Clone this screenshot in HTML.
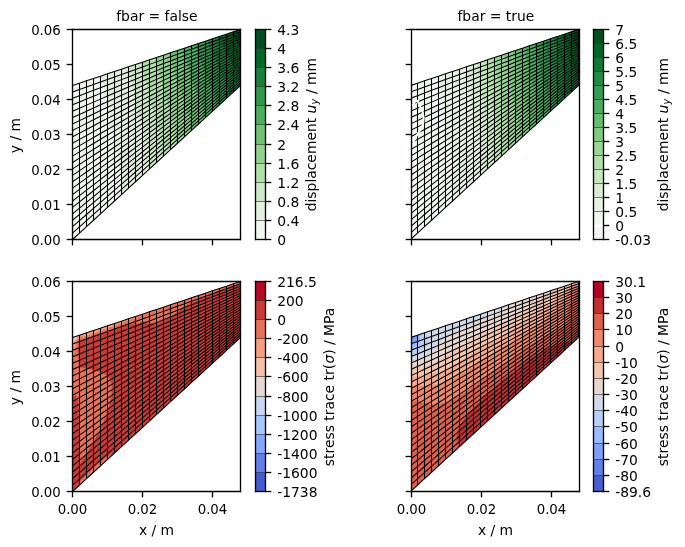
<!DOCTYPE html>
<html><head><meta charset="utf-8"><title>fbar</title><style>html,body{margin:0;padding:0;background:#fff}svg{display:block}</style></head><body>
<svg width="685" height="547" viewBox="0 0 685 547" version="1.1">
<defs>
<style type="text/css">*{stroke-linejoin: round; stroke-linecap: butt}</style>
</defs>
<g id="figure_1">
<g id="patch_1">
<path d="M 0 547 
L 685 547 
L 685 0 
L 0 0 
z
" style="fill: #ffffff"/>
</g>
<g id="axes_1">
<g id="patch_2">
<path d="M 72.5 239.5 
L 240.5 239.5 
L 240.5 29.5 
L 72.5 29.5 
z
" style="fill: #ffffff"/>
</g>
<g id="TriContourSet_1">
<path d="M 122.260 193.886 
L 122.260 193.336 
L 122.260 188.678 
L 122.260 188.129 
L 122.260 183.471 
L 122.260 182.922 
L 122.260 178.264 
L 122.220 177.777 
L 121.812 173.424 
L 121.774 173.258 
L 121.5 172.196 
L 120.947 169.320 
L 120.856 168.966 
L 120.150 165.309 
L 119.923 164.444 
L 119.314 161.319 
L 118.940 159.914 
L 118.434 157.354 
L 117.905 155.373 
L 117.510 153.411 
L 116.823 150.815 
L 116.549 149.477 
L 115.709 146.226 
L 115.564 145.530 
L 114.588 141.588 
L 114.578 141.536 
L 114.5 141.207 
L 113.790 137.257 
L 113.673 136.766 
L 112.986 132.966 
L 112.731 131.916 
L 112.142 128.692 
L 111.737 127.050 
L 111.252 124.437 
L 110.692 122.164 
L 110.320 120.195 
L 109.603 117.251 
L 109.353 115.954 
L 108.485 112.299 
L 108.366 111.691 
L 107.5 107.879 
L 107.408 107.347 
L 107.394 107.279 
L 106.633 102.767 
L 106.488 102.123 
L 105.821 98.195 
L 105.536 96.942 
L 104.967 93.634 
L 104.532 91.736 
L 104.069 89.086 
L 103.478 86.501 
L 103.129 84.543 
L 102.381 81.230 
L 102.156 79.992 
L 101.260 75.913 
L 100.5 76.166 
L 93.5 78.5 
L 86.5 80.833 
L 79.5 83.166 
L 72.5 85.5 
L 72.5 91.916 
L 72.5 98.333 
L 72.5 104.75 
L 72.5 111.166 
L 72.5 117.583 
L 72.5 124 
L 72.5 130.416 
L 72.5 136.833 
L 72.5 143.25 
L 72.5 149.666 
L 72.5 156.083 
L 72.5 162.5 
L 72.5 168.916 
L 72.5 175.333 
L 72.5 181.75 
L 72.5 188.166 
L 72.5 194.583 
L 72.5 201 
L 72.5 207.416 
L 72.5 213.833 
L 72.5 220.25 
L 72.5 226.666 
L 72.5 233.083 
L 72.5 239.5 
L 79.5 233.083 
L 86.5 226.666 
L 93.5 220.25 
L 100.5 213.833 
L 107.5 207.416 
L 114.5 201 
L 121.5 194.583 
z
" clip-path="url(#p8887a29418)" style="fill: #f2f6f0; stroke: #f2f6f0; stroke-width: 0.6"/>
<path d="M 149.5 168.916 
L 149.5 164.371 
L 149.5 159.826 
L 149.5 155.281 
L 149.041 151.421 
L 149.017 151.131 
L 147.970 148.437 
L 147.783 147.556 
L 146.890 145.415 
L 146.581 143.895 
L 145.881 142.238 
L 145.470 140.108 
L 144.966 138.883 
L 144.472 136.186 
L 144.146 135.352 
L 143.584 132.138 
L 143.412 131.666 
L 142.793 127.982 
L 142.749 127.850 
L 142.5 126.362 
L 141.853 124.336 
L 141.772 123.937 
L 140.750 121.064 
L 140.537 119.976 
L 139.681 117.694 
L 139.351 115.926 
L 138.691 114.173 
L 138.261 111.762 
L 137.795 110.484 
L 137.286 107.482 
L 136.993 106.637 
L 136.419 103.098 
L 136.274 102.652 
L 135.645 98.624 
L 135.623 98.552 
L 135.5 97.775 
L 134.633 94.853 
L 134.525 94.279 
L 133.532 91.243 
L 133.294 89.930 
L 132.476 87.527 
L 132.124 85.494 
L 131.504 83.665 
L 131.057 80.960 
L 130.627 79.650 
L 130.104 76.331 
L 129.843 75.493 
L 129.257 71.617 
L 129.139 71.213 
L 128.5 66.833 
L 121.5 69.166 
L 114.5 71.5 
L 107.5 73.833 
L 101.260 75.913 
L 102.156 79.992 
L 102.381 81.230 
L 103.129 84.543 
L 103.478 86.501 
L 104.069 89.086 
L 104.532 91.736 
L 104.967 93.634 
L 105.536 96.942 
L 105.821 98.195 
L 106.488 102.123 
L 106.633 102.767 
L 107.394 107.279 
L 107.408 107.347 
L 107.5 107.879 
L 108.366 111.691 
L 108.485 112.299 
L 109.353 115.954 
L 109.603 117.251 
L 110.320 120.195 
L 110.692 122.164 
L 111.252 124.437 
L 111.737 127.050 
L 112.142 128.692 
L 112.731 131.916 
L 112.986 132.966 
L 113.673 136.766 
L 113.790 137.257 
L 114.5 141.207 
L 114.578 141.536 
L 114.588 141.588 
L 115.564 145.530 
L 115.709 146.226 
L 116.549 149.477 
L 116.823 150.815 
L 117.510 153.411 
L 117.905 155.373 
L 118.434 157.354 
L 118.940 159.914 
L 119.314 161.319 
L 119.923 164.444 
L 120.150 165.309 
L 120.856 168.966 
L 120.947 169.320 
L 121.5 172.196 
L 121.774 173.258 
L 121.812 173.424 
L 122.220 177.777 
L 122.260 178.264 
L 122.260 182.922 
L 122.260 183.471 
L 122.260 188.129 
L 122.260 188.678 
L 122.260 193.336 
L 122.260 193.886 
L 128.5 188.166 
L 135.5 181.75 
L 142.5 175.333 
z
" clip-path="url(#p8887a29418)" style="fill: #e3f0e0; stroke: #e3f0e0; stroke-width: 0.6"/>
<path d="M 162.238 157.240 
L 162.238 153.793 
L 162.238 153.004 
L 162.238 149.557 
L 162.238 148.768 
L 162.238 145.322 
L 162.238 144.533 
L 161.952 141.499 
L 161.854 140.612 
L 161.233 138.278 
L 160.862 137.156 
L 160.348 135.253 
L 159.822 133.688 
L 159.424 132.239 
L 158.740 130.202 
L 158.467 129.224 
L 157.636 126.679 
L 157.495 126.183 
L 156.542 123.095 
L 156.537 123.076 
L 156.5 122.948 
L 155.732 119.765 
L 155.615 119.345 
L 154.912 116.436 
L 154.659 115.569 
L 154.059 113.110 
L 153.658 111.776 
L 153.166 109.791 
L 152.609 107.962 
L 152.235 106.477 
L 151.520 104.120 
L 151.273 103.154 
L 150.415 100.234 
L 150.301 99.796 
L 149.5 96.903 
L 149.372 96.347 
L 149.354 96.271 
L 148.570 92.743 
L 148.427 92.189 
L 147.744 89.127 
L 147.463 88.080 
L 146.884 85.510 
L 146.452 83.945 
L 145.983 81.896 
L 145.394 79.781 
L 145.044 78.279 
L 144.300 75.581 
L 144.079 74.645 
L 143.195 71.331 
L 143.108 70.969 
L 142.5 68.551 
L 142.213 67.184 
L 142.171 66.999 
L 141.407 63.292 
L 141.238 62.587 
L 135.5 64.5 
L 128.5 66.833 
L 129.139 71.213 
L 129.257 71.617 
L 129.843 75.493 
L 130.104 76.331 
L 130.627 79.650 
L 131.057 80.960 
L 131.504 83.665 
L 132.124 85.494 
L 132.476 87.527 
L 133.294 89.930 
L 133.532 91.243 
L 134.525 94.279 
L 134.633 94.853 
L 135.5 97.775 
L 135.623 98.552 
L 135.645 98.624 
L 136.274 102.652 
L 136.419 103.098 
L 136.993 106.637 
L 137.286 107.482 
L 137.795 110.484 
L 138.261 111.762 
L 138.691 114.173 
L 139.351 115.926 
L 139.681 117.694 
L 140.537 119.976 
L 140.750 121.064 
L 141.772 123.937 
L 141.853 124.336 
L 142.5 126.362 
L 142.749 127.850 
L 142.793 127.982 
L 143.412 131.666 
L 143.584 132.138 
L 144.146 135.352 
L 144.472 136.186 
L 144.966 138.883 
L 145.470 140.108 
L 145.881 142.238 
L 146.581 143.895 
L 146.890 145.415 
L 147.783 147.556 
L 147.970 148.437 
L 149.017 151.131 
L 149.041 151.421 
L 149.5 155.281 
L 149.5 159.826 
L 149.5 164.371 
L 149.5 168.916 
L 156.5 162.5 
z
" clip-path="url(#p8887a29418)" style="fill: #cce8c7; stroke: #cce8c7; stroke-width: 0.6"/>
<path d="M 176.088 144.544 
L 176.088 141.459 
L 176.088 140.645 
L 176.088 137.560 
L 176.088 136.746 
L 176.088 133.661 
L 176.088 132.847 
L 175.775 130.198 
L 175.675 129.286 
L 175.009 127.342 
L 174.646 126.195 
L 174.115 124.622 
L 173.622 123.051 
L 173.222 121.856 
L 172.598 119.856 
L 172.330 119.047 
L 171.572 116.614 
L 171.435 116.196 
L 170.541 113.325 
L 170.536 113.309 
L 170.5 113.192 
L 169.629 110.428 
L 169.501 109.991 
L 168.727 107.499 
L 168.469 106.603 
L 167.830 104.522 
L 167.441 103.161 
L 166.936 101.496 
L 166.417 99.667 
L 166.044 98.425 
L 165.393 96.123 
L 165.151 95.311 
L 164.367 92.531 
L 164.256 92.157 
L 163.5 89.479 
L 163.354 88.973 
L 163.333 88.893 
L 162.448 85.786 
L 162.294 85.207 
L 161.548 82.551 
L 161.263 81.467 
L 160.651 79.267 
L 160.236 77.675 
L 159.757 75.936 
L 159.212 73.831 
L 158.865 72.560 
L 158.188 69.938 
L 157.972 69.142 
L 157.161 65.997 
L 157.076 65.683 
L 156.5 63.451 
L 156.172 62.204 
L 156.124 62.009 
L 155.268 58.710 
L 155.088 57.970 
L 149.5 59.833 
L 142.5 62.166 
L 141.238 62.587 
L 141.407 63.292 
L 142.171 66.999 
L 142.213 67.184 
L 142.5 68.551 
L 143.108 70.969 
L 143.195 71.331 
L 144.079 74.645 
L 144.300 75.581 
L 145.044 78.279 
L 145.394 79.781 
L 145.983 81.896 
L 146.452 83.945 
L 146.884 85.510 
L 147.463 88.080 
L 147.744 89.127 
L 148.427 92.189 
L 148.570 92.743 
L 149.354 96.271 
L 149.372 96.347 
L 149.5 96.903 
L 150.301 99.796 
L 150.415 100.234 
L 151.273 103.154 
L 151.520 104.120 
L 152.235 106.477 
L 152.609 107.962 
L 153.166 109.791 
L 153.658 111.776 
L 154.059 113.110 
L 154.659 115.569 
L 154.912 116.436 
L 155.615 119.345 
L 155.732 119.765 
L 156.5 122.948 
L 156.537 123.076 
L 156.542 123.095 
L 157.495 126.183 
L 157.636 126.679 
L 158.467 129.224 
L 158.740 130.202 
L 159.424 132.239 
L 159.822 133.688 
L 160.348 135.253 
L 160.862 137.156 
L 161.233 138.278 
L 161.854 140.612 
L 161.952 141.499 
L 162.238 144.533 
L 162.238 145.322 
L 162.238 148.768 
L 162.238 149.557 
L 162.238 153.004 
L 162.238 153.793 
L 162.238 157.240 
L 163.5 156.083 
L 170.5 149.666 
z
" clip-path="url(#p8887a29418)" style="fill: #b0dfaa; stroke: #b0dfaa; stroke-width: 0.6"/>
<path d="M 190.078 131.719 
L 190.078 128.910 
L 190.078 128.160 
L 190.078 125.351 
L 190.078 124.601 
L 190.078 121.792 
L 190.078 121.042 
L 189.763 118.658 
L 189.663 117.824 
L 188.990 116.115 
L 188.628 115.078 
L 188.090 113.698 
L 187.599 112.277 
L 187.196 111.230 
L 186.576 109.422 
L 186.306 108.714 
L 185.557 106.514 
L 185.419 106.150 
L 184.540 103.554 
L 184.535 103.540 
L 184.5 103.435 
L 183.622 100.964 
L 183.495 100.565 
L 182.713 98.340 
L 182.455 97.521 
L 181.809 95.666 
L 181.422 94.423 
L 180.911 92.942 
L 180.394 91.271 
L 180.018 90.168 
L 179.372 88.066 
L 179.128 87.347 
L 178.353 84.809 
L 178.242 84.479 
L 177.5 82.036 
L 177.353 81.578 
L 177.332 81.505 
L 176.440 78.696 
L 176.287 78.162 
L 175.532 75.764 
L 175.248 74.766 
L 174.629 72.782 
L 174.216 71.316 
L 173.732 69.752 
L 173.189 67.814 
L 172.839 66.672 
L 172.168 64.259 
L 171.951 63.546 
L 171.150 60.654 
L 171.065 60.374 
L 170.5 58.323 
L 170.170 57.183 
L 170.122 57.003 
L 169.258 53.993 
L 169.078 53.307 
L 163.5 55.166 
L 156.5 57.5 
L 155.088 57.970 
L 155.268 58.710 
L 156.124 62.009 
L 156.172 62.204 
L 156.5 63.451 
L 157.076 65.683 
L 157.161 65.997 
L 157.972 69.142 
L 158.188 69.938 
L 158.865 72.560 
L 159.212 73.831 
L 159.757 75.936 
L 160.236 77.675 
L 160.651 79.267 
L 161.263 81.467 
L 161.548 82.551 
L 162.294 85.207 
L 162.448 85.786 
L 163.333 88.893 
L 163.354 88.973 
L 163.5 89.479 
L 164.256 92.157 
L 164.367 92.531 
L 165.151 95.311 
L 165.393 96.123 
L 166.044 98.425 
L 166.417 99.667 
L 166.936 101.496 
L 167.441 103.161 
L 167.830 104.522 
L 168.469 106.603 
L 168.727 107.499 
L 169.501 109.991 
L 169.629 110.428 
L 170.5 113.192 
L 170.536 113.309 
L 170.541 113.325 
L 171.435 116.196 
L 171.572 116.614 
L 172.330 119.047 
L 172.598 119.856 
L 173.222 121.856 
L 173.622 123.051 
L 174.115 124.622 
L 174.646 126.195 
L 175.009 127.342 
L 175.675 129.286 
L 175.775 130.198 
L 176.088 132.847 
L 176.088 133.661 
L 176.088 136.746 
L 176.088 137.560 
L 176.088 140.645 
L 176.088 141.459 
L 176.088 144.544 
L 177.5 143.25 
L 184.5 136.833 
z
" clip-path="url(#p8887a29418)" style="fill: #91d28e; stroke: #91d28e; stroke-width: 0.6"/>
<path d="M 203.372 119.533 
L 203.372 117.317 
L 203.372 116.297 
L 203.372 114.081 
L 203.372 113.062 
L 203.372 110.845 
L 203.372 109.826 
L 203.096 107.968 
L 202.957 106.930 
L 202.373 105.647 
L 201.922 104.507 
L 201.475 103.510 
L 200.895 102.028 
L 200.582 101.322 
L 199.875 99.493 
L 199.696 99.083 
L 198.862 96.904 
L 198.815 96.794 
L 198.5 95.961 
L 197.916 94.514 
L 197.831 94.279 
L 197.004 92.218 
L 196.788 91.611 
L 196.096 89.874 
L 195.749 88.889 
L 195.193 87.481 
L 194.716 86.114 
L 194.296 85.037 
L 193.691 83.284 
L 193.404 82.543 
L 192.672 80.400 
L 192.519 79.999 
L 191.661 77.463 
L 191.640 77.407 
L 191.5 76.990 
L 190.733 74.836 
L 190.622 74.490 
L 189.822 72.233 
L 189.580 71.469 
L 188.915 69.581 
L 188.542 68.396 
L 188.013 66.880 
L 187.511 65.269 
L 187.117 64.130 
L 186.486 62.089 
L 186.227 61.330 
L 185.469 58.856 
L 185.343 58.482 
L 184.5 55.703 
L 184.463 55.589 
L 184.458 55.571 
L 183.551 52.724 
L 183.414 52.249 
L 182.641 49.812 
L 182.372 48.875 
L 177.5 50.5 
L 170.5 52.833 
L 169.078 53.307 
L 169.258 53.993 
L 170.122 57.003 
L 170.170 57.183 
L 170.5 58.323 
L 171.065 60.374 
L 171.150 60.654 
L 171.951 63.546 
L 172.168 64.259 
L 172.839 66.672 
L 173.189 67.814 
L 173.732 69.752 
L 174.216 71.316 
L 174.629 72.782 
L 175.248 74.766 
L 175.532 75.764 
L 176.287 78.162 
L 176.440 78.696 
L 177.332 81.505 
L 177.353 81.578 
L 177.5 82.036 
L 178.242 84.479 
L 178.353 84.809 
L 179.128 87.347 
L 179.372 88.066 
L 180.018 90.168 
L 180.394 91.271 
L 180.911 92.942 
L 181.422 94.423 
L 181.809 95.666 
L 182.455 97.521 
L 182.713 98.340 
L 183.495 100.565 
L 183.622 100.964 
L 184.5 103.435 
L 184.535 103.540 
L 184.540 103.554 
L 185.419 106.150 
L 185.557 106.514 
L 186.306 108.714 
L 186.576 109.422 
L 187.196 111.230 
L 187.599 112.277 
L 188.090 113.698 
L 188.628 115.078 
L 188.990 116.115 
L 189.663 117.824 
L 189.763 118.658 
L 190.078 121.042 
L 190.078 121.792 
L 190.078 124.601 
L 190.078 125.351 
L 190.078 128.160 
L 190.078 128.910 
L 190.078 131.719 
L 191.5 130.416 
L 198.5 124 
z
" clip-path="url(#p8887a29418)" style="fill: #70c274; stroke: #70c274; stroke-width: 0.6"/>
<path d="M 216.019 107.940 
L 216.019 106.510 
L 216.019 105.012 
L 216.019 103.582 
L 216.019 102.083 
L 216.019 100.653 
L 216.019 99.155 
L 215.825 97.967 
L 215.607 96.564 
L 215.211 95.787 
L 214.574 94.447 
L 214.309 93.923 
L 213.537 92.283 
L 213.404 92.018 
L 212.5 90.069 
L 211.609 88.103 
L 211.478 87.793 
L 210.719 86.094 
L 210.456 85.468 
L 209.827 84.044 
L 209.430 83.095 
L 208.931 81.954 
L 208.401 80.675 
L 208.031 79.825 
L 207.367 78.208 
L 207.128 77.655 
L 206.329 75.692 
L 206.223 75.444 
L 205.5 73.642 
L 205.321 73.195 
L 205.295 73.124 
L 204.431 70.924 
L 204.274 70.499 
L 203.541 68.611 
L 203.251 67.825 
L 202.648 66.257 
L 202.225 65.103 
L 201.751 63.862 
L 201.194 62.333 
L 200.851 61.428 
L 200.159 59.515 
L 199.947 58.953 
L 199.122 56.648 
L 199.042 56.436 
L 198.5 54.902 
L 198.143 53.886 
L 198.091 53.728 
L 197.253 51.312 
L 197.069 50.754 
L 196.362 48.694 
L 196.046 47.731 
L 195.469 46.036 
L 195.019 44.660 
L 191.5 45.833 
L 184.5 48.166 
L 182.372 48.875 
L 182.641 49.812 
L 183.414 52.249 
L 183.551 52.724 
L 184.458 55.571 
L 184.463 55.589 
L 184.5 55.703 
L 185.343 58.482 
L 185.469 58.856 
L 186.227 61.330 
L 186.486 62.089 
L 187.117 64.130 
L 187.511 65.269 
L 188.013 66.880 
L 188.542 68.396 
L 188.915 69.581 
L 189.580 71.469 
L 189.822 72.233 
L 190.622 74.490 
L 190.733 74.836 
L 191.5 76.990 
L 191.640 77.407 
L 191.661 77.463 
L 192.519 79.999 
L 192.672 80.400 
L 193.404 82.543 
L 193.691 83.284 
L 194.296 85.037 
L 194.716 86.114 
L 195.193 87.481 
L 195.749 88.889 
L 196.096 89.874 
L 196.788 91.611 
L 197.004 92.218 
L 197.831 94.279 
L 197.916 94.514 
L 198.5 95.961 
L 198.815 96.794 
L 198.862 96.904 
L 199.696 99.083 
L 199.875 99.493 
L 200.582 101.322 
L 200.895 102.028 
L 201.475 103.510 
L 201.922 104.507 
L 202.373 105.647 
L 202.957 106.930 
L 203.096 107.968 
L 203.372 109.826 
L 203.372 110.845 
L 203.372 113.062 
L 203.372 114.081 
L 203.372 116.297 
L 203.372 117.317 
L 203.372 119.533 
L 205.5 117.583 
L 212.5 111.166 
z
" clip-path="url(#p8887a29418)" style="fill: #4aaf61; stroke: #4aaf61; stroke-width: 0.6"/>
<path d="M 228.549 96.454 
L 228.549 95.721 
L 228.549 93.830 
L 228.549 93.097 
L 228.549 91.206 
L 228.549 90.473 
L 228.549 88.582 
L 228.433 87.990 
L 228.144 86.290 
L 227.929 85.956 
L 227.139 84.456 
L 227.056 84.323 
L 226.5 83.257 
L 226.168 82.681 
L 226.120 82.584 
L 225.247 81.061 
L 225.067 80.687 
L 224.330 79.393 
L 224.019 78.735 
L 223.420 77.670 
L 222.981 76.726 
L 222.521 75.893 
L 221.956 74.657 
L 221.633 74.060 
L 220.943 72.531 
L 220.754 72.174 
L 219.939 70.350 
L 219.882 70.239 
L 219.5 69.378 
L 218.984 68.313 
L 218.909 68.135 
L 218.063 66.383 
L 217.857 65.884 
L 217.147 64.405 
L 216.811 63.578 
L 216.240 62.374 
L 215.775 61.215 
L 215.343 60.288 
L 214.752 58.796 
L 214.456 58.150 
L 213.741 56.321 
L 213.579 55.960 
L 212.739 53.793 
L 212.708 53.723 
L 212.5 53.183 
L 211.800 51.508 
L 211.699 51.233 
L 210.879 49.270 
L 210.647 48.627 
L 209.965 46.982 
L 209.603 45.967 
L 209.059 44.642 
L 208.570 43.252 
L 208.165 42.250 
L 207.549 40.483 
L 205.5 41.166 
L 198.5 43.5 
L 195.019 44.660 
L 195.469 46.036 
L 196.046 47.731 
L 196.362 48.694 
L 197.069 50.754 
L 197.253 51.312 
L 198.091 53.728 
L 198.143 53.886 
L 198.5 54.902 
L 199.042 56.436 
L 199.122 56.648 
L 199.947 58.953 
L 200.159 59.515 
L 200.851 61.428 
L 201.194 62.333 
L 201.751 63.862 
L 202.225 65.103 
L 202.648 66.257 
L 203.251 67.825 
L 203.541 68.611 
L 204.274 70.499 
L 204.431 70.924 
L 205.295 73.124 
L 205.321 73.195 
L 205.5 73.642 
L 206.223 75.444 
L 206.329 75.692 
L 207.128 77.655 
L 207.367 78.208 
L 208.031 79.825 
L 208.401 80.675 
L 208.931 81.954 
L 209.430 83.095 
L 209.827 84.044 
L 210.456 85.468 
L 210.719 86.094 
L 211.478 87.793 
L 211.609 88.103 
L 212.5 90.069 
L 213.404 92.018 
L 213.537 92.283 
L 214.309 93.923 
L 214.574 94.447 
L 215.211 95.787 
L 215.607 96.564 
L 215.825 97.967 
L 216.019 99.155 
L 216.019 100.653 
L 216.019 102.083 
L 216.019 103.582 
L 216.019 105.012 
L 216.019 106.510 
L 216.019 107.940 
L 219.5 104.75 
L 226.5 98.333 
z
" clip-path="url(#p8887a29418)" style="fill: #2f984f; stroke: #2f984f; stroke-width: 0.6"/>
<path d="M 240.5 85.5 
L 240.5 83.166 
L 240.5 80.833 
L 240.5 78.5 
L 240.123 76.609 
L 240.101 76.493 
L 239.286 75.231 
L 239.104 74.943 
L 238.416 73.851 
L 238.099 73.350 
L 237.535 72.440 
L 237.081 71.718 
L 236.640 71.001 
L 236.045 70.050 
L 235.729 69.535 
L 234.992 68.343 
L 234.805 68.038 
L 233.927 66.593 
L 233.873 66.505 
L 233.5 65.875 
L 232.979 64.915 
L 232.901 64.766 
L 232.113 63.271 
L 231.904 62.872 
L 231.241 61.591 
L 230.897 60.934 
L 230.357 59.879 
L 229.875 58.957 
L 229.459 58.138 
L 228.836 56.939 
L 228.546 56.367 
L 227.780 54.879 
L 227.619 54.563 
L 226.713 52.774 
L 226.686 52.721 
L 226.5 52.343 
L 225.806 50.822 
L 225.702 50.590 
L 224.939 48.878 
L 224.703 48.351 
L 224.065 46.898 
L 223.694 46.069 
L 223.179 44.885 
L 222.669 43.743 
L 222.277 42.841 
L 221.626 41.375 
L 221.361 40.765 
L 220.568 38.961 
L 220.433 38.653 
L 219.5 36.5 
L 212.5 38.833 
L 207.549 40.483 
L 208.165 42.250 
L 208.570 43.252 
L 209.059 44.642 
L 209.603 45.967 
L 209.965 46.982 
L 210.647 48.627 
L 210.879 49.270 
L 211.699 51.233 
L 211.800 51.508 
L 212.5 53.183 
L 212.708 53.723 
L 212.739 53.793 
L 213.579 55.960 
L 213.741 56.321 
L 214.456 58.150 
L 214.752 58.796 
L 215.343 60.288 
L 215.775 61.215 
L 216.240 62.374 
L 216.811 63.578 
L 217.147 64.405 
L 217.857 65.884 
L 218.063 66.383 
L 218.909 68.135 
L 218.984 68.313 
L 219.5 69.378 
L 219.882 70.239 
L 219.939 70.350 
L 220.754 72.174 
L 220.943 72.531 
L 221.633 74.060 
L 221.956 74.657 
L 222.521 75.893 
L 222.981 76.726 
L 223.420 77.670 
L 224.019 78.735 
L 224.330 79.393 
L 225.067 80.687 
L 225.247 81.061 
L 226.120 82.584 
L 226.168 82.681 
L 226.5 83.257 
L 227.056 84.323 
L 227.139 84.456 
L 227.929 85.956 
L 228.144 86.290 
L 228.433 87.990 
L 228.549 88.582 
L 228.549 90.473 
L 228.549 91.206 
L 228.549 93.097 
L 228.549 93.830 
L 228.549 95.721 
L 228.549 96.454 
L 233.5 91.916 
z
" clip-path="url(#p8887a29418)" style="fill: #17813d; stroke: #17813d; stroke-width: 0.6"/>
<path d="M 240.5 48.544 
L 240.347 48.301 
L 240.325 48.258 
L 239.381 46.796 
L 239.224 46.475 
L 238.419 45.240 
L 238.133 44.634 
L 237.482 43.618 
L 237.073 42.725 
L 236.579 41.923 
L 236.053 40.747 
L 235.710 40.159 
L 235.071 38.705 
L 234.867 38.332 
L 234.111 36.606 
L 234.035 36.457 
L 233.5 35.248 
L 233.155 34.591 
L 233.106 34.477 
L 232.188 32.771 
L 232.004 32.331 
L 226.5 34.166 
L 219.5 36.5 
L 220.433 38.653 
L 220.568 38.961 
L 221.361 40.765 
L 221.626 41.375 
L 222.277 42.841 
L 222.669 43.743 
L 223.179 44.885 
L 223.694 46.069 
L 224.065 46.898 
L 224.703 48.351 
L 224.939 48.878 
L 225.702 50.590 
L 225.806 50.822 
L 226.5 52.343 
L 226.686 52.721 
L 226.713 52.774 
L 227.619 54.563 
L 227.780 54.879 
L 228.546 56.367 
L 228.836 56.939 
L 229.459 58.138 
L 229.875 58.957 
L 230.357 59.879 
L 230.897 60.934 
L 231.241 61.591 
L 231.904 62.872 
L 232.113 63.271 
L 232.901 64.766 
L 232.979 64.915 
L 233.5 65.875 
L 233.873 66.505 
L 233.927 66.593 
L 234.805 68.038 
L 234.992 68.343 
L 235.729 69.535 
L 236.045 70.050 
L 236.640 71.001 
L 237.081 71.718 
L 237.535 72.440 
L 238.099 73.350 
L 238.416 73.851 
L 239.104 74.943 
L 239.286 75.231 
L 240.101 76.493 
L 240.123 76.609 
L 240.5 78.5 
L 240.5 80.833 
L 240.5 83.166 
L 240.5 85.5 
L 240.5 83.166 
L 240.5 80.833 
L 240.5 78.5 
L 240.5 76.166 
L 240.5 73.833 
L 240.5 71.5 
L 240.5 69.166 
L 240.5 66.833 
L 240.5 64.5 
L 240.5 62.166 
L 240.5 59.833 
L 240.5 57.5 
L 240.5 55.166 
L 240.5 52.833 
L 240.5 50.5 
z
" clip-path="url(#p8887a29418)" style="fill: #00692a; stroke: #00692a; stroke-width: 0.6"/>
<path d="M 232.004 32.331 
L 232.188 32.771 
L 233.106 34.477 
L 233.155 34.591 
L 233.5 35.248 
L 234.035 36.457 
L 234.111 36.606 
L 234.867 38.332 
L 235.071 38.705 
L 235.710 40.159 
L 236.053 40.747 
L 236.579 41.923 
L 237.073 42.725 
L 237.482 43.618 
L 238.133 44.634 
L 238.419 45.240 
L 239.224 46.475 
L 239.381 46.796 
L 240.325 48.258 
L 240.347 48.301 
L 240.5 48.544 
L 240.5 48.166 
L 240.5 45.833 
L 240.5 43.5 
L 240.5 41.166 
L 240.5 38.833 
L 240.5 36.5 
L 240.5 34.166 
L 240.5 31.833 
L 240.5 29.5 
L 233.5 31.833 
z
" clip-path="url(#p8887a29418)" style="fill: #004e1f; stroke: #004e1f; stroke-width: 0.6"/>
</g>
<g id="matplotlib.axis_1">
<g id="xtick_1">
<g id="line2d_1">
<g>
<path d="M 0 0  L 0 5.833  " transform="translate(72.5 239.5)" style="stroke: #000000; stroke-width: 1.333"/>
</g>
</g>
</g>
<g id="xtick_2">
<g id="line2d_2">
<g>
<path d="M 0 0  L 0 5.833  " transform="translate(142.5 239.5)" style="stroke: #000000; stroke-width: 1.333"/>
</g>
</g>
</g>
<g id="xtick_3">
<g id="line2d_3">
<g>
<path d="M 0 0  L 0 5.833  " transform="translate(212.5 239.5)" style="stroke: #000000; stroke-width: 1.333"/>
</g>
</g>
</g>
</g>
<g id="matplotlib.axis_2">
<g id="ytick_1">
<g id="line2d_4">
<g>
<path d="M 0 0  L -5.833 0  " transform="translate(72.5 239.5)" style="stroke: #000000; stroke-width: 1.333"/>
</g>
</g>
<g id="text_1">
<text style="font-size: 13.33px; font-family: 'DejaVu Sans', sans-serif; text-anchor: end" x="60.833" y="244.564" transform="rotate(0 60.833 244.564)">0.00</text>
</g>
</g>
<g id="ytick_2">
<g id="line2d_5">
<g>
<path d="M 0 0  L -5.833 0  " transform="translate(72.5 204.5)" style="stroke: #000000; stroke-width: 1.333"/>
</g>
</g>
<g id="text_2">
<text style="font-size: 13.33px; font-family: 'DejaVu Sans', sans-serif; text-anchor: end" x="60.833" y="209.564" transform="rotate(0 60.833 209.564)">0.01</text>
</g>
</g>
<g id="ytick_3">
<g id="line2d_6">
<g>
<path d="M 0 0  L -5.833 0  " transform="translate(72.5 169.5)" style="stroke: #000000; stroke-width: 1.333"/>
</g>
</g>
<g id="text_3">
<text style="font-size: 13.33px; font-family: 'DejaVu Sans', sans-serif; text-anchor: end" x="60.833" y="174.564" transform="rotate(0 60.833 174.564)">0.02</text>
</g>
</g>
<g id="ytick_4">
<g id="line2d_7">
<g>
<path d="M 0 0  L -5.833 0  " transform="translate(72.5 134.5)" style="stroke: #000000; stroke-width: 1.333"/>
</g>
</g>
<g id="text_4">
<text style="font-size: 13.33px; font-family: 'DejaVu Sans', sans-serif; text-anchor: end" x="60.833" y="139.564" transform="rotate(0 60.833 139.564)">0.03</text>
</g>
</g>
<g id="ytick_5">
<g id="line2d_8">
<g>
<path d="M 0 0  L -5.833 0  " transform="translate(72.5 99.5)" style="stroke: #000000; stroke-width: 1.333"/>
</g>
</g>
<g id="text_5">
<text style="font-size: 13.33px; font-family: 'DejaVu Sans', sans-serif; text-anchor: end" x="60.833" y="104.564" transform="rotate(0 60.833 104.564)">0.04</text>
</g>
</g>
<g id="ytick_6">
<g id="line2d_9">
<g>
<path d="M 0 0  L -5.833 0  " transform="translate(72.5 64.5)" style="stroke: #000000; stroke-width: 1.333"/>
</g>
</g>
<g id="text_6">
<text style="font-size: 13.33px; font-family: 'DejaVu Sans', sans-serif; text-anchor: end" x="60.833" y="69.564" transform="rotate(0 60.833 69.564)">0.05</text>
</g>
</g>
<g id="ytick_7">
<g id="line2d_10">
<g>
<path d="M 0 0  L -5.833 0  " transform="translate(72.5 29.5)" style="stroke: #000000; stroke-width: 1.333"/>
</g>
</g>
<g id="text_7">
<text style="font-size: 13.33px; font-family: 'DejaVu Sans', sans-serif; text-anchor: end" x="60.833" y="34.564" transform="rotate(0 60.833 34.564)">0.06</text>
</g>
</g>
<g id="text_8">
<text style="font-size: 13.89px; font-family: 'DejaVu Sans', sans-serif; text-anchor: middle" x="19.564" y="135.5" transform="rotate(-90 19.564 135.5)">y / m</text>
</g>
</g>
<g id="patch_3">
<path d="M 72.5 239.5 
L 72.5 29.5 
" style="fill: none; stroke: #000000; stroke-width: 1.333; stroke-linejoin: miter; stroke-linecap: square"/>
</g>
<g id="patch_4">
<path d="M 240.5 239.5 
L 240.5 29.5 
" style="fill: none; stroke: #000000; stroke-width: 1.333; stroke-linejoin: miter; stroke-linecap: square"/>
</g>
<g id="patch_5">
<path d="M 72.5 239.5 
L 240.5 239.5 
" style="fill: none; stroke: #000000; stroke-width: 1.333; stroke-linejoin: miter; stroke-linecap: square"/>
</g>
<g id="patch_6">
<path d="M 72.5 29.5 
L 240.5 29.5 
" style="fill: none; stroke: #000000; stroke-width: 1.333; stroke-linejoin: miter; stroke-linecap: square"/>
</g>
<g id="LineCollection_1">
<path d="M 72.5 239.5 
L 79.5 233.083 
L 86.5 226.666 
L 93.5 220.25 
L 100.5 213.833 
L 107.5 207.416 
L 114.5 201 
L 121.5 194.583 
L 128.5 188.166 
L 135.5 181.75 
L 142.5 175.333 
L 149.5 168.916 
L 156.5 162.5 
L 163.5 156.083 
L 170.5 149.666 
L 177.5 143.25 
L 184.5 136.833 
L 191.5 130.416 
L 198.5 124 
L 205.5 117.583 
L 212.5 111.166 
L 219.5 104.75 
L 226.5 98.333 
L 233.5 91.916 
L 240.5 85.5 
" clip-path="url(#p8887a29418)" style="fill: none; stroke: #000000; stroke-width: 1.05; stroke-linejoin: miter"/>
<path d="M 72.5 233.083 
L 79.5 226.836 
L 86.5 220.590 
L 93.5 214.343 
L 100.5 208.097 
L 107.5 201.850 
L 114.5 195.604 
L 121.5 189.357 
L 128.5 183.111 
L 135.5 176.864 
L 142.5 170.618 
L 149.5 164.371 
L 156.5 158.125 
L 163.5 151.878 
L 170.5 145.631 
L 177.5 139.385 
L 184.5 133.138 
L 191.5 126.892 
L 198.5 120.645 
L 205.5 114.399 
L 212.5 108.152 
L 219.5 101.906 
L 226.5 95.659 
L 233.5 89.413 
L 240.5 83.166 
" clip-path="url(#p8887a29418)" style="fill: none; stroke: #000000; stroke-width: 1.05; stroke-linejoin: miter"/>
<path d="M 72.5 226.666 
L 79.5 220.590 
L 86.5 214.513 
L 93.5 208.437 
L 100.5 202.361 
L 107.5 196.284 
L 114.5 190.208 
L 121.5 184.131 
L 128.5 178.055 
L 135.5 171.979 
L 142.5 165.902 
L 149.5 159.826 
L 156.5 153.75 
L 163.5 147.673 
L 170.5 141.597 
L 177.5 135.520 
L 184.5 129.444 
L 191.5 123.368 
L 198.5 117.291 
L 205.5 111.215 
L 212.5 105.138 
L 219.5 99.062 
L 226.5 92.986 
L 233.5 86.909 
L 240.5 80.833 
" clip-path="url(#p8887a29418)" style="fill: none; stroke: #000000; stroke-width: 1.05; stroke-linejoin: miter"/>
<path d="M 72.5 220.25 
L 79.5 214.343 
L 86.5 208.437 
L 93.5 202.531 
L 100.5 196.625 
L 107.5 190.718 
L 114.5 184.812 
L 121.5 178.906 
L 128.5 173 
L 135.5 167.093 
L 142.5 161.187 
L 149.5 155.281 
L 156.5 149.375 
L 163.5 143.468 
L 170.5 137.562 
L 177.5 131.656 
L 184.5 125.75 
L 191.5 119.843 
L 198.5 113.937 
L 205.5 108.031 
L 212.5 102.125 
L 219.5 96.218 
L 226.5 90.312 
L 233.5 84.406 
L 240.5 78.5 
" clip-path="url(#p8887a29418)" style="fill: none; stroke: #000000; stroke-width: 1.05; stroke-linejoin: miter"/>
<path d="M 72.5 213.833 
L 79.5 208.097 
L 86.5 202.361 
L 93.5 196.625 
L 100.5 190.888 
L 107.5 185.152 
L 114.5 179.416 
L 121.5 173.680 
L 128.5 167.944 
L 135.5 162.208 
L 142.5 156.472 
L 149.5 150.736 
L 156.5 145 
L 163.5 139.263 
L 170.5 133.527 
L 177.5 127.791 
L 184.5 122.055 
L 191.5 116.319 
L 198.5 110.583 
L 205.5 104.847 
L 212.5 99.111 
L 219.5 93.375 
L 226.5 87.638 
L 233.5 81.902 
L 240.5 76.166 
" clip-path="url(#p8887a29418)" style="fill: none; stroke: #000000; stroke-width: 1.05; stroke-linejoin: miter"/>
<path d="M 72.5 207.416 
L 79.5 201.850 
L 86.5 196.284 
L 93.5 190.718 
L 100.5 185.152 
L 107.5 179.586 
L 114.5 174.020 
L 121.5 168.454 
L 128.5 162.888 
L 135.5 157.322 
L 142.5 151.756 
L 149.5 146.190 
L 156.5 140.625 
L 163.5 135.059 
L 170.5 129.493 
L 177.5 123.927 
L 184.5 118.361 
L 191.5 112.795 
L 198.5 107.229 
L 205.5 101.663 
L 212.5 96.097 
L 219.5 90.531 
L 226.5 84.965 
L 233.5 79.399 
L 240.5 73.833 
" clip-path="url(#p8887a29418)" style="fill: none; stroke: #000000; stroke-width: 1.05; stroke-linejoin: miter"/>
<path d="M 72.5 201 
L 79.5 195.604 
L 86.5 190.208 
L 93.5 184.812 
L 100.5 179.416 
L 107.5 174.020 
L 114.5 168.625 
L 121.5 163.229 
L 128.5 157.833 
L 135.5 152.437 
L 142.5 147.041 
L 149.5 141.645 
L 156.5 136.25 
L 163.5 130.854 
L 170.5 125.458 
L 177.5 120.062 
L 184.5 114.666 
L 191.5 109.270 
L 198.5 103.875 
L 205.5 98.479 
L 212.5 93.083 
L 219.5 87.687 
L 226.5 82.291 
L 233.5 76.895 
L 240.5 71.5 
" clip-path="url(#p8887a29418)" style="fill: none; stroke: #000000; stroke-width: 1.05; stroke-linejoin: miter"/>
<path d="M 72.5 194.583 
L 79.5 189.357 
L 86.5 184.131 
L 93.5 178.906 
L 100.5 173.680 
L 107.5 168.454 
L 114.5 163.229 
L 121.5 158.003 
L 128.5 152.777 
L 135.5 147.552 
L 142.5 142.326 
L 149.5 137.100 
L 156.5 131.875 
L 163.5 126.649 
L 170.5 121.423 
L 177.5 116.197 
L 184.5 110.972 
L 191.5 105.746 
L 198.5 100.520 
L 205.5 95.295 
L 212.5 90.069 
L 219.5 84.843 
L 226.5 79.618 
L 233.5 74.392 
L 240.5 69.166 
" clip-path="url(#p8887a29418)" style="fill: none; stroke: #000000; stroke-width: 1.05; stroke-linejoin: miter"/>
<path d="M 72.5 188.166 
L 79.5 183.111 
L 86.5 178.055 
L 93.5 173 
L 100.5 167.944 
L 107.5 162.888 
L 114.5 157.833 
L 121.5 152.777 
L 128.5 147.722 
L 135.5 142.666 
L 142.5 137.611 
L 149.5 132.555 
L 156.5 127.5 
L 163.5 122.444 
L 170.5 117.388 
L 177.5 112.333 
L 184.5 107.277 
L 191.5 102.222 
L 198.5 97.166 
L 205.5 92.111 
L 212.5 87.055 
L 219.5 82 
L 226.5 76.944 
L 233.5 71.888 
L 240.5 66.833 
" clip-path="url(#p8887a29418)" style="fill: none; stroke: #000000; stroke-width: 1.05; stroke-linejoin: miter"/>
<path d="M 72.5 181.75 
L 79.5 176.864 
L 86.5 171.979 
L 93.5 167.093 
L 100.5 162.208 
L 107.5 157.322 
L 114.5 152.437 
L 121.5 147.552 
L 128.5 142.666 
L 135.5 137.781 
L 142.5 132.895 
L 149.5 128.010 
L 156.5 123.125 
L 163.5 118.239 
L 170.5 113.354 
L 177.5 108.468 
L 184.5 103.583 
L 191.5 98.697 
L 198.5 93.812 
L 205.5 88.927 
L 212.5 84.041 
L 219.5 79.156 
L 226.5 74.270 
L 233.5 69.385 
L 240.5 64.5 
" clip-path="url(#p8887a29418)" style="fill: none; stroke: #000000; stroke-width: 1.05; stroke-linejoin: miter"/>
<path d="M 72.5 175.333 
L 79.5 170.618 
L 86.5 165.902 
L 93.5 161.187 
L 100.5 156.472 
L 107.5 151.756 
L 114.5 147.041 
L 121.5 142.326 
L 128.5 137.611 
L 135.5 132.895 
L 142.5 128.180 
L 149.5 123.465 
L 156.5 118.75 
L 163.5 114.034 
L 170.5 109.319 
L 177.5 104.604 
L 184.5 99.888 
L 191.5 95.173 
L 198.5 90.458 
L 205.5 85.743 
L 212.5 81.027 
L 219.5 76.312 
L 226.5 71.597 
L 233.5 66.881 
L 240.5 62.166 
" clip-path="url(#p8887a29418)" style="fill: none; stroke: #000000; stroke-width: 1.05; stroke-linejoin: miter"/>
<path d="M 72.5 168.916 
L 79.5 164.371 
L 86.5 159.826 
L 93.5 155.281 
L 100.5 150.736 
L 107.5 146.190 
L 114.5 141.645 
L 121.5 137.100 
L 128.5 132.555 
L 135.5 128.010 
L 142.5 123.465 
L 149.5 118.920 
L 156.5 114.375 
L 163.5 109.829 
L 170.5 105.284 
L 177.5 100.739 
L 184.5 96.194 
L 191.5 91.649 
L 198.5 87.104 
L 205.5 82.559 
L 212.5 78.013 
L 219.5 73.468 
L 226.5 68.923 
L 233.5 64.378 
L 240.5 59.833 
" clip-path="url(#p8887a29418)" style="fill: none; stroke: #000000; stroke-width: 1.05; stroke-linejoin: miter"/>
<path d="M 72.5 162.5 
L 79.5 158.125 
L 86.5 153.75 
L 93.5 149.375 
L 100.5 145 
L 107.5 140.625 
L 114.5 136.25 
L 121.5 131.875 
L 128.5 127.5 
L 135.5 123.125 
L 142.5 118.75 
L 149.5 114.375 
L 156.5 110 
L 163.5 105.625 
L 170.5 101.25 
L 177.5 96.875 
L 184.5 92.5 
L 191.5 88.125 
L 198.5 83.75 
L 205.5 79.375 
L 212.5 75 
L 219.5 70.625 
L 226.5 66.25 
L 233.5 61.875 
L 240.5 57.5 
" clip-path="url(#p8887a29418)" style="fill: none; stroke: #000000; stroke-width: 1.05; stroke-linejoin: miter"/>
<path d="M 72.5 156.083 
L 79.5 151.878 
L 86.5 147.673 
L 93.5 143.468 
L 100.5 139.263 
L 107.5 135.059 
L 114.5 130.854 
L 121.5 126.649 
L 128.5 122.444 
L 135.5 118.239 
L 142.5 114.034 
L 149.5 109.829 
L 156.5 105.625 
L 163.5 101.420 
L 170.5 97.215 
L 177.5 93.010 
L 184.5 88.805 
L 191.5 84.600 
L 198.5 80.395 
L 205.5 76.190 
L 212.5 71.986 
L 219.5 67.781 
L 226.5 63.576 
L 233.5 59.371 
L 240.5 55.166 
" clip-path="url(#p8887a29418)" style="fill: none; stroke: #000000; stroke-width: 1.05; stroke-linejoin: miter"/>
<path d="M 72.5 149.666 
L 79.5 145.631 
L 86.5 141.597 
L 93.5 137.562 
L 100.5 133.527 
L 107.5 129.493 
L 114.5 125.458 
L 121.5 121.423 
L 128.5 117.388 
L 135.5 113.354 
L 142.5 109.319 
L 149.5 105.284 
L 156.5 101.25 
L 163.5 97.215 
L 170.5 93.180 
L 177.5 89.145 
L 184.5 85.111 
L 191.5 81.076 
L 198.5 77.041 
L 205.5 73.006 
L 212.5 68.972 
L 219.5 64.937 
L 226.5 60.902 
L 233.5 56.868 
L 240.5 52.833 
" clip-path="url(#p8887a29418)" style="fill: none; stroke: #000000; stroke-width: 1.05; stroke-linejoin: miter"/>
<path d="M 72.5 143.25 
L 79.5 139.385 
L 86.5 135.520 
L 93.5 131.656 
L 100.5 127.791 
L 107.5 123.927 
L 114.5 120.062 
L 121.5 116.197 
L 128.5 112.333 
L 135.5 108.468 
L 142.5 104.604 
L 149.5 100.739 
L 156.5 96.875 
L 163.5 93.010 
L 170.5 89.145 
L 177.5 85.281 
L 184.5 81.416 
L 191.5 77.552 
L 198.5 73.687 
L 205.5 69.822 
L 212.5 65.958 
L 219.5 62.093 
L 226.5 58.229 
L 233.5 54.364 
L 240.5 50.5 
" clip-path="url(#p8887a29418)" style="fill: none; stroke: #000000; stroke-width: 1.05; stroke-linejoin: miter"/>
<path d="M 72.5 136.833 
L 79.5 133.138 
L 86.5 129.444 
L 93.5 125.75 
L 100.5 122.055 
L 107.5 118.361 
L 114.5 114.666 
L 121.5 110.972 
L 128.5 107.277 
L 135.5 103.583 
L 142.5 99.888 
L 149.5 96.194 
L 156.5 92.5 
L 163.5 88.805 
L 170.5 85.111 
L 177.5 81.416 
L 184.5 77.722 
L 191.5 74.027 
L 198.5 70.333 
L 205.5 66.638 
L 212.5 62.944 
L 219.5 59.25 
L 226.5 55.555 
L 233.5 51.861 
L 240.5 48.166 
" clip-path="url(#p8887a29418)" style="fill: none; stroke: #000000; stroke-width: 1.05; stroke-linejoin: miter"/>
<path d="M 72.5 130.416 
L 79.5 126.892 
L 86.5 123.368 
L 93.5 119.843 
L 100.5 116.319 
L 107.5 112.795 
L 114.5 109.270 
L 121.5 105.746 
L 128.5 102.222 
L 135.5 98.697 
L 142.5 95.173 
L 149.5 91.649 
L 156.5 88.125 
L 163.5 84.600 
L 170.5 81.076 
L 177.5 77.552 
L 184.5 74.027 
L 191.5 70.503 
L 198.5 66.979 
L 205.5 63.454 
L 212.5 59.930 
L 219.5 56.406 
L 226.5 52.881 
L 233.5 49.357 
L 240.5 45.833 
" clip-path="url(#p8887a29418)" style="fill: none; stroke: #000000; stroke-width: 1.05; stroke-linejoin: miter"/>
<path d="M 72.5 124 
L 79.5 120.645 
L 86.5 117.291 
L 93.5 113.937 
L 100.5 110.583 
L 107.5 107.229 
L 114.5 103.875 
L 121.5 100.520 
L 128.5 97.166 
L 135.5 93.812 
L 142.5 90.458 
L 149.5 87.104 
L 156.5 83.75 
L 163.5 80.395 
L 170.5 77.041 
L 177.5 73.687 
L 184.5 70.333 
L 191.5 66.979 
L 198.5 63.625 
L 205.5 60.270 
L 212.5 56.916 
L 219.5 53.562 
L 226.5 50.208 
L 233.5 46.854 
L 240.5 43.5 
" clip-path="url(#p8887a29418)" style="fill: none; stroke: #000000; stroke-width: 1.05; stroke-linejoin: miter"/>
<path d="M 72.5 117.583 
L 79.5 114.399 
L 86.5 111.215 
L 93.5 108.031 
L 100.5 104.847 
L 107.5 101.663 
L 114.5 98.479 
L 121.5 95.295 
L 128.5 92.111 
L 135.5 88.927 
L 142.5 85.743 
L 149.5 82.559 
L 156.5 79.375 
L 163.5 76.190 
L 170.5 73.006 
L 177.5 69.822 
L 184.5 66.638 
L 191.5 63.454 
L 198.5 60.270 
L 205.5 57.086 
L 212.5 53.902 
L 219.5 50.718 
L 226.5 47.534 
L 233.5 44.350 
L 240.5 41.166 
" clip-path="url(#p8887a29418)" style="fill: none; stroke: #000000; stroke-width: 1.05; stroke-linejoin: miter"/>
<path d="M 72.5 111.166 
L 79.5 108.152 
L 86.5 105.138 
L 93.5 102.125 
L 100.5 99.111 
L 107.5 96.097 
L 114.5 93.083 
L 121.5 90.069 
L 128.5 87.055 
L 135.5 84.041 
L 142.5 81.027 
L 149.5 78.013 
L 156.5 75 
L 163.5 71.986 
L 170.5 68.972 
L 177.5 65.958 
L 184.5 62.944 
L 191.5 59.930 
L 198.5 56.916 
L 205.5 53.902 
L 212.5 50.888 
L 219.5 47.875 
L 226.5 44.861 
L 233.5 41.847 
L 240.5 38.833 
" clip-path="url(#p8887a29418)" style="fill: none; stroke: #000000; stroke-width: 1.05; stroke-linejoin: miter"/>
<path d="M 72.5 104.75 
L 79.5 101.906 
L 86.5 99.062 
L 93.5 96.218 
L 100.5 93.375 
L 107.5 90.531 
L 114.5 87.687 
L 121.5 84.843 
L 128.5 82 
L 135.5 79.156 
L 142.5 76.312 
L 149.5 73.468 
L 156.5 70.625 
L 163.5 67.781 
L 170.5 64.937 
L 177.5 62.093 
L 184.5 59.25 
L 191.5 56.406 
L 198.5 53.562 
L 205.5 50.718 
L 212.5 47.875 
L 219.5 45.031 
L 226.5 42.187 
L 233.5 39.343 
L 240.5 36.5 
" clip-path="url(#p8887a29418)" style="fill: none; stroke: #000000; stroke-width: 1.05; stroke-linejoin: miter"/>
<path d="M 72.5 98.333 
L 79.5 95.659 
L 86.5 92.986 
L 93.5 90.312 
L 100.5 87.638 
L 107.5 84.965 
L 114.5 82.291 
L 121.5 79.618 
L 128.5 76.944 
L 135.5 74.270 
L 142.5 71.597 
L 149.5 68.923 
L 156.5 66.25 
L 163.5 63.576 
L 170.5 60.902 
L 177.5 58.229 
L 184.5 55.555 
L 191.5 52.881 
L 198.5 50.208 
L 205.5 47.534 
L 212.5 44.861 
L 219.5 42.187 
L 226.5 39.513 
L 233.5 36.840 
L 240.5 34.166 
" clip-path="url(#p8887a29418)" style="fill: none; stroke: #000000; stroke-width: 1.05; stroke-linejoin: miter"/>
<path d="M 72.5 91.916 
L 79.5 89.413 
L 86.5 86.909 
L 93.5 84.406 
L 100.5 81.902 
L 107.5 79.399 
L 114.5 76.895 
L 121.5 74.392 
L 128.5 71.888 
L 135.5 69.385 
L 142.5 66.881 
L 149.5 64.378 
L 156.5 61.875 
L 163.5 59.371 
L 170.5 56.868 
L 177.5 54.364 
L 184.5 51.861 
L 191.5 49.357 
L 198.5 46.854 
L 205.5 44.350 
L 212.5 41.847 
L 219.5 39.343 
L 226.5 36.840 
L 233.5 34.336 
L 240.5 31.833 
" clip-path="url(#p8887a29418)" style="fill: none; stroke: #000000; stroke-width: 1.05; stroke-linejoin: miter"/>
<path d="M 72.5 85.5 
L 79.5 83.166 
L 86.5 80.833 
L 93.5 78.5 
L 100.5 76.166 
L 107.5 73.833 
L 114.5 71.5 
L 121.5 69.166 
L 128.5 66.833 
L 135.5 64.5 
L 142.5 62.166 
L 149.5 59.833 
L 156.5 57.5 
L 163.5 55.166 
L 170.5 52.833 
L 177.5 50.5 
L 184.5 48.166 
L 191.5 45.833 
L 198.5 43.5 
L 205.5 41.166 
L 212.5 38.833 
L 219.5 36.5 
L 226.5 34.166 
L 233.5 31.833 
L 240.5 29.5 
" clip-path="url(#p8887a29418)" style="fill: none; stroke: #000000; stroke-width: 1.05; stroke-linejoin: miter"/>
<path d="M 72.5 239.5 
L 72.5 233.083 
L 72.5 226.666 
L 72.5 220.25 
L 72.5 213.833 
L 72.5 207.416 
L 72.5 201 
L 72.5 194.583 
L 72.5 188.166 
L 72.5 181.75 
L 72.5 175.333 
L 72.5 168.916 
L 72.5 162.5 
L 72.5 156.083 
L 72.5 149.666 
L 72.5 143.25 
L 72.5 136.833 
L 72.5 130.416 
L 72.5 124 
L 72.5 117.583 
L 72.5 111.166 
L 72.5 104.75 
L 72.5 98.333 
L 72.5 91.916 
L 72.5 85.5 
" clip-path="url(#p8887a29418)" style="fill: none; stroke: #000000; stroke-width: 1.05; stroke-linejoin: miter"/>
<path d="M 79.5 233.083 
L 79.5 226.836 
L 79.5 220.590 
L 79.5 214.343 
L 79.5 208.097 
L 79.5 201.850 
L 79.5 195.604 
L 79.5 189.357 
L 79.5 183.111 
L 79.5 176.864 
L 79.5 170.618 
L 79.5 164.371 
L 79.5 158.125 
L 79.5 151.878 
L 79.5 145.631 
L 79.5 139.385 
L 79.5 133.138 
L 79.5 126.892 
L 79.5 120.645 
L 79.5 114.399 
L 79.5 108.152 
L 79.5 101.906 
L 79.5 95.659 
L 79.5 89.413 
L 79.5 83.166 
" clip-path="url(#p8887a29418)" style="fill: none; stroke: #000000; stroke-width: 1.05; stroke-linejoin: miter"/>
<path d="M 86.5 226.666 
L 86.5 220.590 
L 86.5 214.513 
L 86.5 208.437 
L 86.5 202.361 
L 86.5 196.284 
L 86.5 190.208 
L 86.5 184.131 
L 86.5 178.055 
L 86.5 171.979 
L 86.5 165.902 
L 86.5 159.826 
L 86.5 153.75 
L 86.5 147.673 
L 86.5 141.597 
L 86.5 135.520 
L 86.5 129.444 
L 86.5 123.368 
L 86.5 117.291 
L 86.5 111.215 
L 86.5 105.138 
L 86.5 99.062 
L 86.5 92.986 
L 86.5 86.909 
L 86.5 80.833 
" clip-path="url(#p8887a29418)" style="fill: none; stroke: #000000; stroke-width: 1.05; stroke-linejoin: miter"/>
<path d="M 93.5 220.25 
L 93.5 214.343 
L 93.5 208.437 
L 93.5 202.531 
L 93.5 196.625 
L 93.5 190.718 
L 93.5 184.812 
L 93.5 178.906 
L 93.5 173 
L 93.5 167.093 
L 93.5 161.187 
L 93.5 155.281 
L 93.5 149.375 
L 93.5 143.468 
L 93.5 137.562 
L 93.5 131.656 
L 93.5 125.75 
L 93.5 119.843 
L 93.5 113.937 
L 93.5 108.031 
L 93.5 102.125 
L 93.5 96.218 
L 93.5 90.312 
L 93.5 84.406 
L 93.5 78.5 
" clip-path="url(#p8887a29418)" style="fill: none; stroke: #000000; stroke-width: 1.05; stroke-linejoin: miter"/>
<path d="M 100.5 213.833 
L 100.5 208.097 
L 100.5 202.361 
L 100.5 196.625 
L 100.5 190.888 
L 100.5 185.152 
L 100.5 179.416 
L 100.5 173.680 
L 100.5 167.944 
L 100.5 162.208 
L 100.5 156.472 
L 100.5 150.736 
L 100.5 145 
L 100.5 139.263 
L 100.5 133.527 
L 100.5 127.791 
L 100.5 122.055 
L 100.5 116.319 
L 100.5 110.583 
L 100.5 104.847 
L 100.5 99.111 
L 100.5 93.375 
L 100.5 87.638 
L 100.5 81.902 
L 100.5 76.166 
" clip-path="url(#p8887a29418)" style="fill: none; stroke: #000000; stroke-width: 1.05; stroke-linejoin: miter"/>
<path d="M 107.5 207.416 
L 107.5 201.850 
L 107.5 196.284 
L 107.5 190.718 
L 107.5 185.152 
L 107.5 179.586 
L 107.5 174.020 
L 107.5 168.454 
L 107.5 162.888 
L 107.5 157.322 
L 107.5 151.756 
L 107.5 146.190 
L 107.5 140.625 
L 107.5 135.059 
L 107.5 129.493 
L 107.5 123.927 
L 107.5 118.361 
L 107.5 112.795 
L 107.5 107.229 
L 107.5 101.663 
L 107.5 96.097 
L 107.5 90.531 
L 107.5 84.965 
L 107.5 79.399 
L 107.5 73.833 
" clip-path="url(#p8887a29418)" style="fill: none; stroke: #000000; stroke-width: 1.05; stroke-linejoin: miter"/>
<path d="M 114.5 201 
L 114.5 195.604 
L 114.5 190.208 
L 114.5 184.812 
L 114.5 179.416 
L 114.5 174.020 
L 114.5 168.625 
L 114.5 163.229 
L 114.5 157.833 
L 114.5 152.437 
L 114.5 147.041 
L 114.5 141.645 
L 114.5 136.25 
L 114.5 130.854 
L 114.5 125.458 
L 114.5 120.062 
L 114.5 114.666 
L 114.5 109.270 
L 114.5 103.875 
L 114.5 98.479 
L 114.5 93.083 
L 114.5 87.687 
L 114.5 82.291 
L 114.5 76.895 
L 114.5 71.5 
" clip-path="url(#p8887a29418)" style="fill: none; stroke: #000000; stroke-width: 1.05; stroke-linejoin: miter"/>
<path d="M 121.5 194.583 
L 121.5 189.357 
L 121.5 184.131 
L 121.5 178.906 
L 121.5 173.680 
L 121.5 168.454 
L 121.5 163.229 
L 121.5 158.003 
L 121.5 152.777 
L 121.5 147.552 
L 121.5 142.326 
L 121.5 137.100 
L 121.5 131.875 
L 121.5 126.649 
L 121.5 121.423 
L 121.5 116.197 
L 121.5 110.972 
L 121.5 105.746 
L 121.5 100.520 
L 121.5 95.295 
L 121.5 90.069 
L 121.5 84.843 
L 121.5 79.618 
L 121.5 74.392 
L 121.5 69.166 
" clip-path="url(#p8887a29418)" style="fill: none; stroke: #000000; stroke-width: 1.05; stroke-linejoin: miter"/>
<path d="M 128.5 188.166 
L 128.5 183.111 
L 128.5 178.055 
L 128.5 173 
L 128.5 167.944 
L 128.5 162.888 
L 128.5 157.833 
L 128.5 152.777 
L 128.5 147.722 
L 128.5 142.666 
L 128.5 137.611 
L 128.5 132.555 
L 128.5 127.5 
L 128.5 122.444 
L 128.5 117.388 
L 128.5 112.333 
L 128.5 107.277 
L 128.5 102.222 
L 128.5 97.166 
L 128.5 92.111 
L 128.5 87.055 
L 128.5 82 
L 128.5 76.944 
L 128.5 71.888 
L 128.5 66.833 
" clip-path="url(#p8887a29418)" style="fill: none; stroke: #000000; stroke-width: 1.05; stroke-linejoin: miter"/>
<path d="M 135.5 181.75 
L 135.5 176.864 
L 135.5 171.979 
L 135.5 167.093 
L 135.5 162.208 
L 135.5 157.322 
L 135.5 152.437 
L 135.5 147.552 
L 135.5 142.666 
L 135.5 137.781 
L 135.5 132.895 
L 135.5 128.010 
L 135.5 123.125 
L 135.5 118.239 
L 135.5 113.354 
L 135.5 108.468 
L 135.5 103.583 
L 135.5 98.697 
L 135.5 93.812 
L 135.5 88.927 
L 135.5 84.041 
L 135.5 79.156 
L 135.5 74.270 
L 135.5 69.385 
L 135.5 64.5 
" clip-path="url(#p8887a29418)" style="fill: none; stroke: #000000; stroke-width: 1.05; stroke-linejoin: miter"/>
<path d="M 142.5 175.333 
L 142.5 170.618 
L 142.5 165.902 
L 142.5 161.187 
L 142.5 156.472 
L 142.5 151.756 
L 142.5 147.041 
L 142.5 142.326 
L 142.5 137.611 
L 142.5 132.895 
L 142.5 128.180 
L 142.5 123.465 
L 142.5 118.75 
L 142.5 114.034 
L 142.5 109.319 
L 142.5 104.604 
L 142.5 99.888 
L 142.5 95.173 
L 142.5 90.458 
L 142.5 85.743 
L 142.5 81.027 
L 142.5 76.312 
L 142.5 71.597 
L 142.5 66.881 
L 142.5 62.166 
" clip-path="url(#p8887a29418)" style="fill: none; stroke: #000000; stroke-width: 1.05; stroke-linejoin: miter"/>
<path d="M 149.5 168.916 
L 149.5 164.371 
L 149.5 159.826 
L 149.5 155.281 
L 149.5 150.736 
L 149.5 146.190 
L 149.5 141.645 
L 149.5 137.100 
L 149.5 132.555 
L 149.5 128.010 
L 149.5 123.465 
L 149.5 118.920 
L 149.5 114.375 
L 149.5 109.829 
L 149.5 105.284 
L 149.5 100.739 
L 149.5 96.194 
L 149.5 91.649 
L 149.5 87.104 
L 149.5 82.559 
L 149.5 78.013 
L 149.5 73.468 
L 149.5 68.923 
L 149.5 64.378 
L 149.5 59.833 
" clip-path="url(#p8887a29418)" style="fill: none; stroke: #000000; stroke-width: 1.05; stroke-linejoin: miter"/>
<path d="M 156.5 162.5 
L 156.5 158.125 
L 156.5 153.75 
L 156.5 149.375 
L 156.5 145 
L 156.5 140.625 
L 156.5 136.25 
L 156.5 131.875 
L 156.5 127.5 
L 156.5 123.125 
L 156.5 118.75 
L 156.5 114.375 
L 156.5 110 
L 156.5 105.625 
L 156.5 101.25 
L 156.5 96.875 
L 156.5 92.5 
L 156.5 88.125 
L 156.5 83.75 
L 156.5 79.375 
L 156.5 75 
L 156.5 70.625 
L 156.5 66.25 
L 156.5 61.875 
L 156.5 57.5 
" clip-path="url(#p8887a29418)" style="fill: none; stroke: #000000; stroke-width: 1.05; stroke-linejoin: miter"/>
<path d="M 163.5 156.083 
L 163.5 151.878 
L 163.5 147.673 
L 163.5 143.468 
L 163.5 139.263 
L 163.5 135.059 
L 163.5 130.854 
L 163.5 126.649 
L 163.5 122.444 
L 163.5 118.239 
L 163.5 114.034 
L 163.5 109.829 
L 163.5 105.625 
L 163.5 101.420 
L 163.5 97.215 
L 163.5 93.010 
L 163.5 88.805 
L 163.5 84.600 
L 163.5 80.395 
L 163.5 76.190 
L 163.5 71.986 
L 163.5 67.781 
L 163.5 63.576 
L 163.5 59.371 
L 163.5 55.166 
" clip-path="url(#p8887a29418)" style="fill: none; stroke: #000000; stroke-width: 1.05; stroke-linejoin: miter"/>
<path d="M 170.5 149.666 
L 170.5 145.631 
L 170.5 141.597 
L 170.5 137.562 
L 170.5 133.527 
L 170.5 129.493 
L 170.5 125.458 
L 170.5 121.423 
L 170.5 117.388 
L 170.5 113.354 
L 170.5 109.319 
L 170.5 105.284 
L 170.5 101.25 
L 170.5 97.215 
L 170.5 93.180 
L 170.5 89.145 
L 170.5 85.111 
L 170.5 81.076 
L 170.5 77.041 
L 170.5 73.006 
L 170.5 68.972 
L 170.5 64.937 
L 170.5 60.902 
L 170.5 56.868 
L 170.5 52.833 
" clip-path="url(#p8887a29418)" style="fill: none; stroke: #000000; stroke-width: 1.05; stroke-linejoin: miter"/>
<path d="M 177.5 143.25 
L 177.5 139.385 
L 177.5 135.520 
L 177.5 131.656 
L 177.5 127.791 
L 177.5 123.927 
L 177.5 120.062 
L 177.5 116.197 
L 177.5 112.333 
L 177.5 108.468 
L 177.5 104.604 
L 177.5 100.739 
L 177.5 96.875 
L 177.5 93.010 
L 177.5 89.145 
L 177.5 85.281 
L 177.5 81.416 
L 177.5 77.552 
L 177.5 73.687 
L 177.5 69.822 
L 177.5 65.958 
L 177.5 62.093 
L 177.5 58.229 
L 177.5 54.364 
L 177.5 50.5 
" clip-path="url(#p8887a29418)" style="fill: none; stroke: #000000; stroke-width: 1.05; stroke-linejoin: miter"/>
<path d="M 184.5 136.833 
L 184.5 133.138 
L 184.5 129.444 
L 184.5 125.75 
L 184.5 122.055 
L 184.5 118.361 
L 184.5 114.666 
L 184.5 110.972 
L 184.5 107.277 
L 184.5 103.583 
L 184.5 99.888 
L 184.5 96.194 
L 184.5 92.5 
L 184.5 88.805 
L 184.5 85.111 
L 184.5 81.416 
L 184.5 77.722 
L 184.5 74.027 
L 184.5 70.333 
L 184.5 66.638 
L 184.5 62.944 
L 184.5 59.25 
L 184.5 55.555 
L 184.5 51.861 
L 184.5 48.166 
" clip-path="url(#p8887a29418)" style="fill: none; stroke: #000000; stroke-width: 1.05; stroke-linejoin: miter"/>
<path d="M 191.5 130.416 
L 191.5 126.892 
L 191.5 123.368 
L 191.5 119.843 
L 191.5 116.319 
L 191.5 112.795 
L 191.5 109.270 
L 191.5 105.746 
L 191.5 102.222 
L 191.5 98.697 
L 191.5 95.173 
L 191.5 91.649 
L 191.5 88.125 
L 191.5 84.600 
L 191.5 81.076 
L 191.5 77.552 
L 191.5 74.027 
L 191.5 70.503 
L 191.5 66.979 
L 191.5 63.454 
L 191.5 59.930 
L 191.5 56.406 
L 191.5 52.881 
L 191.5 49.357 
L 191.5 45.833 
" clip-path="url(#p8887a29418)" style="fill: none; stroke: #000000; stroke-width: 1.05; stroke-linejoin: miter"/>
<path d="M 198.5 124 
L 198.5 120.645 
L 198.5 117.291 
L 198.5 113.937 
L 198.5 110.583 
L 198.5 107.229 
L 198.5 103.875 
L 198.5 100.520 
L 198.5 97.166 
L 198.5 93.812 
L 198.5 90.458 
L 198.5 87.104 
L 198.5 83.75 
L 198.5 80.395 
L 198.5 77.041 
L 198.5 73.687 
L 198.5 70.333 
L 198.5 66.979 
L 198.5 63.625 
L 198.5 60.270 
L 198.5 56.916 
L 198.5 53.562 
L 198.5 50.208 
L 198.5 46.854 
L 198.5 43.5 
" clip-path="url(#p8887a29418)" style="fill: none; stroke: #000000; stroke-width: 1.05; stroke-linejoin: miter"/>
<path d="M 205.5 117.583 
L 205.5 114.399 
L 205.5 111.215 
L 205.5 108.031 
L 205.5 104.847 
L 205.5 101.663 
L 205.5 98.479 
L 205.5 95.295 
L 205.5 92.111 
L 205.5 88.927 
L 205.5 85.743 
L 205.5 82.559 
L 205.5 79.375 
L 205.5 76.190 
L 205.5 73.006 
L 205.5 69.822 
L 205.5 66.638 
L 205.5 63.454 
L 205.5 60.270 
L 205.5 57.086 
L 205.5 53.902 
L 205.5 50.718 
L 205.5 47.534 
L 205.5 44.350 
L 205.5 41.166 
" clip-path="url(#p8887a29418)" style="fill: none; stroke: #000000; stroke-width: 1.05; stroke-linejoin: miter"/>
<path d="M 212.5 111.166 
L 212.5 108.152 
L 212.5 105.138 
L 212.5 102.125 
L 212.5 99.111 
L 212.5 96.097 
L 212.5 93.083 
L 212.5 90.069 
L 212.5 87.055 
L 212.5 84.041 
L 212.5 81.027 
L 212.5 78.013 
L 212.5 75 
L 212.5 71.986 
L 212.5 68.972 
L 212.5 65.958 
L 212.5 62.944 
L 212.5 59.930 
L 212.5 56.916 
L 212.5 53.902 
L 212.5 50.888 
L 212.5 47.875 
L 212.5 44.861 
L 212.5 41.847 
L 212.5 38.833 
" clip-path="url(#p8887a29418)" style="fill: none; stroke: #000000; stroke-width: 1.05; stroke-linejoin: miter"/>
<path d="M 219.5 104.75 
L 219.5 101.906 
L 219.5 99.062 
L 219.5 96.218 
L 219.5 93.375 
L 219.5 90.531 
L 219.5 87.687 
L 219.5 84.843 
L 219.5 82 
L 219.5 79.156 
L 219.5 76.312 
L 219.5 73.468 
L 219.5 70.625 
L 219.5 67.781 
L 219.5 64.937 
L 219.5 62.093 
L 219.5 59.25 
L 219.5 56.406 
L 219.5 53.562 
L 219.5 50.718 
L 219.5 47.875 
L 219.5 45.031 
L 219.5 42.187 
L 219.5 39.343 
L 219.5 36.5 
" clip-path="url(#p8887a29418)" style="fill: none; stroke: #000000; stroke-width: 1.05; stroke-linejoin: miter"/>
<path d="M 226.5 98.333 
L 226.5 95.659 
L 226.5 92.986 
L 226.5 90.312 
L 226.5 87.638 
L 226.5 84.965 
L 226.5 82.291 
L 226.5 79.618 
L 226.5 76.944 
L 226.5 74.270 
L 226.5 71.597 
L 226.5 68.923 
L 226.5 66.25 
L 226.5 63.576 
L 226.5 60.902 
L 226.5 58.229 
L 226.5 55.555 
L 226.5 52.881 
L 226.5 50.208 
L 226.5 47.534 
L 226.5 44.861 
L 226.5 42.187 
L 226.5 39.513 
L 226.5 36.840 
L 226.5 34.166 
" clip-path="url(#p8887a29418)" style="fill: none; stroke: #000000; stroke-width: 1.05; stroke-linejoin: miter"/>
<path d="M 233.5 91.916 
L 233.5 89.413 
L 233.5 86.909 
L 233.5 84.406 
L 233.5 81.902 
L 233.5 79.399 
L 233.5 76.895 
L 233.5 74.392 
L 233.5 71.888 
L 233.5 69.385 
L 233.5 66.881 
L 233.5 64.378 
L 233.5 61.875 
L 233.5 59.371 
L 233.5 56.868 
L 233.5 54.364 
L 233.5 51.861 
L 233.5 49.357 
L 233.5 46.854 
L 233.5 44.350 
L 233.5 41.847 
L 233.5 39.343 
L 233.5 36.840 
L 233.5 34.336 
L 233.5 31.833 
" clip-path="url(#p8887a29418)" style="fill: none; stroke: #000000; stroke-width: 1.05; stroke-linejoin: miter"/>
<path d="M 240.5 85.5 
L 240.5 83.166 
L 240.5 80.833 
L 240.5 78.5 
L 240.5 76.166 
L 240.5 73.833 
L 240.5 71.5 
L 240.5 69.166 
L 240.5 66.833 
L 240.5 64.5 
L 240.5 62.166 
L 240.5 59.833 
L 240.5 57.5 
L 240.5 55.166 
L 240.5 52.833 
L 240.5 50.5 
L 240.5 48.166 
L 240.5 45.833 
L 240.5 43.5 
L 240.5 41.166 
L 240.5 38.833 
L 240.5 36.5 
L 240.5 34.166 
L 240.5 31.833 
L 240.5 29.5 
" clip-path="url(#p8887a29418)" style="fill: none; stroke: #000000; stroke-width: 1.05; stroke-linejoin: miter"/>
</g>
<g id="text_9">
<text style="font-size: 13.89px; font-family: 'DejaVu Sans', sans-serif; text-anchor: middle" x="156.9" y="21.2" transform="rotate(0 156.9 21.2)">fbar = false</text>
</g>
</g>
<g id="axes_2">
<g id="patch_7">
<path d="M 255.5 239.5 
L 265.5 239.5 
L 265.5 29.5 
L 255.5 29.5 
z
" style="fill: #ffffff"/>
</g>
<g id="patch_8">
<path d="M 255.5 239.5 
L 265.5 239.5 
L 265.5 220.5 
L 255.5 220.5 
z
" clip-path="url(#peb44035c27)" style="fill: #f2f6f0"/>
</g>
<g id="patch_9">
<path d="M 255.5 220.5 
L 265.5 220.5 
L 265.5 201.5 
L 255.5 201.5 
z
" clip-path="url(#peb44035c27)" style="fill: #e3f0e0"/>
</g>
<g id="patch_10">
<path d="M 255.5 201.5 
L 265.5 201.5 
L 265.5 182.5 
L 255.5 182.5 
z
" clip-path="url(#peb44035c27)" style="fill: #cce8c7"/>
</g>
<g id="patch_11">
<path d="M 255.5 182.5 
L 265.5 182.5 
L 265.5 163.5 
L 255.5 163.5 
z
" clip-path="url(#peb44035c27)" style="fill: #b0dfaa"/>
</g>
<g id="patch_12">
<path d="M 255.5 163.5 
L 265.5 163.5 
L 265.5 144.5 
L 255.5 144.5 
z
" clip-path="url(#peb44035c27)" style="fill: #91d28e"/>
</g>
<g id="patch_13">
<path d="M 255.5 144.5 
L 265.5 144.5 
L 265.5 124.5 
L 255.5 124.5 
z
" clip-path="url(#peb44035c27)" style="fill: #70c274"/>
</g>
<g id="patch_14">
<path d="M 255.5 124.5 
L 265.5 124.5 
L 265.5 105.5 
L 255.5 105.5 
z
" clip-path="url(#peb44035c27)" style="fill: #4aaf61"/>
</g>
<g id="patch_15">
<path d="M 255.5 105.5 
L 265.5 105.5 
L 265.5 86.5 
L 255.5 86.5 
z
" clip-path="url(#peb44035c27)" style="fill: #2f984f"/>
</g>
<g id="patch_16">
<path d="M 255.5 86.5 
L 265.5 86.5 
L 265.5 67.5 
L 255.5 67.5 
z
" clip-path="url(#peb44035c27)" style="fill: #17813d"/>
</g>
<g id="patch_17">
<path d="M 255.5 67.5 
L 265.5 67.5 
L 265.5 48.5 
L 255.5 48.5 
z
" clip-path="url(#peb44035c27)" style="fill: #00692a"/>
</g>
<g id="patch_18">
<path d="M 255.5 48.5 
L 265.5 48.5 
L 265.5 29.5 
L 255.5 29.5 
z
" clip-path="url(#peb44035c27)" style="fill: #004e1f"/>
</g>
<g id="matplotlib.axis_3"/>
<g id="matplotlib.axis_4">
<g id="ytick_8">
<g id="line2d_11">
<g>
<path d="M 0 0  L 5.833 0  " transform="translate(265.5 239.5)" style="stroke: #000000; stroke-width: 1.333"/>
</g>
</g>
<g id="text_10">
<text style="font-size: 13.89px; font-family: 'DejaVu Sans', sans-serif; text-anchor: start" x="277.166" y="244.777" transform="rotate(0 277.166 244.777)">0</text>
</g>
</g>
<g id="ytick_9">
<g id="line2d_12">
<g>
<path d="M 0 0  L 5.833 0  " transform="translate(265.5 220.5)" style="stroke: #000000; stroke-width: 1.333"/>
</g>
</g>
<g id="text_11">
<text style="font-size: 13.89px; font-family: 'DejaVu Sans', sans-serif; text-anchor: start" x="277.166" y="225.777" transform="rotate(0 277.166 225.777)">0.4</text>
</g>
</g>
<g id="ytick_10">
<g id="line2d_13">
<g>
<path d="M 0 0  L 5.833 0  " transform="translate(265.5 201.5)" style="stroke: #000000; stroke-width: 1.333"/>
</g>
</g>
<g id="text_12">
<text style="font-size: 13.89px; font-family: 'DejaVu Sans', sans-serif; text-anchor: start" x="277.166" y="206.777" transform="rotate(0 277.166 206.777)">0.8</text>
</g>
</g>
<g id="ytick_11">
<g id="line2d_14">
<g>
<path d="M 0 0  L 5.833 0  " transform="translate(265.5 182.5)" style="stroke: #000000; stroke-width: 1.333"/>
</g>
</g>
<g id="text_13">
<text style="font-size: 13.89px; font-family: 'DejaVu Sans', sans-serif; text-anchor: start" x="277.166" y="187.777" transform="rotate(0 277.166 187.777)">1.2</text>
</g>
</g>
<g id="ytick_12">
<g id="line2d_15">
<g>
<path d="M 0 0  L 5.833 0  " transform="translate(265.5 163.5)" style="stroke: #000000; stroke-width: 1.333"/>
</g>
</g>
<g id="text_14">
<text style="font-size: 13.89px; font-family: 'DejaVu Sans', sans-serif; text-anchor: start" x="277.166" y="168.777" transform="rotate(0 277.166 168.777)">1.6</text>
</g>
</g>
<g id="ytick_13">
<g id="line2d_16">
<g>
<path d="M 0 0  L 5.833 0  " transform="translate(265.5 144.5)" style="stroke: #000000; stroke-width: 1.333"/>
</g>
</g>
<g id="text_15">
<text style="font-size: 13.89px; font-family: 'DejaVu Sans', sans-serif; text-anchor: start" x="277.166" y="149.777" transform="rotate(0 277.166 149.777)">2</text>
</g>
</g>
<g id="ytick_14">
<g id="line2d_17">
<g>
<path d="M 0 0  L 5.833 0  " transform="translate(265.5 124.5)" style="stroke: #000000; stroke-width: 1.333"/>
</g>
</g>
<g id="text_16">
<text style="font-size: 13.89px; font-family: 'DejaVu Sans', sans-serif; text-anchor: start" x="277.166" y="129.777" transform="rotate(0 277.166 129.777)">2.4</text>
</g>
</g>
<g id="ytick_15">
<g id="line2d_18">
<g>
<path d="M 0 0  L 5.833 0  " transform="translate(265.5 105.5)" style="stroke: #000000; stroke-width: 1.333"/>
</g>
</g>
<g id="text_17">
<text style="font-size: 13.89px; font-family: 'DejaVu Sans', sans-serif; text-anchor: start" x="277.166" y="110.777" transform="rotate(0 277.166 110.777)">2.8</text>
</g>
</g>
<g id="ytick_16">
<g id="line2d_19">
<g>
<path d="M 0 0  L 5.833 0  " transform="translate(265.5 86.5)" style="stroke: #000000; stroke-width: 1.333"/>
</g>
</g>
<g id="text_18">
<text style="font-size: 13.89px; font-family: 'DejaVu Sans', sans-serif; text-anchor: start" x="277.166" y="91.777" transform="rotate(0 277.166 91.777)">3.2</text>
</g>
</g>
<g id="ytick_17">
<g id="line2d_20">
<g>
<path d="M 0 0  L 5.833 0  " transform="translate(265.5 67.5)" style="stroke: #000000; stroke-width: 1.333"/>
</g>
</g>
<g id="text_19">
<text style="font-size: 13.89px; font-family: 'DejaVu Sans', sans-serif; text-anchor: start" x="277.166" y="72.777" transform="rotate(0 277.166 72.777)">3.6</text>
</g>
</g>
<g id="ytick_18">
<g id="line2d_21">
<g>
<path d="M 0 0  L 5.833 0  " transform="translate(265.5 48.5)" style="stroke: #000000; stroke-width: 1.333"/>
</g>
</g>
<g id="text_20">
<text style="font-size: 13.89px; font-family: 'DejaVu Sans', sans-serif; text-anchor: start" x="277.166" y="53.777" transform="rotate(0 277.166 53.777)">4</text>
</g>
</g>
<g id="ytick_19">
<g id="line2d_22">
<g>
<path d="M 0 0  L 5.833 0  " transform="translate(265.5 29.5)" style="stroke: #000000; stroke-width: 1.333"/>
</g>
</g>
<g id="text_21">
<text style="font-size: 13.89px; font-family: 'DejaVu Sans', sans-serif; text-anchor: start" x="277.166" y="34.777" transform="rotate(0 277.166 34.777)">4.3</text>
</g>
</g>
<g id="text_22">
<g transform="translate(316.479 211.311) rotate(-90)"><text><tspan x="0.000" y="-0.359" style="font-size: 13.89px; font-family: 'DejaVu Sans', sans-serif">displacement</tspan> <tspan x="97.918" y="-0.359" style="font-style: oblique; font-size: 13.89px; font-family: 'DejaVu Sans', sans-serif">u</tspan> <tspan x="106.711" y="1.938" style="font-style: oblique; font-size: 9.723px; font-family: 'DejaVu Sans', sans-serif">y</tspan> <tspan x="117.257" y="-0.359" style="font-size: 13.89px; font-family: 'DejaVu Sans', sans-serif">/ mm</tspan></text></g>
</g>
</g>
<g id="line2d_23">
<path d="M 255.5 220.5 
L 265.5 220.5 
" clip-path="url(#peb44035c27)" style="fill: none; stroke: #000000; stroke-opacity: 0.5"/>
</g>
<g id="line2d_24">
<path d="M 255.5 201.5 
L 265.5 201.5 
" clip-path="url(#peb44035c27)" style="fill: none; stroke: #000000; stroke-opacity: 0.5"/>
</g>
<g id="line2d_25">
<path d="M 255.5 182.5 
L 265.5 182.5 
" clip-path="url(#peb44035c27)" style="fill: none; stroke: #000000; stroke-opacity: 0.5"/>
</g>
<g id="line2d_26">
<path d="M 255.5 163.5 
L 265.5 163.5 
" clip-path="url(#peb44035c27)" style="fill: none; stroke: #000000; stroke-opacity: 0.5"/>
</g>
<g id="line2d_27">
<path d="M 255.5 144.5 
L 265.5 144.5 
" clip-path="url(#peb44035c27)" style="fill: none; stroke: #000000; stroke-opacity: 0.5"/>
</g>
<g id="line2d_28">
<path d="M 255.5 124.5 
L 265.5 124.5 
" clip-path="url(#peb44035c27)" style="fill: none; stroke: #000000; stroke-opacity: 0.5"/>
</g>
<g id="line2d_29">
<path d="M 255.5 105.5 
L 265.5 105.5 
" clip-path="url(#peb44035c27)" style="fill: none; stroke: #000000; stroke-opacity: 0.5"/>
</g>
<g id="line2d_30">
<path d="M 255.5 86.5 
L 265.5 86.5 
" clip-path="url(#peb44035c27)" style="fill: none; stroke: #000000; stroke-opacity: 0.5"/>
</g>
<g id="line2d_31">
<path d="M 255.5 67.5 
L 265.5 67.5 
" clip-path="url(#peb44035c27)" style="fill: none; stroke: #000000; stroke-opacity: 0.5"/>
</g>
<g id="line2d_32">
<path d="M 255.5 48.5 
L 265.5 48.5 
" clip-path="url(#peb44035c27)" style="fill: none; stroke: #000000; stroke-opacity: 0.5"/>
</g>
<g id="patch_19">
<path d="M 255.5 239.5 
L 255.5 29.5 
" style="fill: none; stroke: #000000; stroke-width: 1.333; stroke-linejoin: miter; stroke-linecap: square"/>
</g>
<g id="patch_20">
<path d="M 265.5 239.5 
L 265.5 29.5 
" style="fill: none; stroke: #000000; stroke-width: 1.333; stroke-linejoin: miter; stroke-linecap: square"/>
</g>
<g id="patch_21">
<path d="M 255.5 239.5 
L 265.5 239.5 
" style="fill: none; stroke: #000000; stroke-width: 1.333; stroke-linejoin: miter; stroke-linecap: square"/>
</g>
<g id="patch_22">
<path d="M 255.5 29.5 
L 265.5 29.5 
" style="fill: none; stroke: #000000; stroke-width: 1.333; stroke-linejoin: miter; stroke-linecap: square"/>
</g>
</g>
<g id="axes_3">
<g id="patch_23">
<path d="M 411.5 239.5 
L 579.5 239.5 
L 579.5 29.5 
L 411.5 29.5 
z
" style="fill: #ffffff"/>
</g>
<g id="TriContourSet_2">
<path clip-path="url(#p1865786474)" style="fill: #f8faf7; stroke: #f8faf7; stroke-width: 0.6"/>
<path d="M 454.080 199.551 
L 454.080 198.371 
L 454.080 194.193 
L 454.080 193.013 
L 454.080 188.836 
L 454.080 187.656 
L 454.080 183.478 
L 454.022 182.392 
L 453.745 178.396 
L 453.635 177.638 
L 452.898 173.704 
L 452.862 173.461 
L 452.5 171.460 
L 452.196 169.099 
L 452.160 168.887 
L 451.613 164.596 
L 451.504 163.972 
L 451.010 160.093 
L 450.823 159.043 
L 450.384 155.596 
L 450.115 154.101 
L 449.731 151.108 
L 449.375 149.146 
L 449.049 146.629 
L 448.603 144.175 
L 448.339 142.158 
L 447.801 139.186 
L 447.602 137.689 
L 446.974 134.173 
L 446.845 133.214 
L 446.129 129.129 
L 446.073 128.719 
L 445.5 125.338 
L 445.353 124.128 
L 445.335 124.017 
L 444.774 119.338 
L 444.685 118.791 
L 444.177 114.545 
L 444.012 113.544 
L 443.557 109.751 
L 443.311 108.277 
L 442.911 104.961 
L 442.580 102.991 
L 442.238 100.174 
L 441.817 97.682 
L 441.535 95.390 
L 441.023 92.349 
L 440.806 90.604 
L 440.201 86.988 
L 440.053 85.810 
L 439.361 81.594 
L 439.284 80.997 
L 438.512 76.162 
L 438.5 76.166 
L 431.5 78.5 
L 424.5 80.833 
L 417.5 83.166 
L 410.5 85.5 
L 410.5 91.916 
L 410.5 98.333 
L 410.5 104.75 
L 410.5 111.166 
L 410.5 117.583 
L 410.5 124 
L 410.5 130.416 
L 410.5 136.833 
L 410.5 143.25 
L 410.5 149.666 
L 410.5 156.083 
L 410.5 162.5 
L 410.5 168.916 
L 410.5 175.333 
L 410.5 181.75 
L 410.5 188.166 
L 410.5 194.583 
L 410.5 201 
L 410.5 207.416 
L 410.5 213.833 
L 410.5 220.25 
L 410.5 226.666 
L 410.5 233.083 
L 410.5 239.5 
L 417.5 233.083 
L 424.5 226.666 
L 431.5 220.25 
L 438.5 213.833 
L 445.5 207.416 
L 452.5 201 
z
" clip-path="url(#p1865786474)" style="fill: #f2f7f1; stroke: #f2f7f1; stroke-width: 0.6"/>
<path d="M 481.412 174.496 
L 481.412 173.904 
L 481.412 169.803 
L 481.412 169.211 
L 481.412 165.110 
L 481.412 164.518 
L 481.412 160.417 
L 481.361 159.901 
L 481.194 155.903 
L 481.104 155.584 
L 480.690 151.605 
L 480.666 151.516 
L 480.5 149.896 
L 479.999 147.777 
L 479.955 147.461 
L 479.117 144.323 
L 478.998 143.447 
L 478.237 140.824 
L 478.048 139.381 
L 477.399 137.224 
L 477.149 135.234 
L 476.624 133.495 
L 476.325 130.992 
L 475.922 129.631 
L 475.585 126.656 
L 475.294 125.636 
L 474.926 122.233 
L 474.733 121.523 
L 474.341 117.733 
L 474.232 117.306 
L 473.822 113.168 
L 473.781 113.001 
L 473.5 110.068 
L 473.233 108.808 
L 473.209 108.629 
L 472.359 105.008 
L 472.260 104.237 
L 471.474 101.180 
L 471.303 99.803 
L 470.622 97.270 
L 470.387 95.303 
L 469.828 93.248 
L 469.542 90.727 
L 469.106 89.105 
L 468.779 86.074 
L 468.458 84.845 
L 468.098 81.350 
L 467.879 80.476 
L 467.494 76.564 
L 467.363 76.012 
L 466.958 71.725 
L 466.899 71.466 
L 466.5 67.073 
L 466.461 66.875 
L 466.458 66.847 
L 459.5 69.166 
L 452.5 71.5 
L 445.5 73.833 
L 438.512 76.162 
L 439.284 80.997 
L 439.361 81.594 
L 440.053 85.810 
L 440.201 86.988 
L 440.806 90.604 
L 441.023 92.349 
L 441.535 95.390 
L 441.817 97.682 
L 442.238 100.174 
L 442.580 102.991 
L 442.911 104.961 
L 443.311 108.277 
L 443.557 109.751 
L 444.012 113.544 
L 444.177 114.545 
L 444.685 118.791 
L 444.774 119.338 
L 445.335 124.017 
L 445.353 124.128 
L 445.5 125.338 
L 446.073 128.719 
L 446.129 129.129 
L 446.845 133.214 
L 446.974 134.173 
L 447.602 137.689 
L 447.801 139.186 
L 448.339 142.158 
L 448.603 144.175 
L 449.049 146.629 
L 449.375 149.146 
L 449.731 151.108 
L 450.115 154.101 
L 450.384 155.596 
L 450.823 159.043 
L 451.010 160.093 
L 451.504 163.972 
L 451.613 164.596 
L 452.160 168.887 
L 452.196 169.099 
L 452.5 171.460 
L 452.862 173.461 
L 452.898 173.704 
L 453.635 177.638 
L 453.745 178.396 
L 454.022 182.392 
L 454.080 183.478 
L 454.080 187.656 
L 454.080 188.836 
L 454.080 193.013 
L 454.080 194.193 
L 454.080 198.371 
L 454.080 199.551 
L 459.5 194.583 
L 466.5 188.166 
L 473.5 181.75 
L 480.5 175.333 
z
" clip-path="url(#p1865786474)" style="fill: #e8f2e5; stroke: #e8f2e5; stroke-width: 0.6"/>
<path d="M 491.662 165.101 
L 491.662 162.499 
L 491.662 160.657 
L 491.662 158.055 
L 491.662 156.213 
L 491.662 153.611 
L 491.662 151.769 
L 491.497 149.410 
L 491.375 147.560 
L 491.020 145.651 
L 490.658 143.679 
L 490.376 142.105 
L 489.932 139.770 
L 489.713 138.556 
L 489.181 135.845 
L 489.027 135.005 
L 488.404 131.902 
L 488.320 131.450 
L 487.604 127.937 
L 487.594 127.885 
L 487.5 127.425 
L 486.855 124.334 
L 486.799 123.937 
L 486.155 120.699 
L 486.032 119.872 
L 485.485 116.991 
L 485.293 115.753 
L 484.835 113.225 
L 484.571 111.589 
L 484.194 109.416 
L 483.854 107.386 
L 483.554 105.576 
L 483.132 103.150 
L 482.896 101.724 
L 482.388 98.892 
L 482.216 97.868 
L 481.618 94.610 
L 481.515 94.003 
L 480.824 90.302 
L 480.794 90.126 
L 480.5 88.564 
L 480.052 86.258 
L 480.014 85.963 
L 479.342 82.333 
L 479.238 81.570 
L 478.665 78.337 
L 478.493 77.127 
L 478.011 74.284 
L 477.767 72.640 
L 477.368 70.187 
L 477.049 68.115 
L 476.729 66.055 
L 476.330 63.556 
L 473.5 64.5 
L 466.5 66.833 
L 466.458 66.847 
L 466.461 66.875 
L 466.5 67.073 
L 466.899 71.466 
L 466.958 71.725 
L 467.363 76.012 
L 467.494 76.564 
L 467.879 80.476 
L 468.098 81.350 
L 468.458 84.845 
L 468.779 86.074 
L 469.106 89.105 
L 469.542 90.727 
L 469.828 93.248 
L 470.387 95.303 
L 470.622 97.270 
L 471.303 99.803 
L 471.474 101.180 
L 472.260 104.237 
L 472.359 105.008 
L 473.209 108.629 
L 473.233 108.808 
L 473.5 110.068 
L 473.781 113.001 
L 473.822 113.168 
L 474.232 117.306 
L 474.341 117.733 
L 474.733 121.523 
L 474.926 122.233 
L 475.294 125.636 
L 475.585 126.656 
L 475.922 129.631 
L 476.325 130.992 
L 476.624 133.495 
L 477.149 135.234 
L 477.399 137.224 
L 478.048 139.381 
L 478.237 140.824 
L 478.998 143.447 
L 479.117 144.323 
L 479.955 147.461 
L 479.999 147.777 
L 480.5 149.896 
L 480.666 151.516 
L 480.690 151.605 
L 481.104 155.584 
L 481.194 155.903 
L 481.361 159.901 
L 481.412 160.417 
L 481.412 164.518 
L 481.412 165.110 
L 481.412 169.211 
L 481.412 169.803 
L 481.412 173.904 
L 481.412 174.496 
L 487.5 168.916 
z
" clip-path="url(#p1865786474)" style="fill: #d9ecd4; stroke: #d9ecd4; stroke-width: 0.6"/>
<path d="M 500.420 157.073 
L 500.420 153.516 
L 500.420 152.842 
L 500.420 149.285 
L 500.420 148.610 
L 500.420 145.054 
L 500.420 144.379 
L 500.173 141.179 
L 500.114 140.399 
L 499.563 137.808 
L 499.350 136.767 
L 498.875 134.517 
L 498.597 133.091 
L 498.197 131.178 
L 497.847 129.375 
L 497.522 127.802 
L 497.099 125.622 
L 496.847 124.393 
L 496.349 121.834 
L 496.171 120.953 
L 495.598 118.010 
L 495.493 117.484 
L 494.842 114.152 
L 494.809 113.987 
L 494.5 112.401 
L 494.128 110.473 
L 494.085 110.259 
L 493.443 106.945 
L 493.322 106.332 
L 492.752 103.392 
L 492.558 102.369 
L 492.062 99.803 
L 491.802 98.364 
L 491.381 96.170 
L 491.052 94.319 
L 490.706 92.497 
L 490.303 90.237 
L 490.032 88.792 
L 489.554 86.119 
L 489.356 85.054 
L 488.803 81.966 
L 488.678 81.286 
L 488.049 77.777 
L 487.996 77.489 
L 487.5 74.724 
L 487.313 73.669 
L 487.291 73.553 
L 486.631 69.840 
L 486.531 69.293 
L 485.941 65.986 
L 485.766 64.998 
L 485.249 62.099 
L 485.007 60.664 
L 480.5 62.166 
L 476.330 63.556 
L 476.729 66.055 
L 477.049 68.115 
L 477.368 70.187 
L 477.767 72.640 
L 478.011 74.284 
L 478.493 77.127 
L 478.665 78.337 
L 479.238 81.570 
L 479.342 82.333 
L 480.014 85.963 
L 480.052 86.258 
L 480.5 88.564 
L 480.794 90.126 
L 480.824 90.302 
L 481.515 94.003 
L 481.618 94.610 
L 482.216 97.868 
L 482.388 98.892 
L 482.896 101.724 
L 483.132 103.150 
L 483.554 105.576 
L 483.854 107.386 
L 484.194 109.416 
L 484.571 111.589 
L 484.835 113.225 
L 485.293 115.753 
L 485.485 116.991 
L 486.032 119.872 
L 486.155 120.699 
L 486.799 123.937 
L 486.855 124.334 
L 487.5 127.425 
L 487.594 127.885 
L 487.604 127.937 
L 488.320 131.450 
L 488.404 131.902 
L 489.027 135.005 
L 489.181 135.845 
L 489.713 138.556 
L 489.932 139.770 
L 490.376 142.105 
L 490.658 143.679 
L 491.020 145.651 
L 491.375 147.560 
L 491.497 149.410 
L 491.662 151.769 
L 491.662 153.611 
L 491.662 156.213 
L 491.662 158.055 
L 491.662 160.657 
L 491.662 162.499 
L 491.662 165.101 
L 494.5 162.5 
z
" clip-path="url(#p1865786474)" style="fill: #c7e7c1; stroke: #c7e7c1; stroke-width: 0.6"/>
<path d="M 509.555 148.699 
L 509.555 148.116 
L 509.555 144.689 
L 509.555 144.107 
L 509.555 140.680 
L 509.555 140.098 
L 509.555 136.671 
L 509.513 136.148 
L 509.243 132.918 
L 509.173 132.604 
L 508.5 129.692 
L 508.467 129.538 
L 508.463 129.521 
L 507.812 126.401 
L 507.735 126.047 
L 507.153 123.237 
L 507.003 122.540 
L 506.490 120.047 
L 506.265 119.002 
L 505.820 116.833 
L 505.519 115.434 
L 505.144 113.595 
L 504.765 111.834 
L 504.460 110.334 
L 504.003 108.204 
L 503.768 107.049 
L 503.233 104.541 
L 503.069 103.738 
L 502.456 100.845 
L 502.365 100.400 
L 501.674 97.114 
L 501.658 97.032 
L 501.5 96.273 
L 500.991 93.609 
L 500.934 93.322 
L 500.333 90.150 
L 500.203 89.489 
L 499.671 86.663 
L 499.467 85.624 
L 499.004 83.151 
L 498.723 81.726 
L 498.329 79.614 
L 497.972 77.795 
L 497.647 76.052 
L 497.212 73.832 
L 496.957 72.465 
L 496.444 69.835 
L 496.261 68.851 
L 495.668 65.803 
L 495.558 65.209 
L 494.888 61.736 
L 494.851 61.538 
L 494.5 59.699 
L 494.169 57.824 
L 494.133 57.622 
L 487.5 59.833 
L 485.007 60.664 
L 485.249 62.099 
L 485.766 64.998 
L 485.941 65.986 
L 486.531 69.293 
L 486.631 69.840 
L 487.291 73.553 
L 487.313 73.669 
L 487.5 74.724 
L 487.996 77.489 
L 488.049 77.777 
L 488.678 81.286 
L 488.803 81.966 
L 489.356 85.054 
L 489.554 86.119 
L 490.032 88.792 
L 490.303 90.237 
L 490.706 92.497 
L 491.052 94.319 
L 491.381 96.170 
L 491.802 98.364 
L 492.062 99.803 
L 492.558 102.369 
L 492.752 103.392 
L 493.322 106.332 
L 493.443 106.945 
L 494.085 110.259 
L 494.128 110.473 
L 494.5 112.401 
L 494.809 113.987 
L 494.842 114.152 
L 495.493 117.484 
L 495.598 118.010 
L 496.171 120.953 
L 496.349 121.834 
L 496.847 124.393 
L 497.099 125.622 
L 497.522 127.802 
L 497.847 129.375 
L 498.197 131.178 
L 498.597 133.091 
L 498.875 134.517 
L 499.350 136.767 
L 499.563 137.808 
L 500.114 140.399 
L 500.173 141.179 
L 500.420 144.379 
L 500.420 145.054 
L 500.420 148.610 
L 500.420 149.285 
L 500.420 152.842 
L 500.420 153.516 
L 500.420 157.073 
L 501.5 156.083 
L 508.5 149.666 
z
" clip-path="url(#p1865786474)" style="fill: #b0dfaa; stroke: #b0dfaa; stroke-width: 0.6"/>
<path d="M 519.454 139.624 
L 519.454 137.537 
L 519.454 135.856 
L 519.454 133.768 
L 519.454 132.087 
L 519.454 130.000 
L 519.454 128.319 
L 519.290 126.457 
L 519.151 124.799 
L 518.792 123.355 
L 518.391 121.627 
L 518.107 120.477 
L 517.633 118.417 
L 517.424 117.563 
L 516.879 115.168 
L 516.743 114.613 
L 516.127 111.880 
L 516.066 111.625 
L 515.5 109.095 
L 515.390 108.607 
L 515.378 108.553 
L 514.715 105.585 
L 514.628 105.191 
L 514.035 102.534 
L 513.874 101.795 
L 513.351 99.455 
L 513.117 98.364 
L 512.666 96.345 
L 512.358 94.897 
L 511.980 93.203 
L 511.598 91.394 
L 511.294 90.027 
L 510.840 87.853 
L 510.610 86.815 
L 510.084 84.274 
L 509.928 83.568 
L 509.332 80.657 
L 509.250 80.284 
L 508.582 77.002 
L 508.574 76.964 
L 508.5 76.595 
L 507.900 73.640 
L 507.833 73.309 
L 507.221 70.291 
L 507.080 69.583 
L 506.538 66.912 
L 506.323 65.821 
L 505.853 63.503 
L 505.565 62.023 
L 505.167 60.061 
L 504.805 58.189 
L 504.481 56.587 
L 504.046 54.317 
L 501.5 55.166 
L 494.5 57.5 
L 494.133 57.622 
L 494.169 57.824 
L 494.5 59.699 
L 494.851 61.538 
L 494.888 61.736 
L 495.558 65.209 
L 495.668 65.803 
L 496.261 68.851 
L 496.444 69.835 
L 496.957 72.465 
L 497.212 73.832 
L 497.647 76.052 
L 497.972 77.795 
L 498.329 79.614 
L 498.723 81.726 
L 499.004 83.151 
L 499.467 85.624 
L 499.671 86.663 
L 500.203 89.489 
L 500.333 90.150 
L 500.934 93.322 
L 500.991 93.609 
L 501.5 96.273 
L 501.658 97.032 
L 501.674 97.114 
L 502.365 100.400 
L 502.456 100.845 
L 503.069 103.738 
L 503.233 104.541 
L 503.768 107.049 
L 504.003 108.204 
L 504.460 110.334 
L 504.765 111.834 
L 505.144 113.595 
L 505.519 115.434 
L 505.820 116.833 
L 506.265 119.002 
L 506.490 120.047 
L 507.003 122.540 
L 507.153 123.237 
L 507.735 126.047 
L 507.812 126.401 
L 508.463 129.521 
L 508.467 129.538 
L 508.5 129.692 
L 509.173 132.604 
L 509.243 132.918 
L 509.513 136.148 
L 509.555 136.671 
L 509.555 140.098 
L 509.555 140.680 
L 509.555 144.107 
L 509.555 144.689 
L 509.555 148.116 
L 509.555 148.699 
L 515.5 143.25 
z
" clip-path="url(#p1865786474)" style="fill: #99d595; stroke: #99d595; stroke-width: 0.6"/>
<path d="M 529.5 130.416 
L 529.5 126.892 
L 529.5 123.368 
L 529.5 123.368 
L 529.5 119.843 
L 529.210 116.709 
L 529.197 116.567 
L 528.545 114.057 
L 528.443 113.635 
L 527.864 111.394 
L 527.688 110.667 
L 527.183 108.698 
L 526.933 107.662 
L 526.501 105.970 
L 526.178 104.621 
L 525.820 103.208 
L 525.423 101.542 
L 525.138 100.412 
L 524.668 98.428 
L 524.457 97.584 
L 523.913 95.276 
L 523.776 94.723 
L 523.158 92.088 
L 523.094 91.828 
L 522.5 89.275 
L 522.413 88.905 
L 522.403 88.863 
L 521.731 85.978 
L 521.648 85.601 
L 521.050 83.017 
L 520.894 82.303 
L 520.369 80.023 
L 520.139 78.968 
L 519.687 76.996 
L 519.384 75.596 
L 519.006 73.936 
L 518.629 72.187 
L 518.324 70.843 
L 517.874 68.742 
L 517.643 67.716 
L 517.119 65.261 
L 516.961 64.557 
L 516.364 61.742 
L 516.280 61.364 
L 515.609 58.187 
L 515.599 58.139 
L 515.5 57.667 
L 514.917 54.908 
L 514.854 54.595 
L 514.235 51.649 
L 514.1 50.966 
L 508.5 52.833 
L 504.046 54.317 
L 504.481 56.587 
L 504.805 58.189 
L 505.167 60.061 
L 505.565 62.023 
L 505.853 63.503 
L 506.323 65.821 
L 506.538 66.912 
L 507.080 69.583 
L 507.221 70.291 
L 507.833 73.309 
L 507.900 73.640 
L 508.5 76.595 
L 508.574 76.964 
L 508.582 77.002 
L 509.250 80.284 
L 509.332 80.657 
L 509.928 83.568 
L 510.084 84.274 
L 510.610 86.815 
L 510.840 87.853 
L 511.294 90.027 
L 511.598 91.394 
L 511.980 93.203 
L 512.358 94.897 
L 512.666 96.345 
L 513.117 98.364 
L 513.351 99.455 
L 513.874 101.795 
L 514.035 102.534 
L 514.628 105.191 
L 514.715 105.585 
L 515.378 108.553 
L 515.390 108.607 
L 515.5 109.095 
L 516.066 111.625 
L 516.127 111.880 
L 516.743 114.613 
L 516.879 115.168 
L 517.424 117.563 
L 517.633 118.417 
L 518.107 120.477 
L 518.391 121.627 
L 518.792 123.355 
L 519.151 124.799 
L 519.290 126.457 
L 519.454 128.319 
L 519.454 130.000 
L 519.454 132.087 
L 519.454 133.768 
L 519.454 135.856 
L 519.454 137.537 
L 519.454 139.624 
L 522.5 136.833 
z
" clip-path="url(#p1865786474)" style="fill: #80ca80; stroke: #80ca80; stroke-width: 0.6"/>
<path d="M 539.5 121.25 
L 539.5 119.885 
L 539.5 117.968 
L 539.5 116.604 
L 539.5 114.687 
L 539.5 113.322 
L 539.5 111.406 
L 539.375 110.202 
L 539.198 108.372 
L 538.935 107.479 
L 538.443 105.684 
L 538.253 105.036 
L 537.688 102.959 
L 537.572 102.560 
L 536.933 100.197 
L 536.891 100.050 
L 536.5 98.595 
L 536.209 97.522 
L 536.178 97.398 
L 535.528 94.979 
L 535.423 94.563 
L 534.846 92.404 
L 534.668 91.691 
L 534.165 89.795 
L 533.913 88.783 
L 533.484 87.153 
L 533.158 85.838 
L 532.802 84.478 
L 532.403 82.856 
L 532.121 81.770 
L 531.649 79.837 
L 531.439 79.028 
L 530.894 76.782 
L 530.758 76.254 
L 530.139 73.690 
L 530.076 73.446 
L 529.5 71.043 
L 529.395 70.611 
L 529.384 70.561 
L 528.714 67.770 
L 528.629 67.396 
L 528.032 64.896 
L 527.874 64.194 
L 527.351 61.989 
L 527.119 60.955 
L 526.669 59.049 
L 526.364 57.679 
L 525.988 56.076 
L 525.609 54.367 
L 525.307 53.070 
L 524.854 51.018 
L 524.625 50.030 
L 524.1 47.633 
L 522.5 48.166 
L 515.5 50.5 
L 514.1 50.966 
L 514.235 51.649 
L 514.854 54.595 
L 514.917 54.908 
L 515.5 57.667 
L 515.599 58.139 
L 515.609 58.187 
L 516.280 61.364 
L 516.364 61.742 
L 516.961 64.557 
L 517.119 65.261 
L 517.643 67.716 
L 517.874 68.742 
L 518.324 70.843 
L 518.629 72.187 
L 519.006 73.936 
L 519.384 75.596 
L 519.687 76.996 
L 520.139 78.968 
L 520.369 80.023 
L 520.894 82.303 
L 521.050 83.017 
L 521.648 85.601 
L 521.731 85.978 
L 522.403 88.863 
L 522.413 88.905 
L 522.5 89.275 
L 523.094 91.828 
L 523.158 92.088 
L 523.776 94.723 
L 523.913 95.276 
L 524.457 97.584 
L 524.668 98.428 
L 525.138 100.412 
L 525.423 101.542 
L 525.820 103.208 
L 526.178 104.621 
L 526.501 105.970 
L 526.933 107.662 
L 527.183 108.698 
L 527.688 110.667 
L 527.864 111.394 
L 528.443 113.635 
L 528.545 114.057 
L 529.197 116.567 
L 529.210 116.709 
L 529.5 119.843 
L 529.5 123.368 
L 529.5 123.368 
L 529.5 126.892 
L 529.5 130.416 
L 529.5 130.416 
L 536.5 124 
z
" clip-path="url(#p1865786474)" style="fill: #65bd6f; stroke: #65bd6f; stroke-width: 0.6"/>
<path d="M 549.5 112.083 
L 549.5 109.5 
L 549.5 109.045 
L 549.5 106.461 
L 549.5 106.006 
L 549.5 103.423 
L 549.5 102.968 
L 549.251 100.701 
L 549.198 100.177 
L 548.643 98.418 
L 548.443 97.732 
L 547.962 96.193 
L 547.688 95.250 
L 547.283 93.933 
L 546.936 92.729 
L 546.605 91.639 
L 546.184 90.172 
L 545.926 89.313 
L 545.431 87.579 
L 545.246 86.956 
L 544.676 84.950 
L 544.563 84.569 
L 543.917 82.288 
L 543.877 82.151 
L 543.5 80.814 
L 543.192 79.715 
L 543.158 79.588 
L 542.510 77.259 
L 542.403 76.849 
L 541.829 74.770 
L 541.649 74.073 
L 541.147 72.248 
L 540.894 71.261 
L 540.468 69.691 
L 540.141 68.411 
L 539.790 67.100 
L 539.389 65.524 
L 539.111 64.476 
L 538.637 62.600 
L 538.432 61.820 
L 537.882 59.642 
L 537.749 59.133 
L 537.124 56.647 
L 537.064 56.416 
L 536.5 54.163 
L 536.377 53.673 
L 536.364 53.617 
L 535.696 50.919 
L 535.609 50.548 
L 535.015 48.132 
L 534.854 47.442 
L 534.333 45.312 
L 534.1 44.3 
L 529.5 45.833 
L 524.1 47.633 
L 524.625 50.030 
L 524.854 51.018 
L 525.307 53.070 
L 525.609 54.367 
L 525.988 56.076 
L 526.364 57.679 
L 526.669 59.049 
L 527.119 60.955 
L 527.351 61.989 
L 527.874 64.194 
L 528.032 64.896 
L 528.629 67.396 
L 528.714 67.770 
L 529.384 70.561 
L 529.395 70.611 
L 529.5 71.043 
L 530.076 73.446 
L 530.139 73.690 
L 530.758 76.254 
L 530.894 76.782 
L 531.439 79.028 
L 531.649 79.837 
L 532.121 81.770 
L 532.403 82.856 
L 532.802 84.478 
L 533.158 85.838 
L 533.484 87.153 
L 533.913 88.783 
L 534.165 89.795 
L 534.668 91.691 
L 534.846 92.404 
L 535.423 94.563 
L 535.528 94.979 
L 536.178 97.398 
L 536.209 97.522 
L 536.5 98.595 
L 536.891 100.050 
L 536.933 100.197 
L 537.572 102.560 
L 537.688 102.959 
L 538.253 105.036 
L 538.443 105.684 
L 538.935 107.479 
L 539.198 108.372 
L 539.375 110.202 
L 539.5 111.406 
L 539.5 113.322 
L 539.5 114.687 
L 539.5 116.604 
L 539.5 117.968 
L 539.5 119.885 
L 539.5 121.25 
L 543.5 117.583 
z
" clip-path="url(#p1865786474)" style="fill: #48ae60; stroke: #48ae60; stroke-width: 0.6"/>
<path d="M 559.589 102.834 
L 559.589 102.036 
L 559.589 100.041 
L 559.589 99.243 
L 559.589 97.248 
L 559.589 96.450 
L 559.589 94.455 
L 559.499 93.768 
L 559.289 91.908 
L 559.107 91.444 
L 558.545 89.700 
L 558.438 89.426 
L 557.810 87.448 
L 557.778 87.366 
L 557.5 86.477 
L 557.106 85.306 
L 557.063 85.169 
L 556.417 83.247 
L 556.300 82.866 
L 555.726 81.157 
L 555.535 80.527 
L 555.034 79.035 
L 554.770 78.151 
L 554.342 76.877 
L 554.007 75.736 
L 553.654 74.684 
L 553.247 73.282 
L 552.969 72.453 
L 552.493 70.788 
L 552.291 70.182 
L 551.747 68.253 
L 551.619 67.871 
L 551.009 65.677 
L 550.957 65.520 
L 550.5 63.853 
L 550.293 63.147 
L 550.271 63.065 
L 549.605 60.787 
L 549.508 60.429 
L 548.915 58.396 
L 548.744 57.758 
L 548.223 55.974 
L 547.978 55.049 
L 547.531 53.517 
L 547.214 52.303 
L 546.841 51.025 
L 546.454 49.518 
L 546.155 48.496 
L 545.698 46.694 
L 545.475 45.929 
L 544.950 43.832 
L 544.802 43.324 
L 544.209 40.930 
L 543.5 41.166 
L 536.5 43.5 
L 534.1 44.3 
L 534.333 45.312 
L 534.854 47.442 
L 535.015 48.132 
L 535.609 50.548 
L 535.696 50.919 
L 536.364 53.617 
L 536.377 53.673 
L 536.5 54.163 
L 537.064 56.416 
L 537.124 56.647 
L 537.749 59.133 
L 537.882 59.642 
L 538.432 61.820 
L 538.637 62.600 
L 539.111 64.476 
L 539.389 65.524 
L 539.790 67.100 
L 540.141 68.411 
L 540.468 69.691 
L 540.894 71.261 
L 541.147 72.248 
L 541.649 74.073 
L 541.829 74.770 
L 542.403 76.849 
L 542.510 77.259 
L 543.158 79.588 
L 543.192 79.715 
L 543.5 80.814 
L 543.877 82.151 
L 543.917 82.288 
L 544.563 84.569 
L 544.676 84.950 
L 545.246 86.956 
L 545.431 87.579 
L 545.926 89.313 
L 546.184 90.172 
L 546.605 91.639 
L 546.936 92.729 
L 547.283 93.933 
L 547.688 95.250 
L 547.962 96.193 
L 548.443 97.732 
L 548.643 98.418 
L 549.198 100.177 
L 549.251 100.701 
L 549.5 102.968 
L 549.5 103.423 
L 549.5 106.006 
L 549.5 106.461 
L 549.5 109.045 
L 549.5 109.5 
L 549.5 112.083 
L 550.5 111.166 
L 557.5 104.75 
z
" clip-path="url(#p1865786474)" style="fill: #339c52; stroke: #339c52; stroke-width: 0.6"/>
<path d="M 569.121 94.096 
L 569.121 92.444 
L 569.121 91.535 
L 569.121 89.882 
L 569.121 88.974 
L 569.121 87.321 
L 569.121 86.413 
L 568.922 84.999 
L 568.817 84.101 
L 568.380 83.071 
L 568.061 82.133 
L 567.702 81.273 
L 567.312 80.124 
L 567.029 79.437 
L 566.568 78.074 
L 566.360 77.563 
L 565.829 75.984 
L 565.696 75.652 
L 565.094 73.856 
L 565.034 73.706 
L 564.5 72.101 
L 564.364 71.743 
L 564.351 71.697 
L 563.652 69.818 
L 563.565 69.530 
L 562.948 67.850 
L 562.790 67.318 
L 562.253 65.838 
L 562.024 65.063 
L 561.566 63.785 
L 561.266 62.766 
L 560.886 61.691 
L 560.515 60.428 
L 560.212 59.560 
L 559.770 58.051 
L 559.542 57.391 
L 559.030 55.635 
L 558.877 55.186 
L 558.294 53.181 
L 558.214 52.946 
L 557.561 50.690 
L 557.555 50.672 
L 557.5 50.478 
L 556.845 48.438 
L 556.778 48.185 
L 556.139 46.169 
L 556.000 45.640 
L 555.442 43.859 
L 555.232 43.053 
L 554.753 41.508 
L 554.472 40.426 
L 554.071 39.118 
L 553.720 37.759 
L 550.5 38.833 
L 544.209 40.930 
L 544.802 43.324 
L 544.950 43.832 
L 545.475 45.929 
L 545.698 46.694 
L 546.155 48.496 
L 546.454 49.518 
L 546.841 51.025 
L 547.214 52.303 
L 547.531 53.517 
L 547.978 55.049 
L 548.223 55.974 
L 548.744 57.758 
L 548.915 58.396 
L 549.508 60.429 
L 549.605 60.787 
L 550.271 63.065 
L 550.293 63.147 
L 550.5 63.853 
L 550.957 65.520 
L 551.009 65.677 
L 551.619 67.871 
L 551.747 68.253 
L 552.291 70.182 
L 552.493 70.788 
L 552.969 72.453 
L 553.247 73.282 
L 553.654 74.684 
L 554.007 75.736 
L 554.342 76.877 
L 554.770 78.151 
L 555.034 79.035 
L 555.535 80.527 
L 555.726 81.157 
L 556.300 82.866 
L 556.417 83.247 
L 557.063 85.169 
L 557.106 85.306 
L 557.5 86.477 
L 557.778 87.366 
L 557.810 87.448 
L 558.438 89.426 
L 558.545 89.700 
L 559.107 91.444 
L 559.289 91.908 
L 559.499 93.768 
L 559.589 94.455 
L 559.589 96.450 
L 559.589 97.248 
L 559.589 99.243 
L 559.589 100.041 
L 559.589 102.036 
L 559.589 102.834 
L 564.5 98.333 
z
" clip-path="url(#p1865786474)" style="fill: #228a44; stroke: #228a44; stroke-width: 0.6"/>
<path d="M 577.796 86.145 
L 577.796 84.046 
L 577.796 83.794 
L 577.796 81.695 
L 577.796 81.444 
L 577.796 79.345 
L 577.796 79.093 
L 577.531 77.306 
L 577.490 76.993 
L 576.898 75.679 
L 576.729 75.241 
L 576.212 74.081 
L 575.970 73.449 
L 575.522 72.454 
L 575.208 71.623 
L 574.832 70.794 
L 574.445 69.761 
L 574.144 69.096 
L 573.687 67.858 
L 573.463 67.360 
L 572.937 65.913 
L 572.790 65.582 
L 572.197 63.925 
L 572.125 63.763 
L 571.5 61.986 
L 571.469 61.906 
L 571.465 61.896 
L 570.774 60.083 
L 570.698 59.852 
L 570.085 58.223 
L 569.936 57.769 
L 569.399 56.326 
L 569.178 55.646 
L 568.710 54.398 
L 568.416 53.488 
L 568.020 52.438 
L 567.653 51.294 
L 567.331 50.443 
L 566.894 49.061 
L 566.648 48.410 
L 566.141 46.788 
L 565.972 46.337 
L 565.397 44.474 
L 565.306 44.225 
L 564.665 42.120 
L 564.648 42.073 
L 564.5 41.577 
L 563.963 39.936 
L 563.907 39.740 
L 563.273 37.777 
L 563.144 37.325 
L 562.586 35.581 
L 562.385 34.871 
L 557.5 36.5 
L 553.720 37.759 
L 554.071 39.118 
L 554.472 40.426 
L 554.753 41.508 
L 555.232 43.053 
L 555.442 43.859 
L 556.000 45.640 
L 556.139 46.169 
L 556.778 48.185 
L 556.845 48.438 
L 557.5 50.478 
L 557.555 50.672 
L 557.561 50.690 
L 558.214 52.946 
L 558.294 53.181 
L 558.877 55.186 
L 559.030 55.635 
L 559.542 57.391 
L 559.770 58.051 
L 560.212 59.560 
L 560.515 60.428 
L 560.886 61.691 
L 561.266 62.766 
L 561.566 63.785 
L 562.024 65.063 
L 562.253 65.838 
L 562.790 67.318 
L 562.948 67.850 
L 563.565 69.530 
L 563.652 69.818 
L 564.351 71.697 
L 564.364 71.743 
L 564.5 72.101 
L 565.034 73.706 
L 565.094 73.856 
L 565.696 75.652 
L 565.829 75.984 
L 566.360 77.563 
L 566.568 78.074 
L 567.029 79.437 
L 567.312 80.124 
L 567.702 81.273 
L 568.061 82.133 
L 568.380 83.071 
L 568.817 84.101 
L 568.922 84.999 
L 569.121 86.413 
L 569.121 87.321 
L 569.121 88.974 
L 569.121 89.882 
L 569.121 91.535 
L 569.121 92.444 
L 569.121 94.096 
L 571.5 91.916 
z
" clip-path="url(#p1865786474)" style="fill: #0e7936; stroke: #0e7936; stroke-width: 0.6"/>
<path d="M 578.5 54.515 
L 577.991 53.308 
L 577.939 53.156 
L 577.296 51.594 
L 577.174 51.231 
L 576.615 49.835 
L 576.423 49.262 
L 575.944 48.034 
L 575.679 47.253 
L 575.277 46.196 
L 574.938 45.206 
L 574.612 44.325 
L 574.197 43.123 
L 573.945 42.423 
L 573.452 41.006 
L 573.272 40.493 
L 572.698 38.856 
L 572.589 38.538 
L 571.930 36.675 
L 571.892 36.559 
L 571.5 35.459 
L 571.182 34.571 
L 571.150 34.461 
L 570.484 32.559 
L 570.381 32.206 
L 564.5 34.166 
L 562.385 34.871 
L 562.586 35.581 
L 563.144 37.325 
L 563.273 37.777 
L 563.907 39.740 
L 563.963 39.936 
L 564.5 41.577 
L 564.648 42.073 
L 564.665 42.120 
L 565.306 44.225 
L 565.397 44.474 
L 565.972 46.337 
L 566.141 46.788 
L 566.648 48.410 
L 566.894 49.061 
L 567.331 50.443 
L 567.653 51.294 
L 568.020 52.438 
L 568.416 53.488 
L 568.710 54.398 
L 569.178 55.646 
L 569.399 56.326 
L 569.936 57.769 
L 570.085 58.223 
L 570.698 59.852 
L 570.774 60.083 
L 571.465 61.896 
L 571.469 61.906 
L 571.5 61.986 
L 572.125 63.763 
L 572.197 63.925 
L 572.790 65.582 
L 572.937 65.913 
L 573.463 67.360 
L 573.687 67.858 
L 574.144 69.096 
L 574.445 69.761 
L 574.832 70.794 
L 575.208 71.623 
L 575.522 72.454 
L 575.970 73.449 
L 576.212 74.081 
L 576.729 75.241 
L 576.898 75.679 
L 577.490 76.993 
L 577.531 77.306 
L 577.796 79.093 
L 577.796 79.345 
L 577.796 81.444 
L 577.796 81.695 
L 577.796 83.794 
L 577.796 84.046 
L 577.796 86.145 
L 578.5 85.5 
L 578.5 83.166 
L 578.5 80.833 
L 578.5 78.5 
L 578.5 76.166 
L 578.5 73.833 
L 578.5 71.5 
L 578.5 69.166 
L 578.5 66.833 
L 578.5 64.5 
L 578.5 62.166 
L 578.5 59.833 
L 578.5 57.5 
L 578.5 55.166 
z
" clip-path="url(#p1865786474)" style="fill: #006729; stroke: #006729; stroke-width: 0.6"/>
<path d="M 570.381 32.206 
L 570.484 32.559 
L 571.150 34.461 
L 571.182 34.571 
L 571.5 35.459 
L 571.892 36.559 
L 571.930 36.675 
L 572.589 38.538 
L 572.698 38.856 
L 573.272 40.493 
L 573.452 41.006 
L 573.945 42.423 
L 574.197 43.123 
L 574.612 44.325 
L 574.938 45.206 
L 575.277 46.196 
L 575.679 47.253 
L 575.944 48.034 
L 576.423 49.262 
L 576.615 49.835 
L 577.174 51.231 
L 577.296 51.594 
L 577.939 53.156 
L 577.991 53.308 
L 578.5 54.515 
L 578.5 52.833 
L 578.5 50.5 
L 578.5 48.166 
L 578.5 45.833 
L 578.5 43.5 
L 578.5 41.166 
L 578.5 38.833 
L 578.5 36.5 
L 578.5 34.166 
L 578.5 31.833 
L 578.5 29.5 
L 571.5 31.833 
z
" clip-path="url(#p1865786474)" style="fill: #005020; stroke: #005020; stroke-width: 0.6"/>
</g>
<g id="matplotlib.axis_5">
<g id="xtick_4">
<g id="line2d_33">
<g>
<path d="M 0 0  L 0 5.833  " transform="translate(411.5 239.5)" style="stroke: #000000; stroke-width: 1.333"/>
</g>
</g>
</g>
<g id="xtick_5">
<g id="line2d_34">
<g>
<path d="M 0 0  L 0 5.833  " transform="translate(481.5 239.5)" style="stroke: #000000; stroke-width: 1.333"/>
</g>
</g>
</g>
<g id="xtick_6">
<g id="line2d_35">
<g>
<path d="M 0 0  L 0 5.833  " transform="translate(551.5 239.5)" style="stroke: #000000; stroke-width: 1.333"/>
</g>
</g>
</g>
</g>
<g id="matplotlib.axis_6">
<g id="ytick_20">
<g id="line2d_36">
<g>
<path d="M 0 0  L -5.833 0  " transform="translate(411.5 239.5)" style="stroke: #000000; stroke-width: 1.333"/>
</g>
</g>
</g>
<g id="ytick_21">
<g id="line2d_37">
<g>
<path d="M 0 0  L -5.833 0  " transform="translate(411.5 204.5)" style="stroke: #000000; stroke-width: 1.333"/>
</g>
</g>
</g>
<g id="ytick_22">
<g id="line2d_38">
<g>
<path d="M 0 0  L -5.833 0  " transform="translate(411.5 169.5)" style="stroke: #000000; stroke-width: 1.333"/>
</g>
</g>
</g>
<g id="ytick_23">
<g id="line2d_39">
<g>
<path d="M 0 0  L -5.833 0  " transform="translate(411.5 134.5)" style="stroke: #000000; stroke-width: 1.333"/>
</g>
</g>
</g>
<g id="ytick_24">
<g id="line2d_40">
<g>
<path d="M 0 0  L -5.833 0  " transform="translate(411.5 99.5)" style="stroke: #000000; stroke-width: 1.333"/>
</g>
</g>
</g>
<g id="ytick_25">
<g id="line2d_41">
<g>
<path d="M 0 0  L -5.833 0  " transform="translate(411.5 64.5)" style="stroke: #000000; stroke-width: 1.333"/>
</g>
</g>
</g>
<g id="ytick_26">
<g id="line2d_42">
<g>
<path d="M 0 0  L -5.833 0  " transform="translate(411.5 29.5)" style="stroke: #000000; stroke-width: 1.333"/>
</g>
</g>
</g>
</g>
<g id="patch_24">
<path d="M 411.5 239.5 
L 411.5 29.5 
" style="fill: none; stroke: #000000; stroke-width: 1.333; stroke-linejoin: miter; stroke-linecap: square"/>
</g>
<g id="patch_25">
<path d="M 579.5 239.5 
L 579.5 29.5 
" style="fill: none; stroke: #000000; stroke-width: 1.333; stroke-linejoin: miter; stroke-linecap: square"/>
</g>
<g id="patch_26">
<path d="M 411.5 239.5 
L 579.5 239.5 
" style="fill: none; stroke: #000000; stroke-width: 1.333; stroke-linejoin: miter; stroke-linecap: square"/>
</g>
<g id="patch_27">
<path d="M 411.5 29.5 
L 579.5 29.5 
" style="fill: none; stroke: #000000; stroke-width: 1.333; stroke-linejoin: miter; stroke-linecap: square"/>
</g>
<g id="LineCollection_2">
<path d="M 410.5 239.5 
L 417.5 233.083 
L 424.5 226.666 
L 431.5 220.25 
L 438.5 213.833 
L 445.5 207.416 
L 452.5 201 
L 459.5 194.583 
L 466.5 188.166 
L 473.5 181.75 
L 480.5 175.333 
L 487.5 168.916 
L 494.5 162.5 
L 501.5 156.083 
L 508.5 149.666 
L 515.5 143.25 
L 522.5 136.833 
L 529.5 130.416 
L 536.5 124 
L 543.5 117.583 
L 550.5 111.166 
L 557.5 104.75 
L 564.5 98.333 
L 571.5 91.916 
L 578.5 85.5 
" clip-path="url(#p1865786474)" style="fill: none; stroke: #000000; stroke-width: 1.05; stroke-linejoin: miter"/>
<path d="M 410.5 233.083 
L 417.5 226.836 
L 424.5 220.590 
L 431.5 214.343 
L 438.5 208.097 
L 445.5 201.850 
L 452.5 195.604 
L 459.5 189.357 
L 466.5 183.111 
L 473.5 176.864 
L 480.5 170.618 
L 487.5 164.371 
L 494.5 158.125 
L 501.5 151.878 
L 508.5 145.631 
L 515.5 139.385 
L 522.5 133.138 
L 529.5 126.892 
L 536.5 120.645 
L 543.5 114.399 
L 550.5 108.152 
L 557.5 101.906 
L 564.5 95.659 
L 571.5 89.413 
L 578.5 83.166 
" clip-path="url(#p1865786474)" style="fill: none; stroke: #000000; stroke-width: 1.05; stroke-linejoin: miter"/>
<path d="M 410.5 226.666 
L 417.5 220.590 
L 424.5 214.513 
L 431.5 208.437 
L 438.5 202.361 
L 445.5 196.284 
L 452.5 190.208 
L 459.5 184.131 
L 466.5 178.055 
L 473.5 171.979 
L 480.5 165.902 
L 487.5 159.826 
L 494.5 153.75 
L 501.5 147.673 
L 508.5 141.597 
L 515.5 135.520 
L 522.5 129.444 
L 529.5 123.368 
L 536.5 117.291 
L 543.5 111.215 
L 550.5 105.138 
L 557.5 99.062 
L 564.5 92.986 
L 571.5 86.909 
L 578.5 80.833 
" clip-path="url(#p1865786474)" style="fill: none; stroke: #000000; stroke-width: 1.05; stroke-linejoin: miter"/>
<path d="M 410.5 220.25 
L 417.5 214.343 
L 424.5 208.437 
L 431.5 202.531 
L 438.5 196.625 
L 445.5 190.718 
L 452.5 184.812 
L 459.5 178.906 
L 466.5 173 
L 473.5 167.093 
L 480.5 161.187 
L 487.5 155.281 
L 494.5 149.375 
L 501.5 143.468 
L 508.5 137.562 
L 515.5 131.656 
L 522.5 125.75 
L 529.5 119.843 
L 536.5 113.937 
L 543.5 108.031 
L 550.5 102.125 
L 557.5 96.218 
L 564.5 90.312 
L 571.5 84.406 
L 578.5 78.5 
" clip-path="url(#p1865786474)" style="fill: none; stroke: #000000; stroke-width: 1.05; stroke-linejoin: miter"/>
<path d="M 410.5 213.833 
L 417.5 208.097 
L 424.5 202.361 
L 431.5 196.625 
L 438.5 190.888 
L 445.5 185.152 
L 452.5 179.416 
L 459.5 173.680 
L 466.5 167.944 
L 473.5 162.208 
L 480.5 156.472 
L 487.5 150.736 
L 494.5 145 
L 501.5 139.263 
L 508.5 133.527 
L 515.5 127.791 
L 522.5 122.055 
L 529.5 116.319 
L 536.5 110.583 
L 543.5 104.847 
L 550.5 99.111 
L 557.5 93.375 
L 564.5 87.638 
L 571.5 81.902 
L 578.5 76.166 
" clip-path="url(#p1865786474)" style="fill: none; stroke: #000000; stroke-width: 1.05; stroke-linejoin: miter"/>
<path d="M 410.5 207.416 
L 417.5 201.850 
L 424.5 196.284 
L 431.5 190.718 
L 438.5 185.152 
L 445.5 179.586 
L 452.5 174.020 
L 459.5 168.454 
L 466.5 162.888 
L 473.5 157.322 
L 480.5 151.756 
L 487.5 146.190 
L 494.5 140.625 
L 501.5 135.059 
L 508.5 129.493 
L 515.5 123.927 
L 522.5 118.361 
L 529.5 112.795 
L 536.5 107.229 
L 543.5 101.663 
L 550.5 96.097 
L 557.5 90.531 
L 564.5 84.965 
L 571.5 79.399 
L 578.5 73.833 
" clip-path="url(#p1865786474)" style="fill: none; stroke: #000000; stroke-width: 1.05; stroke-linejoin: miter"/>
<path d="M 410.5 201 
L 417.5 195.604 
L 424.5 190.208 
L 431.5 184.812 
L 438.5 179.416 
L 445.5 174.020 
L 452.5 168.625 
L 459.5 163.229 
L 466.5 157.833 
L 473.5 152.437 
L 480.5 147.041 
L 487.5 141.645 
L 494.5 136.25 
L 501.5 130.854 
L 508.5 125.458 
L 515.5 120.062 
L 522.5 114.666 
L 529.5 109.270 
L 536.5 103.875 
L 543.5 98.479 
L 550.5 93.083 
L 557.5 87.687 
L 564.5 82.291 
L 571.5 76.895 
L 578.5 71.5 
" clip-path="url(#p1865786474)" style="fill: none; stroke: #000000; stroke-width: 1.05; stroke-linejoin: miter"/>
<path d="M 410.5 194.583 
L 417.5 189.357 
L 424.5 184.131 
L 431.5 178.906 
L 438.5 173.680 
L 445.5 168.454 
L 452.5 163.229 
L 459.5 158.003 
L 466.5 152.777 
L 473.5 147.552 
L 480.5 142.326 
L 487.5 137.100 
L 494.5 131.875 
L 501.5 126.649 
L 508.5 121.423 
L 515.5 116.197 
L 522.5 110.972 
L 529.5 105.746 
L 536.5 100.520 
L 543.5 95.295 
L 550.5 90.069 
L 557.5 84.843 
L 564.5 79.618 
L 571.5 74.392 
L 578.5 69.166 
" clip-path="url(#p1865786474)" style="fill: none; stroke: #000000; stroke-width: 1.05; stroke-linejoin: miter"/>
<path d="M 410.5 188.166 
L 417.5 183.111 
L 424.5 178.055 
L 431.5 173 
L 438.5 167.944 
L 445.5 162.888 
L 452.5 157.833 
L 459.5 152.777 
L 466.5 147.722 
L 473.5 142.666 
L 480.5 137.611 
L 487.5 132.555 
L 494.5 127.5 
L 501.5 122.444 
L 508.5 117.388 
L 515.5 112.333 
L 522.5 107.277 
L 529.5 102.222 
L 536.5 97.166 
L 543.5 92.111 
L 550.5 87.055 
L 557.5 82 
L 564.5 76.944 
L 571.5 71.888 
L 578.5 66.833 
" clip-path="url(#p1865786474)" style="fill: none; stroke: #000000; stroke-width: 1.05; stroke-linejoin: miter"/>
<path d="M 410.5 181.75 
L 417.5 176.864 
L 424.5 171.979 
L 431.5 167.093 
L 438.5 162.208 
L 445.5 157.322 
L 452.5 152.437 
L 459.5 147.552 
L 466.5 142.666 
L 473.5 137.781 
L 480.5 132.895 
L 487.5 128.010 
L 494.5 123.125 
L 501.5 118.239 
L 508.5 113.354 
L 515.5 108.468 
L 522.5 103.583 
L 529.5 98.697 
L 536.5 93.812 
L 543.5 88.927 
L 550.5 84.041 
L 557.5 79.156 
L 564.5 74.270 
L 571.5 69.385 
L 578.5 64.5 
" clip-path="url(#p1865786474)" style="fill: none; stroke: #000000; stroke-width: 1.05; stroke-linejoin: miter"/>
<path d="M 410.5 175.333 
L 417.5 170.618 
L 424.5 165.902 
L 431.5 161.187 
L 438.5 156.472 
L 445.5 151.756 
L 452.5 147.041 
L 459.5 142.326 
L 466.5 137.611 
L 473.5 132.895 
L 480.5 128.180 
L 487.5 123.465 
L 494.5 118.75 
L 501.5 114.034 
L 508.5 109.319 
L 515.5 104.604 
L 522.5 99.888 
L 529.5 95.173 
L 536.5 90.458 
L 543.5 85.743 
L 550.5 81.027 
L 557.5 76.312 
L 564.5 71.597 
L 571.5 66.881 
L 578.5 62.166 
" clip-path="url(#p1865786474)" style="fill: none; stroke: #000000; stroke-width: 1.05; stroke-linejoin: miter"/>
<path d="M 410.5 168.916 
L 417.5 164.371 
L 424.5 159.826 
L 431.5 155.281 
L 438.5 150.736 
L 445.5 146.190 
L 452.5 141.645 
L 459.5 137.100 
L 466.5 132.555 
L 473.5 128.010 
L 480.5 123.465 
L 487.5 118.920 
L 494.5 114.375 
L 501.5 109.829 
L 508.5 105.284 
L 515.5 100.739 
L 522.5 96.194 
L 529.5 91.649 
L 536.5 87.104 
L 543.5 82.559 
L 550.5 78.013 
L 557.5 73.468 
L 564.5 68.923 
L 571.5 64.378 
L 578.5 59.833 
" clip-path="url(#p1865786474)" style="fill: none; stroke: #000000; stroke-width: 1.05; stroke-linejoin: miter"/>
<path d="M 410.5 162.5 
L 417.5 158.125 
L 424.5 153.75 
L 431.5 149.375 
L 438.5 145 
L 445.5 140.625 
L 452.5 136.25 
L 459.5 131.875 
L 466.5 127.5 
L 473.5 123.125 
L 480.5 118.75 
L 487.5 114.375 
L 494.5 110 
L 501.5 105.625 
L 508.5 101.25 
L 515.5 96.875 
L 522.5 92.5 
L 529.5 88.125 
L 536.5 83.75 
L 543.5 79.375 
L 550.5 75 
L 557.5 70.625 
L 564.5 66.25 
L 571.5 61.875 
L 578.5 57.5 
" clip-path="url(#p1865786474)" style="fill: none; stroke: #000000; stroke-width: 1.05; stroke-linejoin: miter"/>
<path d="M 410.5 156.083 
L 417.5 151.878 
L 424.5 147.673 
L 431.5 143.468 
L 438.5 139.263 
L 445.5 135.059 
L 452.5 130.854 
L 459.5 126.649 
L 466.5 122.444 
L 473.5 118.239 
L 480.5 114.034 
L 487.5 109.829 
L 494.5 105.625 
L 501.5 101.420 
L 508.5 97.215 
L 515.5 93.010 
L 522.5 88.805 
L 529.5 84.600 
L 536.5 80.395 
L 543.5 76.190 
L 550.5 71.986 
L 557.5 67.781 
L 564.5 63.576 
L 571.5 59.371 
L 578.5 55.166 
" clip-path="url(#p1865786474)" style="fill: none; stroke: #000000; stroke-width: 1.05; stroke-linejoin: miter"/>
<path d="M 410.5 149.666 
L 417.5 145.631 
L 424.5 141.597 
L 431.5 137.562 
L 438.5 133.527 
L 445.5 129.493 
L 452.5 125.458 
L 459.5 121.423 
L 466.5 117.388 
L 473.5 113.354 
L 480.5 109.319 
L 487.5 105.284 
L 494.5 101.25 
L 501.5 97.215 
L 508.5 93.180 
L 515.5 89.145 
L 522.5 85.111 
L 529.5 81.076 
L 536.5 77.041 
L 543.5 73.006 
L 550.5 68.972 
L 557.5 64.937 
L 564.5 60.902 
L 571.5 56.868 
L 578.5 52.833 
" clip-path="url(#p1865786474)" style="fill: none; stroke: #000000; stroke-width: 1.05; stroke-linejoin: miter"/>
<path d="M 410.5 143.25 
L 417.5 139.385 
L 424.5 135.520 
L 431.5 131.656 
L 438.5 127.791 
L 445.5 123.927 
L 452.5 120.062 
L 459.5 116.197 
L 466.5 112.333 
L 473.5 108.468 
L 480.5 104.604 
L 487.5 100.739 
L 494.5 96.875 
L 501.5 93.010 
L 508.5 89.145 
L 515.5 85.281 
L 522.5 81.416 
L 529.5 77.552 
L 536.5 73.687 
L 543.5 69.822 
L 550.5 65.958 
L 557.5 62.093 
L 564.5 58.229 
L 571.5 54.364 
L 578.5 50.5 
" clip-path="url(#p1865786474)" style="fill: none; stroke: #000000; stroke-width: 1.05; stroke-linejoin: miter"/>
<path d="M 410.5 136.833 
L 417.5 133.138 
L 424.5 129.444 
L 431.5 125.75 
L 438.5 122.055 
L 445.5 118.361 
L 452.5 114.666 
L 459.5 110.972 
L 466.5 107.277 
L 473.5 103.583 
L 480.5 99.888 
L 487.5 96.194 
L 494.5 92.5 
L 501.5 88.805 
L 508.5 85.111 
L 515.5 81.416 
L 522.5 77.722 
L 529.5 74.027 
L 536.5 70.333 
L 543.5 66.638 
L 550.5 62.944 
L 557.5 59.25 
L 564.5 55.555 
L 571.5 51.861 
L 578.5 48.166 
" clip-path="url(#p1865786474)" style="fill: none; stroke: #000000; stroke-width: 1.05; stroke-linejoin: miter"/>
<path d="M 410.5 130.416 
L 417.5 126.892 
L 424.5 123.368 
L 431.5 119.843 
L 438.5 116.319 
L 445.5 112.795 
L 452.5 109.270 
L 459.5 105.746 
L 466.5 102.222 
L 473.5 98.697 
L 480.5 95.173 
L 487.5 91.649 
L 494.5 88.125 
L 501.5 84.600 
L 508.5 81.076 
L 515.5 77.552 
L 522.5 74.027 
L 529.5 70.503 
L 536.5 66.979 
L 543.5 63.454 
L 550.5 59.930 
L 557.5 56.406 
L 564.5 52.881 
L 571.5 49.357 
L 578.5 45.833 
" clip-path="url(#p1865786474)" style="fill: none; stroke: #000000; stroke-width: 1.05; stroke-linejoin: miter"/>
<path d="M 410.5 124 
L 417.5 120.645 
L 424.5 117.291 
L 431.5 113.937 
L 438.5 110.583 
L 445.5 107.229 
L 452.5 103.875 
L 459.5 100.520 
L 466.5 97.166 
L 473.5 93.812 
L 480.5 90.458 
L 487.5 87.104 
L 494.5 83.75 
L 501.5 80.395 
L 508.5 77.041 
L 515.5 73.687 
L 522.5 70.333 
L 529.5 66.979 
L 536.5 63.625 
L 543.5 60.270 
L 550.5 56.916 
L 557.5 53.562 
L 564.5 50.208 
L 571.5 46.854 
L 578.5 43.5 
" clip-path="url(#p1865786474)" style="fill: none; stroke: #000000; stroke-width: 1.05; stroke-linejoin: miter"/>
<path d="M 410.5 117.583 
L 417.5 114.399 
L 424.5 111.215 
L 431.5 108.031 
L 438.5 104.847 
L 445.5 101.663 
L 452.5 98.479 
L 459.5 95.295 
L 466.5 92.111 
L 473.5 88.927 
L 480.5 85.743 
L 487.5 82.559 
L 494.5 79.375 
L 501.5 76.190 
L 508.5 73.006 
L 515.5 69.822 
L 522.5 66.638 
L 529.5 63.454 
L 536.5 60.270 
L 543.5 57.086 
L 550.5 53.902 
L 557.5 50.718 
L 564.5 47.534 
L 571.5 44.350 
L 578.5 41.166 
" clip-path="url(#p1865786474)" style="fill: none; stroke: #000000; stroke-width: 1.05; stroke-linejoin: miter"/>
<path d="M 410.5 111.166 
L 417.5 108.152 
L 424.5 105.138 
L 431.5 102.125 
L 438.5 99.111 
L 445.5 96.097 
L 452.5 93.083 
L 459.5 90.069 
L 466.5 87.055 
L 473.5 84.041 
L 480.5 81.027 
L 487.5 78.013 
L 494.5 75 
L 501.5 71.986 
L 508.5 68.972 
L 515.5 65.958 
L 522.5 62.944 
L 529.5 59.930 
L 536.5 56.916 
L 543.5 53.902 
L 550.5 50.888 
L 557.5 47.875 
L 564.5 44.861 
L 571.5 41.847 
L 578.5 38.833 
" clip-path="url(#p1865786474)" style="fill: none; stroke: #000000; stroke-width: 1.05; stroke-linejoin: miter"/>
<path d="M 410.5 104.75 
L 417.5 101.906 
L 424.5 99.062 
L 431.5 96.218 
L 438.5 93.375 
L 445.5 90.531 
L 452.5 87.687 
L 459.5 84.843 
L 466.5 82 
L 473.5 79.156 
L 480.5 76.312 
L 487.5 73.468 
L 494.5 70.625 
L 501.5 67.781 
L 508.5 64.937 
L 515.5 62.093 
L 522.5 59.25 
L 529.5 56.406 
L 536.5 53.562 
L 543.5 50.718 
L 550.5 47.875 
L 557.5 45.031 
L 564.5 42.187 
L 571.5 39.343 
L 578.5 36.5 
" clip-path="url(#p1865786474)" style="fill: none; stroke: #000000; stroke-width: 1.05; stroke-linejoin: miter"/>
<path d="M 410.5 98.333 
L 417.5 95.659 
L 424.5 92.986 
L 431.5 90.312 
L 438.5 87.638 
L 445.5 84.965 
L 452.5 82.291 
L 459.5 79.618 
L 466.5 76.944 
L 473.5 74.270 
L 480.5 71.597 
L 487.5 68.923 
L 494.5 66.25 
L 501.5 63.576 
L 508.5 60.902 
L 515.5 58.229 
L 522.5 55.555 
L 529.5 52.881 
L 536.5 50.208 
L 543.5 47.534 
L 550.5 44.861 
L 557.5 42.187 
L 564.5 39.513 
L 571.5 36.840 
L 578.5 34.166 
" clip-path="url(#p1865786474)" style="fill: none; stroke: #000000; stroke-width: 1.05; stroke-linejoin: miter"/>
<path d="M 410.5 91.916 
L 417.5 89.413 
L 424.5 86.909 
L 431.5 84.406 
L 438.5 81.902 
L 445.5 79.399 
L 452.5 76.895 
L 459.5 74.392 
L 466.5 71.888 
L 473.5 69.385 
L 480.5 66.881 
L 487.5 64.378 
L 494.5 61.875 
L 501.5 59.371 
L 508.5 56.868 
L 515.5 54.364 
L 522.5 51.861 
L 529.5 49.357 
L 536.5 46.854 
L 543.5 44.350 
L 550.5 41.847 
L 557.5 39.343 
L 564.5 36.840 
L 571.5 34.336 
L 578.5 31.833 
" clip-path="url(#p1865786474)" style="fill: none; stroke: #000000; stroke-width: 1.05; stroke-linejoin: miter"/>
<path d="M 410.5 85.5 
L 417.5 83.166 
L 424.5 80.833 
L 431.5 78.5 
L 438.5 76.166 
L 445.5 73.833 
L 452.5 71.5 
L 459.5 69.166 
L 466.5 66.833 
L 473.5 64.5 
L 480.5 62.166 
L 487.5 59.833 
L 494.5 57.5 
L 501.5 55.166 
L 508.5 52.833 
L 515.5 50.5 
L 522.5 48.166 
L 529.5 45.833 
L 536.5 43.5 
L 543.5 41.166 
L 550.5 38.833 
L 557.5 36.5 
L 564.5 34.166 
L 571.5 31.833 
L 578.5 29.5 
" clip-path="url(#p1865786474)" style="fill: none; stroke: #000000; stroke-width: 1.05; stroke-linejoin: miter"/>
<path d="M 410.5 239.5 
L 410.5 233.083 
L 410.5 226.666 
L 410.5 220.25 
L 410.5 213.833 
L 410.5 207.416 
L 410.5 201 
L 410.5 194.583 
L 410.5 188.166 
L 410.5 181.75 
L 410.5 175.333 
L 410.5 168.916 
L 410.5 162.5 
L 410.5 156.083 
L 410.5 149.666 
L 410.5 143.25 
L 410.5 136.833 
L 410.5 130.416 
L 410.5 124 
L 410.5 117.583 
L 410.5 111.166 
L 410.5 104.75 
L 410.5 98.333 
L 410.5 91.916 
L 410.5 85.5 
" clip-path="url(#p1865786474)" style="fill: none; stroke: #000000; stroke-width: 1.05; stroke-linejoin: miter"/>
<path d="M 417.5 233.083 
L 417.5 226.836 
L 417.5 220.590 
L 417.5 214.343 
L 417.5 208.097 
L 417.5 201.850 
L 417.5 195.604 
L 417.5 189.357 
L 417.5 183.111 
L 417.5 176.864 
L 417.5 170.618 
L 417.5 164.371 
L 417.5 158.125 
L 417.5 151.878 
L 417.5 145.631 
L 417.5 139.385 
L 417.5 133.138 
L 417.5 126.892 
L 417.5 120.645 
L 417.5 114.399 
L 417.5 108.152 
L 417.5 101.906 
L 417.5 95.659 
L 417.5 89.413 
L 417.5 83.166 
" clip-path="url(#p1865786474)" style="fill: none; stroke: #000000; stroke-width: 1.05; stroke-linejoin: miter"/>
<path d="M 424.5 226.666 
L 424.5 220.590 
L 424.5 214.513 
L 424.5 208.437 
L 424.5 202.361 
L 424.5 196.284 
L 424.5 190.208 
L 424.5 184.131 
L 424.5 178.055 
L 424.5 171.979 
L 424.5 165.902 
L 424.5 159.826 
L 424.5 153.75 
L 424.5 147.673 
L 424.5 141.597 
L 424.5 135.520 
L 424.5 129.444 
L 424.5 123.368 
L 424.5 117.291 
L 424.5 111.215 
L 424.5 105.138 
L 424.5 99.062 
L 424.5 92.986 
L 424.5 86.909 
L 424.5 80.833 
" clip-path="url(#p1865786474)" style="fill: none; stroke: #000000; stroke-width: 1.05; stroke-linejoin: miter"/>
<path d="M 431.5 220.25 
L 431.5 214.343 
L 431.5 208.437 
L 431.5 202.531 
L 431.5 196.625 
L 431.5 190.718 
L 431.5 184.812 
L 431.5 178.906 
L 431.5 173 
L 431.5 167.093 
L 431.5 161.187 
L 431.5 155.281 
L 431.5 149.375 
L 431.5 143.468 
L 431.5 137.562 
L 431.5 131.656 
L 431.5 125.75 
L 431.5 119.843 
L 431.5 113.937 
L 431.5 108.031 
L 431.5 102.125 
L 431.5 96.218 
L 431.5 90.312 
L 431.5 84.406 
L 431.5 78.5 
" clip-path="url(#p1865786474)" style="fill: none; stroke: #000000; stroke-width: 1.05; stroke-linejoin: miter"/>
<path d="M 438.5 213.833 
L 438.5 208.097 
L 438.5 202.361 
L 438.5 196.625 
L 438.5 190.888 
L 438.5 185.152 
L 438.5 179.416 
L 438.5 173.680 
L 438.5 167.944 
L 438.5 162.208 
L 438.5 156.472 
L 438.5 150.736 
L 438.5 145 
L 438.5 139.263 
L 438.5 133.527 
L 438.5 127.791 
L 438.5 122.055 
L 438.5 116.319 
L 438.5 110.583 
L 438.5 104.847 
L 438.5 99.111 
L 438.5 93.375 
L 438.5 87.638 
L 438.5 81.902 
L 438.5 76.166 
" clip-path="url(#p1865786474)" style="fill: none; stroke: #000000; stroke-width: 1.05; stroke-linejoin: miter"/>
<path d="M 445.5 207.416 
L 445.5 201.850 
L 445.5 196.284 
L 445.5 190.718 
L 445.5 185.152 
L 445.5 179.586 
L 445.5 174.020 
L 445.5 168.454 
L 445.5 162.888 
L 445.5 157.322 
L 445.5 151.756 
L 445.5 146.190 
L 445.5 140.625 
L 445.5 135.059 
L 445.5 129.493 
L 445.5 123.927 
L 445.5 118.361 
L 445.5 112.795 
L 445.5 107.229 
L 445.5 101.663 
L 445.5 96.097 
L 445.5 90.531 
L 445.5 84.965 
L 445.5 79.399 
L 445.5 73.833 
" clip-path="url(#p1865786474)" style="fill: none; stroke: #000000; stroke-width: 1.05; stroke-linejoin: miter"/>
<path d="M 452.5 201 
L 452.5 195.604 
L 452.5 190.208 
L 452.5 184.812 
L 452.5 179.416 
L 452.5 174.020 
L 452.5 168.625 
L 452.5 163.229 
L 452.5 157.833 
L 452.5 152.437 
L 452.5 147.041 
L 452.5 141.645 
L 452.5 136.25 
L 452.5 130.854 
L 452.5 125.458 
L 452.5 120.062 
L 452.5 114.666 
L 452.5 109.270 
L 452.5 103.875 
L 452.5 98.479 
L 452.5 93.083 
L 452.5 87.687 
L 452.5 82.291 
L 452.5 76.895 
L 452.5 71.5 
" clip-path="url(#p1865786474)" style="fill: none; stroke: #000000; stroke-width: 1.05; stroke-linejoin: miter"/>
<path d="M 459.5 194.583 
L 459.5 189.357 
L 459.5 184.131 
L 459.5 178.906 
L 459.5 173.680 
L 459.5 168.454 
L 459.5 163.229 
L 459.5 158.003 
L 459.5 152.777 
L 459.5 147.552 
L 459.5 142.326 
L 459.5 137.100 
L 459.5 131.875 
L 459.5 126.649 
L 459.5 121.423 
L 459.5 116.197 
L 459.5 110.972 
L 459.5 105.746 
L 459.5 100.520 
L 459.5 95.295 
L 459.5 90.069 
L 459.5 84.843 
L 459.5 79.618 
L 459.5 74.392 
L 459.5 69.166 
" clip-path="url(#p1865786474)" style="fill: none; stroke: #000000; stroke-width: 1.05; stroke-linejoin: miter"/>
<path d="M 466.5 188.166 
L 466.5 183.111 
L 466.5 178.055 
L 466.5 173 
L 466.5 167.944 
L 466.5 162.888 
L 466.5 157.833 
L 466.5 152.777 
L 466.5 147.722 
L 466.5 142.666 
L 466.5 137.611 
L 466.5 132.555 
L 466.5 127.5 
L 466.5 122.444 
L 466.5 117.388 
L 466.5 112.333 
L 466.5 107.277 
L 466.5 102.222 
L 466.5 97.166 
L 466.5 92.111 
L 466.5 87.055 
L 466.5 82 
L 466.5 76.944 
L 466.5 71.888 
L 466.5 66.833 
" clip-path="url(#p1865786474)" style="fill: none; stroke: #000000; stroke-width: 1.05; stroke-linejoin: miter"/>
<path d="M 473.5 181.75 
L 473.5 176.864 
L 473.5 171.979 
L 473.5 167.093 
L 473.5 162.208 
L 473.5 157.322 
L 473.5 152.437 
L 473.5 147.552 
L 473.5 142.666 
L 473.5 137.781 
L 473.5 132.895 
L 473.5 128.010 
L 473.5 123.125 
L 473.5 118.239 
L 473.5 113.354 
L 473.5 108.468 
L 473.5 103.583 
L 473.5 98.697 
L 473.5 93.812 
L 473.5 88.927 
L 473.5 84.041 
L 473.5 79.156 
L 473.5 74.270 
L 473.5 69.385 
L 473.5 64.5 
" clip-path="url(#p1865786474)" style="fill: none; stroke: #000000; stroke-width: 1.05; stroke-linejoin: miter"/>
<path d="M 480.5 175.333 
L 480.5 170.618 
L 480.5 165.902 
L 480.5 161.187 
L 480.5 156.472 
L 480.5 151.756 
L 480.5 147.041 
L 480.5 142.326 
L 480.5 137.611 
L 480.5 132.895 
L 480.5 128.180 
L 480.5 123.465 
L 480.5 118.75 
L 480.5 114.034 
L 480.5 109.319 
L 480.5 104.604 
L 480.5 99.888 
L 480.5 95.173 
L 480.5 90.458 
L 480.5 85.743 
L 480.5 81.027 
L 480.5 76.312 
L 480.5 71.597 
L 480.5 66.881 
L 480.5 62.166 
" clip-path="url(#p1865786474)" style="fill: none; stroke: #000000; stroke-width: 1.05; stroke-linejoin: miter"/>
<path d="M 487.5 168.916 
L 487.5 164.371 
L 487.5 159.826 
L 487.5 155.281 
L 487.5 150.736 
L 487.5 146.190 
L 487.5 141.645 
L 487.5 137.100 
L 487.5 132.555 
L 487.5 128.010 
L 487.5 123.465 
L 487.5 118.920 
L 487.5 114.375 
L 487.5 109.829 
L 487.5 105.284 
L 487.5 100.739 
L 487.5 96.194 
L 487.5 91.649 
L 487.5 87.104 
L 487.5 82.559 
L 487.5 78.013 
L 487.5 73.468 
L 487.5 68.923 
L 487.5 64.378 
L 487.5 59.833 
" clip-path="url(#p1865786474)" style="fill: none; stroke: #000000; stroke-width: 1.05; stroke-linejoin: miter"/>
<path d="M 494.5 162.5 
L 494.5 158.125 
L 494.5 153.75 
L 494.5 149.375 
L 494.5 145 
L 494.5 140.625 
L 494.5 136.25 
L 494.5 131.875 
L 494.5 127.5 
L 494.5 123.125 
L 494.5 118.75 
L 494.5 114.375 
L 494.5 110 
L 494.5 105.625 
L 494.5 101.25 
L 494.5 96.875 
L 494.5 92.5 
L 494.5 88.125 
L 494.5 83.75 
L 494.5 79.375 
L 494.5 75 
L 494.5 70.625 
L 494.5 66.25 
L 494.5 61.875 
L 494.5 57.5 
" clip-path="url(#p1865786474)" style="fill: none; stroke: #000000; stroke-width: 1.05; stroke-linejoin: miter"/>
<path d="M 501.5 156.083 
L 501.5 151.878 
L 501.5 147.673 
L 501.5 143.468 
L 501.5 139.263 
L 501.5 135.059 
L 501.5 130.854 
L 501.5 126.649 
L 501.5 122.444 
L 501.5 118.239 
L 501.5 114.034 
L 501.5 109.829 
L 501.5 105.625 
L 501.5 101.420 
L 501.5 97.215 
L 501.5 93.010 
L 501.5 88.805 
L 501.5 84.600 
L 501.5 80.395 
L 501.5 76.190 
L 501.5 71.986 
L 501.5 67.781 
L 501.5 63.576 
L 501.5 59.371 
L 501.5 55.166 
" clip-path="url(#p1865786474)" style="fill: none; stroke: #000000; stroke-width: 1.05; stroke-linejoin: miter"/>
<path d="M 508.5 149.666 
L 508.5 145.631 
L 508.5 141.597 
L 508.5 137.562 
L 508.5 133.527 
L 508.5 129.493 
L 508.5 125.458 
L 508.5 121.423 
L 508.5 117.388 
L 508.5 113.354 
L 508.5 109.319 
L 508.5 105.284 
L 508.5 101.25 
L 508.5 97.215 
L 508.5 93.180 
L 508.5 89.145 
L 508.5 85.111 
L 508.5 81.076 
L 508.5 77.041 
L 508.5 73.006 
L 508.5 68.972 
L 508.5 64.937 
L 508.5 60.902 
L 508.5 56.868 
L 508.5 52.833 
" clip-path="url(#p1865786474)" style="fill: none; stroke: #000000; stroke-width: 1.05; stroke-linejoin: miter"/>
<path d="M 515.5 143.25 
L 515.5 139.385 
L 515.5 135.520 
L 515.5 131.656 
L 515.5 127.791 
L 515.5 123.927 
L 515.5 120.062 
L 515.5 116.197 
L 515.5 112.333 
L 515.5 108.468 
L 515.5 104.604 
L 515.5 100.739 
L 515.5 96.875 
L 515.5 93.010 
L 515.5 89.145 
L 515.5 85.281 
L 515.5 81.416 
L 515.5 77.552 
L 515.5 73.687 
L 515.5 69.822 
L 515.5 65.958 
L 515.5 62.093 
L 515.5 58.229 
L 515.5 54.364 
L 515.5 50.5 
" clip-path="url(#p1865786474)" style="fill: none; stroke: #000000; stroke-width: 1.05; stroke-linejoin: miter"/>
<path d="M 522.5 136.833 
L 522.5 133.138 
L 522.5 129.444 
L 522.5 125.75 
L 522.5 122.055 
L 522.5 118.361 
L 522.5 114.666 
L 522.5 110.972 
L 522.5 107.277 
L 522.5 103.583 
L 522.5 99.888 
L 522.5 96.194 
L 522.5 92.5 
L 522.5 88.805 
L 522.5 85.111 
L 522.5 81.416 
L 522.5 77.722 
L 522.5 74.027 
L 522.5 70.333 
L 522.5 66.638 
L 522.5 62.944 
L 522.5 59.25 
L 522.5 55.555 
L 522.5 51.861 
L 522.5 48.166 
" clip-path="url(#p1865786474)" style="fill: none; stroke: #000000; stroke-width: 1.05; stroke-linejoin: miter"/>
<path d="M 529.5 130.416 
L 529.5 126.892 
L 529.5 123.368 
L 529.5 119.843 
L 529.5 116.319 
L 529.5 112.795 
L 529.5 109.270 
L 529.5 105.746 
L 529.5 102.222 
L 529.5 98.697 
L 529.5 95.173 
L 529.5 91.649 
L 529.5 88.125 
L 529.5 84.600 
L 529.5 81.076 
L 529.5 77.552 
L 529.5 74.027 
L 529.5 70.503 
L 529.5 66.979 
L 529.5 63.454 
L 529.5 59.930 
L 529.5 56.406 
L 529.5 52.881 
L 529.5 49.357 
L 529.5 45.833 
" clip-path="url(#p1865786474)" style="fill: none; stroke: #000000; stroke-width: 1.05; stroke-linejoin: miter"/>
<path d="M 536.5 124 
L 536.5 120.645 
L 536.5 117.291 
L 536.5 113.937 
L 536.5 110.583 
L 536.5 107.229 
L 536.5 103.875 
L 536.5 100.520 
L 536.5 97.166 
L 536.5 93.812 
L 536.5 90.458 
L 536.5 87.104 
L 536.5 83.75 
L 536.5 80.395 
L 536.5 77.041 
L 536.5 73.687 
L 536.5 70.333 
L 536.5 66.979 
L 536.5 63.625 
L 536.5 60.270 
L 536.5 56.916 
L 536.5 53.562 
L 536.5 50.208 
L 536.5 46.854 
L 536.5 43.5 
" clip-path="url(#p1865786474)" style="fill: none; stroke: #000000; stroke-width: 1.05; stroke-linejoin: miter"/>
<path d="M 543.5 117.583 
L 543.5 114.399 
L 543.5 111.215 
L 543.5 108.031 
L 543.5 104.847 
L 543.5 101.663 
L 543.5 98.479 
L 543.5 95.295 
L 543.5 92.111 
L 543.5 88.927 
L 543.5 85.743 
L 543.5 82.559 
L 543.5 79.375 
L 543.5 76.190 
L 543.5 73.006 
L 543.5 69.822 
L 543.5 66.638 
L 543.5 63.454 
L 543.5 60.270 
L 543.5 57.086 
L 543.5 53.902 
L 543.5 50.718 
L 543.5 47.534 
L 543.5 44.350 
L 543.5 41.166 
" clip-path="url(#p1865786474)" style="fill: none; stroke: #000000; stroke-width: 1.05; stroke-linejoin: miter"/>
<path d="M 550.5 111.166 
L 550.5 108.152 
L 550.5 105.138 
L 550.5 102.125 
L 550.5 99.111 
L 550.5 96.097 
L 550.5 93.083 
L 550.5 90.069 
L 550.5 87.055 
L 550.5 84.041 
L 550.5 81.027 
L 550.5 78.013 
L 550.5 75 
L 550.5 71.986 
L 550.5 68.972 
L 550.5 65.958 
L 550.5 62.944 
L 550.5 59.930 
L 550.5 56.916 
L 550.5 53.902 
L 550.5 50.888 
L 550.5 47.875 
L 550.5 44.861 
L 550.5 41.847 
L 550.5 38.833 
" clip-path="url(#p1865786474)" style="fill: none; stroke: #000000; stroke-width: 1.05; stroke-linejoin: miter"/>
<path d="M 557.5 104.75 
L 557.5 101.906 
L 557.5 99.062 
L 557.5 96.218 
L 557.5 93.375 
L 557.5 90.531 
L 557.5 87.687 
L 557.5 84.843 
L 557.5 82 
L 557.5 79.156 
L 557.5 76.312 
L 557.5 73.468 
L 557.5 70.625 
L 557.5 67.781 
L 557.5 64.937 
L 557.5 62.093 
L 557.5 59.25 
L 557.5 56.406 
L 557.5 53.562 
L 557.5 50.718 
L 557.5 47.875 
L 557.5 45.031 
L 557.5 42.187 
L 557.5 39.343 
L 557.5 36.5 
" clip-path="url(#p1865786474)" style="fill: none; stroke: #000000; stroke-width: 1.05; stroke-linejoin: miter"/>
<path d="M 564.5 98.333 
L 564.5 95.659 
L 564.5 92.986 
L 564.5 90.312 
L 564.5 87.638 
L 564.5 84.965 
L 564.5 82.291 
L 564.5 79.618 
L 564.5 76.944 
L 564.5 74.270 
L 564.5 71.597 
L 564.5 68.923 
L 564.5 66.25 
L 564.5 63.576 
L 564.5 60.902 
L 564.5 58.229 
L 564.5 55.555 
L 564.5 52.881 
L 564.5 50.208 
L 564.5 47.534 
L 564.5 44.861 
L 564.5 42.187 
L 564.5 39.513 
L 564.5 36.840 
L 564.5 34.166 
" clip-path="url(#p1865786474)" style="fill: none; stroke: #000000; stroke-width: 1.05; stroke-linejoin: miter"/>
<path d="M 571.5 91.916 
L 571.5 89.413 
L 571.5 86.909 
L 571.5 84.406 
L 571.5 81.902 
L 571.5 79.399 
L 571.5 76.895 
L 571.5 74.392 
L 571.5 71.888 
L 571.5 69.385 
L 571.5 66.881 
L 571.5 64.378 
L 571.5 61.875 
L 571.5 59.371 
L 571.5 56.868 
L 571.5 54.364 
L 571.5 51.861 
L 571.5 49.357 
L 571.5 46.854 
L 571.5 44.350 
L 571.5 41.847 
L 571.5 39.343 
L 571.5 36.840 
L 571.5 34.336 
L 571.5 31.833 
" clip-path="url(#p1865786474)" style="fill: none; stroke: #000000; stroke-width: 1.05; stroke-linejoin: miter"/>
<path d="M 578.5 85.5 
L 578.5 83.166 
L 578.5 80.833 
L 578.5 78.5 
L 578.5 76.166 
L 578.5 73.833 
L 578.5 71.5 
L 578.5 69.166 
L 578.5 66.833 
L 578.5 64.5 
L 578.5 62.166 
L 578.5 59.833 
L 578.5 57.5 
L 578.5 55.166 
L 578.5 52.833 
L 578.5 50.5 
L 578.5 48.166 
L 578.5 45.833 
L 578.5 43.5 
L 578.5 41.166 
L 578.5 38.833 
L 578.5 36.5 
L 578.5 34.166 
L 578.5 31.833 
L 578.5 29.5 
" clip-path="url(#p1865786474)" style="fill: none; stroke: #000000; stroke-width: 1.05; stroke-linejoin: miter"/>
</g>
<g id="text_23">
<text style="font-size: 13.89px; font-family: 'DejaVu Sans', sans-serif; text-anchor: middle" x="495.9" y="21.2" transform="rotate(0 495.9 21.2)">fbar = true</text>
</g>
<g id="line2d_43">
<path d="M 412.9 104.5 
L 414.5 102.2 
L 417.7 100.7 
L 419.3 105.3 
L 422.3 110.4 
L 423.7 117.6 
L 423.3 122.7 
L 421.3 128.8 
L 418.2 133 
L 415.5 138 
L 413.4 141.8 
" clip-path="url(#p1865786474)" style="fill: none; stroke: #ffffff; stroke-width: 2; stroke-linecap: square"/>
</g>
</g>
<g id="axes_4">
<g id="patch_28">
<path d="M 593.5 239.5 
L 603.5 239.5 
L 603.5 29.5 
L 593.5 29.5 
z
" style="fill: #ffffff"/>
</g>
<g id="patch_29">
<path d="M 593.5 225.5 
L 603.5 225.5 
L 603.5 211.5 
L 593.5 211.5 
z
" clip-path="url(#p2b530fde07)" style="fill: #f2f7f1"/>
</g>
<g id="patch_30">
<path d="M 593.5 211.5 
L 603.5 211.5 
L 603.5 197.5 
L 593.5 197.5 
z
" clip-path="url(#p2b530fde07)" style="fill: #e8f2e5"/>
</g>
<g id="patch_31">
<path d="M 593.5 197.5 
L 603.5 197.5 
L 603.5 183.5 
L 593.5 183.5 
z
" clip-path="url(#p2b530fde07)" style="fill: #d9ecd4"/>
</g>
<g id="patch_32">
<path d="M 593.5 183.5 
L 603.5 183.5 
L 603.5 169.5 
L 593.5 169.5 
z
" clip-path="url(#p2b530fde07)" style="fill: #c7e7c1"/>
</g>
<g id="patch_33">
<path d="M 593.5 169.5 
L 603.5 169.5 
L 603.5 155.5 
L 593.5 155.5 
z
" clip-path="url(#p2b530fde07)" style="fill: #b0dfaa"/>
</g>
<g id="patch_34">
<path d="M 593.5 155.5 
L 603.5 155.5 
L 603.5 141.5 
L 593.5 141.5 
z
" clip-path="url(#p2b530fde07)" style="fill: #99d595"/>
</g>
<g id="patch_35">
<path d="M 593.5 141.5 
L 603.5 141.5 
L 603.5 127.5 
L 593.5 127.5 
z
" clip-path="url(#p2b530fde07)" style="fill: #80ca80"/>
</g>
<g id="patch_36">
<path d="M 593.5 127.5 
L 603.5 127.5 
L 603.5 113.5 
L 593.5 113.5 
z
" clip-path="url(#p2b530fde07)" style="fill: #65bd6f"/>
</g>
<g id="patch_37">
<path d="M 593.5 113.5 
L 603.5 113.5 
L 603.5 99.5 
L 593.5 99.5 
z
" clip-path="url(#p2b530fde07)" style="fill: #48ae60"/>
</g>
<g id="patch_38">
<path d="M 593.5 99.5 
L 603.5 99.5 
L 603.5 85.5 
L 593.5 85.5 
z
" clip-path="url(#p2b530fde07)" style="fill: #339c52"/>
</g>
<g id="patch_39">
<path d="M 593.5 85.5 
L 603.5 85.5 
L 603.5 71.5 
L 593.5 71.5 
z
" clip-path="url(#p2b530fde07)" style="fill: #228a44"/>
</g>
<g id="patch_40">
<path d="M 593.5 71.5 
L 603.5 71.5 
L 603.5 57.5 
L 593.5 57.5 
z
" clip-path="url(#p2b530fde07)" style="fill: #0e7936"/>
</g>
<g id="patch_41">
<path d="M 593.5 57.5 
L 603.5 57.5 
L 603.5 43.5 
L 593.5 43.5 
z
" clip-path="url(#p2b530fde07)" style="fill: #006729"/>
</g>
<g id="patch_42">
<path d="M 593.5 43.5 
L 603.5 43.5 
L 603.5 29.5 
L 593.5 29.5 
z
" clip-path="url(#p2b530fde07)" style="fill: #005020"/>
</g>
<g id="patch_43">
<path d="M 593.5 239.5 
L 603.5 239.5 
L 603.5 224.3 
L 593.5 224.3 
z
" clip-path="url(#p2b530fde07)" style="fill: #ffffff"/>
</g>
<g id="matplotlib.axis_7"/>
<g id="matplotlib.axis_8">
<g id="ytick_27">
<g id="line2d_44">
<g>
<path d="M 0 0  L 5.833 0  " transform="translate(603.5 239.5)" style="stroke: #000000; stroke-width: 1.333"/>
</g>
</g>
<g id="text_24">
<text style="font-size: 13.89px; font-family: 'DejaVu Sans', sans-serif; text-anchor: start" x="615.166" y="244.777" transform="rotate(0 615.166 244.777)">-0.03</text>
</g>
</g>
<g id="ytick_28">
<g id="line2d_45">
<g>
<path d="M 0 0  L 5.833 0  " transform="translate(603.5 225.5)" style="stroke: #000000; stroke-width: 1.333"/>
</g>
</g>
<g id="text_25">
<text style="font-size: 13.89px; font-family: 'DejaVu Sans', sans-serif; text-anchor: start" x="615.166" y="230.777" transform="rotate(0 615.166 230.777)">0</text>
</g>
</g>
<g id="ytick_29">
<g id="line2d_46">
<g>
<path d="M 0 0  L 5.833 0  " transform="translate(603.5 211.5)" style="stroke: #000000; stroke-width: 1.333"/>
</g>
</g>
<g id="text_26">
<text style="font-size: 13.89px; font-family: 'DejaVu Sans', sans-serif; text-anchor: start" x="615.166" y="216.777" transform="rotate(0 615.166 216.777)">0.5</text>
</g>
</g>
<g id="ytick_30">
<g id="line2d_47">
<g>
<path d="M 0 0  L 5.833 0  " transform="translate(603.5 197.5)" style="stroke: #000000; stroke-width: 1.333"/>
</g>
</g>
<g id="text_27">
<text style="font-size: 13.89px; font-family: 'DejaVu Sans', sans-serif; text-anchor: start" x="615.166" y="202.777" transform="rotate(0 615.166 202.777)">1</text>
</g>
</g>
<g id="ytick_31">
<g id="line2d_48">
<g>
<path d="M 0 0  L 5.833 0  " transform="translate(603.5 183.5)" style="stroke: #000000; stroke-width: 1.333"/>
</g>
</g>
<g id="text_28">
<text style="font-size: 13.89px; font-family: 'DejaVu Sans', sans-serif; text-anchor: start" x="615.166" y="188.777" transform="rotate(0 615.166 188.777)">1.5</text>
</g>
</g>
<g id="ytick_32">
<g id="line2d_49">
<g>
<path d="M 0 0  L 5.833 0  " transform="translate(603.5 169.5)" style="stroke: #000000; stroke-width: 1.333"/>
</g>
</g>
<g id="text_29">
<text style="font-size: 13.89px; font-family: 'DejaVu Sans', sans-serif; text-anchor: start" x="615.166" y="174.777" transform="rotate(0 615.166 174.777)">2</text>
</g>
</g>
<g id="ytick_33">
<g id="line2d_50">
<g>
<path d="M 0 0  L 5.833 0  " transform="translate(603.5 155.5)" style="stroke: #000000; stroke-width: 1.333"/>
</g>
</g>
<g id="text_30">
<text style="font-size: 13.89px; font-family: 'DejaVu Sans', sans-serif; text-anchor: start" x="615.166" y="160.777" transform="rotate(0 615.166 160.777)">2.5</text>
</g>
</g>
<g id="ytick_34">
<g id="line2d_51">
<g>
<path d="M 0 0  L 5.833 0  " transform="translate(603.5 141.5)" style="stroke: #000000; stroke-width: 1.333"/>
</g>
</g>
<g id="text_31">
<text style="font-size: 13.89px; font-family: 'DejaVu Sans', sans-serif; text-anchor: start" x="615.166" y="146.777" transform="rotate(0 615.166 146.777)">3</text>
</g>
</g>
<g id="ytick_35">
<g id="line2d_52">
<g>
<path d="M 0 0  L 5.833 0  " transform="translate(603.5 127.5)" style="stroke: #000000; stroke-width: 1.333"/>
</g>
</g>
<g id="text_32">
<text style="font-size: 13.89px; font-family: 'DejaVu Sans', sans-serif; text-anchor: start" x="615.166" y="132.777" transform="rotate(0 615.166 132.777)">3.5</text>
</g>
</g>
<g id="ytick_36">
<g id="line2d_53">
<g>
<path d="M 0 0  L 5.833 0  " transform="translate(603.5 113.5)" style="stroke: #000000; stroke-width: 1.333"/>
</g>
</g>
<g id="text_33">
<text style="font-size: 13.89px; font-family: 'DejaVu Sans', sans-serif; text-anchor: start" x="615.166" y="118.777" transform="rotate(0 615.166 118.777)">4</text>
</g>
</g>
<g id="ytick_37">
<g id="line2d_54">
<g>
<path d="M 0 0  L 5.833 0  " transform="translate(603.5 99.5)" style="stroke: #000000; stroke-width: 1.333"/>
</g>
</g>
<g id="text_34">
<text style="font-size: 13.89px; font-family: 'DejaVu Sans', sans-serif; text-anchor: start" x="615.166" y="104.777" transform="rotate(0 615.166 104.777)">4.5</text>
</g>
</g>
<g id="ytick_38">
<g id="line2d_55">
<g>
<path d="M 0 0  L 5.833 0  " transform="translate(603.5 85.5)" style="stroke: #000000; stroke-width: 1.333"/>
</g>
</g>
<g id="text_35">
<text style="font-size: 13.89px; font-family: 'DejaVu Sans', sans-serif; text-anchor: start" x="615.166" y="90.777" transform="rotate(0 615.166 90.777)">5</text>
</g>
</g>
<g id="ytick_39">
<g id="line2d_56">
<g>
<path d="M 0 0  L 5.833 0  " transform="translate(603.5 71.5)" style="stroke: #000000; stroke-width: 1.333"/>
</g>
</g>
<g id="text_36">
<text style="font-size: 13.89px; font-family: 'DejaVu Sans', sans-serif; text-anchor: start" x="615.166" y="76.777" transform="rotate(0 615.166 76.777)">5.5</text>
</g>
</g>
<g id="ytick_40">
<g id="line2d_57">
<g>
<path d="M 0 0  L 5.833 0  " transform="translate(603.5 57.5)" style="stroke: #000000; stroke-width: 1.333"/>
</g>
</g>
<g id="text_37">
<text style="font-size: 13.89px; font-family: 'DejaVu Sans', sans-serif; text-anchor: start" x="615.166" y="62.777" transform="rotate(0 615.166 62.777)">6</text>
</g>
</g>
<g id="ytick_41">
<g id="line2d_58">
<g>
<path d="M 0 0  L 5.833 0  " transform="translate(603.5 43.5)" style="stroke: #000000; stroke-width: 1.333"/>
</g>
</g>
<g id="text_38">
<text style="font-size: 13.89px; font-family: 'DejaVu Sans', sans-serif; text-anchor: start" x="615.166" y="48.777" transform="rotate(0 615.166 48.777)">6.5</text>
</g>
</g>
<g id="ytick_42">
<g id="line2d_59">
<g>
<path d="M 0 0  L 5.833 0  " transform="translate(603.5 29.5)" style="stroke: #000000; stroke-width: 1.333"/>
</g>
</g>
<g id="text_39">
<text style="font-size: 13.89px; font-family: 'DejaVu Sans', sans-serif; text-anchor: start" x="615.166" y="34.777" transform="rotate(0 615.166 34.777)">7</text>
</g>
</g>
<g id="text_40">
<g transform="translate(668.327 211.311) rotate(-90)"><text><tspan x="0.000" y="-0.359" style="font-size: 13.89px; font-family: 'DejaVu Sans', sans-serif">displacement</tspan> <tspan x="97.918" y="-0.359" style="font-style: oblique; font-size: 13.89px; font-family: 'DejaVu Sans', sans-serif">u</tspan> <tspan x="106.711" y="1.938" style="font-style: oblique; font-size: 9.723px; font-family: 'DejaVu Sans', sans-serif">y</tspan> <tspan x="117.257" y="-0.359" style="font-size: 13.89px; font-family: 'DejaVu Sans', sans-serif">/ mm</tspan></text></g>
</g>
</g>
<g id="patch_44">
<path d="M 594.5 239.5 
L 602.5 239.5 
L 602.5 226.9 
L 594.5 226.9 
z
" clip-path="url(#p2b530fde07)" style="fill: #f5f5f5"/>
</g>
<g id="line2d_60">
<path d="M 593.5 211.5 
L 603.5 211.5 
" clip-path="url(#p2b530fde07)" style="fill: none; stroke: #000000; stroke-opacity: 0.5"/>
</g>
<g id="line2d_61">
<path d="M 593.5 197.5 
L 603.5 197.5 
" clip-path="url(#p2b530fde07)" style="fill: none; stroke: #000000; stroke-opacity: 0.5"/>
</g>
<g id="line2d_62">
<path d="M 593.5 183.5 
L 603.5 183.5 
" clip-path="url(#p2b530fde07)" style="fill: none; stroke: #000000; stroke-opacity: 0.5"/>
</g>
<g id="line2d_63">
<path d="M 593.5 169.5 
L 603.5 169.5 
" clip-path="url(#p2b530fde07)" style="fill: none; stroke: #000000; stroke-opacity: 0.5"/>
</g>
<g id="line2d_64">
<path d="M 593.5 155.5 
L 603.5 155.5 
" clip-path="url(#p2b530fde07)" style="fill: none; stroke: #000000; stroke-opacity: 0.5"/>
</g>
<g id="line2d_65">
<path d="M 593.5 141.5 
L 603.5 141.5 
" clip-path="url(#p2b530fde07)" style="fill: none; stroke: #000000; stroke-opacity: 0.5"/>
</g>
<g id="line2d_66">
<path d="M 593.5 127.5 
L 603.5 127.5 
" clip-path="url(#p2b530fde07)" style="fill: none; stroke: #000000; stroke-opacity: 0.5"/>
</g>
<g id="line2d_67">
<path d="M 593.5 113.5 
L 603.5 113.5 
" clip-path="url(#p2b530fde07)" style="fill: none; stroke: #000000; stroke-opacity: 0.5"/>
</g>
<g id="line2d_68">
<path d="M 593.5 99.5 
L 603.5 99.5 
" clip-path="url(#p2b530fde07)" style="fill: none; stroke: #000000; stroke-opacity: 0.5"/>
</g>
<g id="line2d_69">
<path d="M 593.5 85.5 
L 603.5 85.5 
" clip-path="url(#p2b530fde07)" style="fill: none; stroke: #000000; stroke-opacity: 0.5"/>
</g>
<g id="line2d_70">
<path d="M 593.5 71.5 
L 603.5 71.5 
" clip-path="url(#p2b530fde07)" style="fill: none; stroke: #000000; stroke-opacity: 0.5"/>
</g>
<g id="line2d_71">
<path d="M 593.5 57.5 
L 603.5 57.5 
" clip-path="url(#p2b530fde07)" style="fill: none; stroke: #000000; stroke-opacity: 0.5"/>
</g>
<g id="line2d_72">
<path d="M 593.5 43.5 
L 603.5 43.5 
" clip-path="url(#p2b530fde07)" style="fill: none; stroke: #000000; stroke-opacity: 0.5"/>
</g>
<g id="patch_45">
<path d="M 593.5 239.5 
L 593.5 29.5 
" style="fill: none; stroke: #000000; stroke-width: 1.333; stroke-linejoin: miter; stroke-linecap: square"/>
</g>
<g id="patch_46">
<path d="M 603.5 239.5 
L 603.5 29.5 
" style="fill: none; stroke: #000000; stroke-width: 1.333; stroke-linejoin: miter; stroke-linecap: square"/>
</g>
<g id="patch_47">
<path d="M 593.5 239.5 
L 603.5 239.5 
" style="fill: none; stroke: #000000; stroke-width: 1.333; stroke-linejoin: miter; stroke-linecap: square"/>
</g>
<g id="patch_48">
<path d="M 593.5 29.5 
L 603.5 29.5 
" style="fill: none; stroke: #000000; stroke-width: 1.333; stroke-linejoin: miter; stroke-linecap: square"/>
</g>
</g>
<g id="axes_5">
<g id="patch_49">
<path d="M 72.5 491.5 
L 240.5 491.5 
L 240.5 281.5 
L 72.5 281.5 
z
" style="fill: #ffffff"/>
</g>
<g id="TriContourSet_3">
<path d="M 72.5 338.181 
L 73.154 337.281 
L 72.5 337.5 
z
" clip-path="url(#p4f3d39bcc7)" style="fill: #455cce; stroke: #455cce; stroke-width: 0.6"/>
<path d="M 73.154 337.281 
L 72.5 338.181 
L 72.5 339.170 
L 74.103 336.965 
z
" clip-path="url(#p4f3d39bcc7)" style="fill: #6180e9; stroke: #6180e9; stroke-width: 0.6"/>
<path d="M 74.103 336.965 
L 72.5 339.170 
L 72.5 340.158 
L 75.053 336.648 
z
" clip-path="url(#p4f3d39bcc7)" style="fill: #84a7fc; stroke: #84a7fc; stroke-width: 0.6"/>
<path d="M 75.053 336.648 
L 72.5 340.158 
L 72.5 341.147 
L 76.003 336.332 
z
" clip-path="url(#p4f3d39bcc7)" style="fill: #a7c5fe; stroke: #a7c5fe; stroke-width: 0.6"/>
<path d="M 76.003 336.332 
L 72.5 341.147 
L 72.5 342.136 
L 76.952 336.015 
z
" clip-path="url(#p4f3d39bcc7)" style="fill: #c9d7f0; stroke: #c9d7f0; stroke-width: 0.6"/>
<path d="M 76.952 336.015 
L 72.5 342.136 
L 72.5 343.124 
L 77.902 335.699 
z
" clip-path="url(#p4f3d39bcc7)" style="fill: #e4d9d2; stroke: #e4d9d2; stroke-width: 0.6"/>
<path d="M 85.714 333.095 
L 86.211 333.186 
L 86.5 333.083 
L 93.108 330.970 
L 93.5 330.830 
L 100.386 328.299 
L 100.5 328.259 
L 102.285 327.571 
L 100.5 328.166 
L 93.5 330.5 
L 86.5 332.833 
z
M 77.902 335.699 
L 72.5 343.124 
L 72.5 343.916 
L 72.5 346.325 
L 73.131 343.690 
L 74.081 341.940 
L 78.851 335.382 
z
" clip-path="url(#p4f3d39bcc7)" style="fill: #f5c1a9; stroke: #f5c1a9; stroke-width: 0.6"/>
<path d="M 102.285 327.571 
L 100.5 328.259 
L 100.386 328.299 
L 93.5 330.830 
L 93.108 330.970 
L 86.5 333.083 
L 86.211 333.186 
L 85.714 333.095 
L 79.5 335.166 
L 78.851 335.382 
L 74.081 341.940 
L 73.131 343.690 
L 72.5 346.325 
L 72.5 350.333 
L 72.5 356.75 
L 72.5 361.860 
L 73.705 356.260 
L 73.561 355.371 
L 74.805 349.452 
L 75.288 346.780 
L 76.299 342.557 
L 79.5 336.659 
L 82.872 337.279 
L 86.5 335.982 
L 89.820 334.920 
L 93.5 333.604 
L 96.960 332.332 
L 100.5 331.067 
L 104.194 329.643 
L 107.5 328.490 
L 111.437 326.955 
L 114.5 325.847 
L 118.758 324.194 
L 121.5 323.217 
L 126.070 321.457 
L 128.5 320.597 
L 133.380 318.737 
L 135.5 317.997 
L 140.680 316.042 
L 142.5 315.419 
L 147.971 313.372 
L 149.5 312.856 
L 155.267 310.711 
L 156.5 310.293 
L 162.591 308.037 
L 163.5 307.719 
L 169.964 305.333 
L 170.5 305.137 
L 177.385 302.604 
L 177.5 302.561 
L 179.312 301.895 
L 177.5 302.5 
L 170.5 304.833 
L 163.5 307.166 
L 156.5 309.5 
L 149.5 311.833 
L 142.5 314.166 
L 135.5 316.5 
L 128.5 318.833 
L 121.5 321.166 
L 114.5 323.5 
L 107.5 325.833 
z
" clip-path="url(#p4f3d39bcc7)" style="fill: #f59f80; stroke: #f59f80; stroke-width: 0.6"/>
<path d="M 111.173 456.049 
L 111.162 453.236 
L 107.5 456.475 
L 105.679 456.967 
L 100.5 461.594 
L 99.078 462.564 
L 93.5 467.597 
L 92.080 468.842 
L 86.5 473.999 
L 84.256 476.594 
L 79.5 481.233 
L 78.194 486.280 
L 79.5 485.083 
L 86.5 478.666 
L 93.5 472.25 
L 100.5 465.833 
L 107.5 459.416 
z
M 179.312 301.895 
L 177.5 302.561 
L 177.385 302.604 
L 170.5 305.137 
L 169.964 305.333 
L 163.5 307.719 
L 162.591 308.037 
L 156.5 310.293 
L 155.267 310.711 
L 149.5 312.856 
L 147.971 313.372 
L 142.5 315.419 
L 140.680 316.042 
L 135.5 317.997 
L 133.380 318.737 
L 128.5 320.597 
L 126.070 321.457 
L 121.5 323.217 
L 118.758 324.194 
L 114.5 325.847 
L 111.437 326.955 
L 107.5 328.490 
L 104.194 329.643 
L 100.5 331.067 
L 96.960 332.332 
L 93.5 333.604 
L 89.820 334.920 
L 86.5 335.982 
L 82.872 337.279 
L 79.5 336.659 
L 76.299 342.557 
L 75.288 346.780 
L 74.805 349.452 
L 73.561 355.371 
L 73.705 356.260 
L 72.5 361.860 
L 72.5 363.166 
L 72.5 369.583 
L 72.5 376 
L 72.5 382.416 
L 72.5 388.833 
L 72.5 395.25 
L 72.5 397.038 
L 76.593 395.655 
L 76.515 399.352 
L 77.936 399.966 
L 77.932 404.819 
L 78.386 405.568 
L 78.413 410.804 
L 78.628 411.468 
L 78.670 416.909 
L 78.789 417.484 
L 78.840 423.062 
L 78.909 423.556 
L 78.967 429.236 
L 79.007 429.659 
L 79.070 435.421 
L 79.092 435.778 
L 79.160 441.611 
L 79.170 441.905 
L 79.244 447.801 
L 79.246 448.031 
L 79.328 453.987 
L 79.325 454.148 
L 79.421 460.161 
L 79.417 460.239 
L 79.5 464.388 
L 85.449 455.221 
L 86.5 453.441 
L 92.685 443.366 
L 93.5 441.851 
L 98.413 433.025 
L 100.5 428.599 
L 102.803 423.960 
L 104.742 419.140 
L 106.151 415.863 
L 107.5 411.762 
L 108.700 408.484 
L 109.081 407.000 
L 110.615 401.658 
L 111.139 398.499 
L 111.722 395.449 
L 111.942 391.882 
L 112.090 389.756 
L 111.869 386.526 
L 111.669 384.554 
L 111.079 382.149 
L 110.218 379.926 
L 109.577 378.693 
L 107.5 376.692 
L 107.264 376.250 
L 107.166 376.111 
L 104.892 373.873 
L 102.852 372.813 
L 101.634 372.555 
L 100.5 372.362 
L 98.401 371.146 
L 96.293 370.437 
L 94.771 370.161 
L 93.5 370.248 
L 90.993 369.313 
L 88.139 368.505 
L 87.145 368.438 
L 86.5 368.461 
L 83.125 367.761 
L 79.5 366.738 
L 79.468 366.441 
L 79.477 366.409 
L 78.905 360.953 
L 79.052 360.345 
L 78.430 355.321 
L 78.661 354.246 
L 77.921 349.709 
L 78.252 348.136 
L 79.458 341.466 
L 79.468 341.424 
L 79.5 341.366 
L 79.533 341.372 
L 86.5 338.880 
L 86.532 338.870 
L 93.5 336.378 
L 93.534 336.365 
L 100.5 333.874 
L 100.536 333.860 
L 103.887 332.691 
L 107.024 331.958 
L 107.5 332.131 
L 114.387 329.025 
L 114.5 328.999 
L 121.043 326.907 
L 121.5 326.749 
L 127.261 325.255 
L 128.5 324.900 
L 132.867 324.228 
L 135.5 323.740 
L 137.961 323.672 
L 142.5 322.377 
L 143.734 322.323 
L 145.122 322.595 
L 147.068 323.490 
L 149.5 323.451 
L 151.530 323.374 
L 155.363 323.086 
L 156.106 323.040 
L 156.5 323.001 
L 161.770 321.565 
L 163.5 321.042 
L 169.734 317.708 
L 170.5 317.284 
L 171.636 316.475 
L 177.5 312.378 
L 181.877 308.557 
L 184.5 306.599 
L 187.361 305.021 
L 191.5 303.056 
L 196.548 300.534 
L 198.5 299.525 
L 204.948 296.812 
L 205.5 296.568 
L 212.358 293.962 
L 212.5 293.905 
L 219.468 291.368 
L 219.5 291.356 
L 226.494 288.844 
L 226.5 288.842 
L 233.499 286.337 
L 233.5 286.337 
L 233.503 286.335 
L 240.5 283.700 
L 240.5 281.5 
L 233.5 283.833 
L 226.5 286.166 
L 219.5 288.5 
L 212.5 290.833 
L 205.5 293.166 
L 198.5 295.5 
L 191.5 297.833 
L 184.5 300.166 
z
M 233.5 304.730 
L 233.539 303.840 
L 233.543 303.823 
L 233.529 301.342 
L 233.532 301.330 
L 233.503 298.852 
L 233.504 298.850 
L 233.5 298.851 
L 233.407 298.898 
L 233.389 298.948 
L 232.624 301.798 
L 232.489 302.252 
L 232.102 304.598 
L 232.553 304.721 
z
" clip-path="url(#p4f3d39bcc7)" style="fill: #e67259; stroke: #e67259; stroke-width: 0.6"/>
<path d="M 78.194 486.280 
L 79.5 481.233 
L 84.256 476.594 
L 86.5 473.999 
L 92.080 468.842 
L 93.5 467.597 
L 99.078 462.564 
L 100.5 461.594 
L 105.679 456.967 
L 107.5 456.475 
L 111.162 453.236 
L 111.173 456.049 
L 114.5 453 
L 121.5 446.583 
L 128.5 440.166 
L 135.5 433.75 
L 142.5 427.333 
L 149.5 420.916 
L 156.5 414.5 
L 163.5 408.083 
L 170.5 401.666 
L 177.5 395.25 
L 182.908 390.292 
L 184.5 388.782 
L 184.596 388.696 
L 191.5 382.223 
L 191.883 381.880 
L 198.5 375.746 
L 199.032 375.269 
L 205.5 369.341 
L 206.042 368.851 
L 212.5 363.006 
L 212.889 362.651 
L 219.314 356.919 
L 219.5 356.75 
L 226.5 350.333 
L 233.5 343.916 
L 240.5 337.5 
L 240.5 335.166 
L 240.5 332.833 
L 240.5 330.5 
L 240.5 328.166 
L 240.5 325.833 
L 240.5 323.5 
L 240.5 321.166 
L 240.5 318.833 
L 240.5 316.5 
L 240.5 314.166 
L 240.5 311.833 
L 240.5 309.5 
L 240.5 307.166 
L 240.5 304.833 
L 240.5 302.5 
L 240.5 300.166 
L 240.5 297.833 
L 240.5 295.5 
L 240.5 293.166 
L 240.5 290.833 
L 240.5 288.5 
L 240.5 286.166 
L 240.5 283.833 
L 240.5 283.700 
L 233.503 286.335 
L 233.5 286.337 
L 233.499 286.337 
L 226.5 288.842 
L 226.494 288.844 
L 219.5 291.356 
L 219.468 291.368 
L 212.5 293.905 
L 212.358 293.962 
L 205.5 296.568 
L 204.948 296.812 
L 198.5 299.525 
L 196.548 300.534 
L 191.5 303.056 
L 187.361 305.021 
L 184.5 306.599 
L 181.877 308.557 
L 177.5 312.378 
L 171.636 316.475 
L 170.5 317.284 
L 169.734 317.708 
L 163.5 321.042 
L 161.770 321.565 
L 156.5 323.001 
L 156.106 323.040 
L 155.363 323.086 
L 151.530 323.374 
L 149.5 323.451 
L 147.068 323.490 
L 145.122 322.595 
L 143.734 322.323 
L 142.5 322.377 
L 137.961 323.672 
L 135.5 323.740 
L 132.867 324.228 
L 128.5 324.900 
L 127.261 325.255 
L 121.5 326.749 
L 121.043 326.907 
L 114.5 328.999 
L 114.387 329.025 
L 107.5 332.131 
L 107.024 331.958 
L 103.887 332.691 
L 100.536 333.860 
L 100.5 333.874 
L 93.534 336.365 
L 93.5 336.378 
L 86.532 338.870 
L 86.5 338.880 
L 79.533 341.372 
L 79.5 341.366 
L 79.468 341.424 
L 79.458 341.466 
L 78.252 348.136 
L 77.921 349.709 
L 78.661 354.246 
L 78.430 355.321 
L 79.052 360.345 
L 78.905 360.953 
L 79.477 366.409 
L 79.468 366.441 
L 79.5 366.738 
L 83.125 367.761 
L 86.5 368.461 
L 87.145 368.438 
L 88.139 368.505 
L 90.993 369.313 
L 93.5 370.248 
L 94.771 370.161 
L 96.293 370.437 
L 98.401 371.146 
L 100.5 372.362 
L 101.634 372.555 
L 102.852 372.813 
L 104.892 373.873 
L 107.166 376.111 
L 107.264 376.250 
L 107.5 376.692 
L 109.577 378.693 
L 110.218 379.926 
L 111.079 382.149 
L 111.669 384.554 
L 111.869 386.526 
L 112.090 389.756 
L 111.942 391.882 
L 111.722 395.449 
L 111.139 398.499 
L 110.615 401.658 
L 109.081 407.000 
L 108.700 408.484 
L 107.5 411.762 
L 106.151 415.863 
L 104.742 419.140 
L 102.803 423.960 
L 100.5 428.599 
L 98.413 433.025 
L 93.5 441.851 
L 92.685 443.366 
L 86.5 453.441 
L 85.449 455.221 
L 79.5 464.388 
L 79.417 460.239 
L 79.421 460.161 
L 79.325 454.148 
L 79.328 453.987 
L 79.246 448.031 
L 79.244 447.801 
L 79.170 441.905 
L 79.160 441.611 
L 79.092 435.778 
L 79.070 435.421 
L 79.007 429.659 
L 78.967 429.236 
L 78.909 423.556 
L 78.840 423.062 
L 78.789 417.484 
L 78.670 416.909 
L 78.628 411.468 
L 78.413 410.804 
L 78.386 405.568 
L 77.932 404.819 
L 77.936 399.966 
L 76.515 399.352 
L 76.593 395.655 
L 72.5 397.038 
L 72.5 401.666 
L 72.5 408.083 
L 72.5 414.5 
L 72.5 420.916 
L 72.5 427.333 
L 72.5 433.75 
L 72.5 440.166 
L 72.5 446.583 
L 72.5 447.918 
L 72.668 452.720 
L 72.670 452.868 
L 72.729 459.029 
L 72.732 459.231 
L 72.628 465.612 
L 72.630 465.726 
L 72.5 468.640 
L 72.5 472.25 
L 72.5 478.666 
L 72.5 485.083 
L 72.5 491.5 
z
M 232.553 304.721 
L 232.102 304.598 
L 232.489 302.252 
L 232.624 301.798 
L 233.389 298.948 
L 233.407 298.898 
L 233.5 298.851 
L 233.504 298.850 
L 233.503 298.852 
L 233.532 301.330 
L 233.529 301.342 
L 233.543 303.823 
L 233.539 303.840 
L 233.5 304.730 
z
" clip-path="url(#p4f3d39bcc7)" style="fill: #ca3b37; stroke: #ca3b37; stroke-width: 0.6"/>
<path d="M 219.314 356.919 
L 212.889 362.651 
L 212.5 363.006 
L 206.042 368.851 
L 205.5 369.341 
L 199.032 375.269 
L 198.5 375.746 
L 191.883 381.880 
L 191.5 382.223 
L 184.596 388.696 
L 184.5 388.782 
L 182.908 390.292 
L 184.5 388.833 
L 191.5 382.416 
L 198.5 376 
L 205.5 369.583 
L 212.5 363.166 
z
M 72.5 468.640 
L 72.630 465.726 
L 72.628 465.612 
L 72.732 459.231 
L 72.729 459.029 
L 72.670 452.868 
L 72.668 452.720 
L 72.5 447.918 
L 72.5 453 
L 72.5 459.416 
L 72.5 465.833 
z
" clip-path="url(#p4f3d39bcc7)" style="fill: #b50927; stroke: #b50927; stroke-width: 0.6"/>
</g>
<g id="matplotlib.axis_9">
<g id="xtick_7">
<g id="line2d_73">
<g>
<path d="M 0 0  L 0 5.833  " transform="translate(72.5 491.5)" style="stroke: #000000; stroke-width: 1.333"/>
</g>
</g>
<g id="text_41">
<text style="font-size: 13.33px; font-family: 'DejaVu Sans', sans-serif; text-anchor: middle" x="72.5" y="513.862" transform="rotate(0 72.5 513.862)">0.00</text>
</g>
</g>
<g id="xtick_8">
<g id="line2d_74">
<g>
<path d="M 0 0  L 0 5.833  " transform="translate(142.5 491.5)" style="stroke: #000000; stroke-width: 1.333"/>
</g>
</g>
<g id="text_42">
<text style="font-size: 13.33px; font-family: 'DejaVu Sans', sans-serif; text-anchor: middle" x="142.5" y="513.862" transform="rotate(0 142.5 513.862)">0.02</text>
</g>
</g>
<g id="xtick_9">
<g id="line2d_75">
<g>
<path d="M 0 0  L 0 5.833  " transform="translate(212.5 491.5)" style="stroke: #000000; stroke-width: 1.333"/>
</g>
</g>
<g id="text_43">
<text style="font-size: 13.33px; font-family: 'DejaVu Sans', sans-serif; text-anchor: middle" x="212.5" y="513.862" transform="rotate(0 212.5 513.862)">0.04</text>
</g>
</g>
<g id="text_44">
<text style="font-size: 13.89px; font-family: 'DejaVu Sans', sans-serif; text-anchor: middle" x="156.5" y="534.988" transform="rotate(0 156.5 534.988)">x / m</text>
</g>
</g>
<g id="matplotlib.axis_10">
<g id="ytick_43">
<g id="line2d_76">
<g>
<path d="M 0 0  L -5.833 0  " transform="translate(72.5 491.5)" style="stroke: #000000; stroke-width: 1.333"/>
</g>
</g>
<g id="text_45">
<text style="font-size: 13.33px; font-family: 'DejaVu Sans', sans-serif; text-anchor: end" x="60.833" y="496.564" transform="rotate(0 60.833 496.564)">0.00</text>
</g>
</g>
<g id="ytick_44">
<g id="line2d_77">
<g>
<path d="M 0 0  L -5.833 0  " transform="translate(72.5 456.5)" style="stroke: #000000; stroke-width: 1.333"/>
</g>
</g>
<g id="text_46">
<text style="font-size: 13.33px; font-family: 'DejaVu Sans', sans-serif; text-anchor: end" x="60.833" y="461.564" transform="rotate(0 60.833 461.564)">0.01</text>
</g>
</g>
<g id="ytick_45">
<g id="line2d_78">
<g>
<path d="M 0 0  L -5.833 0  " transform="translate(72.5 421.5)" style="stroke: #000000; stroke-width: 1.333"/>
</g>
</g>
<g id="text_47">
<text style="font-size: 13.33px; font-family: 'DejaVu Sans', sans-serif; text-anchor: end" x="60.833" y="426.564" transform="rotate(0 60.833 426.564)">0.02</text>
</g>
</g>
<g id="ytick_46">
<g id="line2d_79">
<g>
<path d="M 0 0  L -5.833 0  " transform="translate(72.5 386.5)" style="stroke: #000000; stroke-width: 1.333"/>
</g>
</g>
<g id="text_48">
<text style="font-size: 13.33px; font-family: 'DejaVu Sans', sans-serif; text-anchor: end" x="60.833" y="391.564" transform="rotate(0 60.833 391.564)">0.03</text>
</g>
</g>
<g id="ytick_47">
<g id="line2d_80">
<g>
<path d="M 0 0  L -5.833 0  " transform="translate(72.5 351.5)" style="stroke: #000000; stroke-width: 1.333"/>
</g>
</g>
<g id="text_49">
<text style="font-size: 13.33px; font-family: 'DejaVu Sans', sans-serif; text-anchor: end" x="60.833" y="356.564" transform="rotate(0 60.833 356.564)">0.04</text>
</g>
</g>
<g id="ytick_48">
<g id="line2d_81">
<g>
<path d="M 0 0  L -5.833 0  " transform="translate(72.5 316.5)" style="stroke: #000000; stroke-width: 1.333"/>
</g>
</g>
<g id="text_50">
<text style="font-size: 13.33px; font-family: 'DejaVu Sans', sans-serif; text-anchor: end" x="60.833" y="321.564" transform="rotate(0 60.833 321.564)">0.05</text>
</g>
</g>
<g id="ytick_49">
<g id="line2d_82">
<g>
<path d="M 0 0  L -5.833 0  " transform="translate(72.5 281.5)" style="stroke: #000000; stroke-width: 1.333"/>
</g>
</g>
<g id="text_51">
<text style="font-size: 13.33px; font-family: 'DejaVu Sans', sans-serif; text-anchor: end" x="60.833" y="286.564" transform="rotate(0 60.833 286.564)">0.06</text>
</g>
</g>
<g id="text_52">
<text style="font-size: 13.89px; font-family: 'DejaVu Sans', sans-serif; text-anchor: middle" x="19.564" y="387.5" transform="rotate(-90 19.564 387.5)">y / m</text>
</g>
</g>
<g id="patch_50">
<path d="M 72.5 491.5 
L 72.5 281.5 
" style="fill: none; stroke: #000000; stroke-width: 1.333; stroke-linejoin: miter; stroke-linecap: square"/>
</g>
<g id="patch_51">
<path d="M 240.5 491.5 
L 240.5 281.5 
" style="fill: none; stroke: #000000; stroke-width: 1.333; stroke-linejoin: miter; stroke-linecap: square"/>
</g>
<g id="patch_52">
<path d="M 72.5 491.5 
L 240.5 491.5 
" style="fill: none; stroke: #000000; stroke-width: 1.333; stroke-linejoin: miter; stroke-linecap: square"/>
</g>
<g id="patch_53">
<path d="M 72.5 281.5 
L 240.5 281.5 
" style="fill: none; stroke: #000000; stroke-width: 1.333; stroke-linejoin: miter; stroke-linecap: square"/>
</g>
<g id="LineCollection_3">
<path d="M 72.5 491.5 
L 79.5 485.083 
L 86.5 478.666 
L 93.5 472.25 
L 100.5 465.833 
L 107.5 459.416 
L 114.5 453 
L 121.5 446.583 
L 128.5 440.166 
L 135.5 433.75 
L 142.5 427.333 
L 149.5 420.916 
L 156.5 414.5 
L 163.5 408.083 
L 170.5 401.666 
L 177.5 395.25 
L 184.5 388.833 
L 191.5 382.416 
L 198.5 376 
L 205.5 369.583 
L 212.5 363.166 
L 219.5 356.75 
L 226.5 350.333 
L 233.5 343.916 
L 240.5 337.5 
" clip-path="url(#p4f3d39bcc7)" style="fill: none; stroke: #000000; stroke-width: 1.05; stroke-linejoin: miter"/>
<path d="M 72.5 485.083 
L 79.5 478.836 
L 86.5 472.590 
L 93.5 466.343 
L 100.5 460.097 
L 107.5 453.850 
L 114.5 447.604 
L 121.5 441.357 
L 128.5 435.111 
L 135.5 428.864 
L 142.5 422.618 
L 149.5 416.371 
L 156.5 410.125 
L 163.5 403.878 
L 170.5 397.631 
L 177.5 391.385 
L 184.5 385.138 
L 191.5 378.892 
L 198.5 372.645 
L 205.5 366.399 
L 212.5 360.152 
L 219.5 353.906 
L 226.5 347.659 
L 233.5 341.413 
L 240.5 335.166 
" clip-path="url(#p4f3d39bcc7)" style="fill: none; stroke: #000000; stroke-width: 1.05; stroke-linejoin: miter"/>
<path d="M 72.5 478.666 
L 79.5 472.590 
L 86.5 466.513 
L 93.5 460.437 
L 100.5 454.361 
L 107.5 448.284 
L 114.5 442.208 
L 121.5 436.131 
L 128.5 430.055 
L 135.5 423.979 
L 142.5 417.902 
L 149.5 411.826 
L 156.5 405.75 
L 163.5 399.673 
L 170.5 393.597 
L 177.5 387.520 
L 184.5 381.444 
L 191.5 375.368 
L 198.5 369.291 
L 205.5 363.215 
L 212.5 357.138 
L 219.5 351.062 
L 226.5 344.986 
L 233.5 338.909 
L 240.5 332.833 
" clip-path="url(#p4f3d39bcc7)" style="fill: none; stroke: #000000; stroke-width: 1.05; stroke-linejoin: miter"/>
<path d="M 72.5 472.25 
L 79.5 466.343 
L 86.5 460.437 
L 93.5 454.531 
L 100.5 448.625 
L 107.5 442.718 
L 114.5 436.812 
L 121.5 430.906 
L 128.5 425 
L 135.5 419.093 
L 142.5 413.187 
L 149.5 407.281 
L 156.5 401.375 
L 163.5 395.468 
L 170.5 389.562 
L 177.5 383.656 
L 184.5 377.75 
L 191.5 371.843 
L 198.5 365.937 
L 205.5 360.031 
L 212.5 354.125 
L 219.5 348.218 
L 226.5 342.312 
L 233.5 336.406 
L 240.5 330.5 
" clip-path="url(#p4f3d39bcc7)" style="fill: none; stroke: #000000; stroke-width: 1.05; stroke-linejoin: miter"/>
<path d="M 72.5 465.833 
L 79.5 460.097 
L 86.5 454.361 
L 93.5 448.625 
L 100.5 442.888 
L 107.5 437.152 
L 114.5 431.416 
L 121.5 425.680 
L 128.5 419.944 
L 135.5 414.208 
L 142.5 408.472 
L 149.5 402.736 
L 156.5 397 
L 163.5 391.263 
L 170.5 385.527 
L 177.5 379.791 
L 184.5 374.055 
L 191.5 368.319 
L 198.5 362.583 
L 205.5 356.847 
L 212.5 351.111 
L 219.5 345.375 
L 226.5 339.638 
L 233.5 333.902 
L 240.5 328.166 
" clip-path="url(#p4f3d39bcc7)" style="fill: none; stroke: #000000; stroke-width: 1.05; stroke-linejoin: miter"/>
<path d="M 72.5 459.416 
L 79.5 453.850 
L 86.5 448.284 
L 93.5 442.718 
L 100.5 437.152 
L 107.5 431.586 
L 114.5 426.020 
L 121.5 420.454 
L 128.5 414.888 
L 135.5 409.322 
L 142.5 403.756 
L 149.5 398.190 
L 156.5 392.625 
L 163.5 387.059 
L 170.5 381.493 
L 177.5 375.927 
L 184.5 370.361 
L 191.5 364.795 
L 198.5 359.229 
L 205.5 353.663 
L 212.5 348.097 
L 219.5 342.531 
L 226.5 336.965 
L 233.5 331.399 
L 240.5 325.833 
" clip-path="url(#p4f3d39bcc7)" style="fill: none; stroke: #000000; stroke-width: 1.05; stroke-linejoin: miter"/>
<path d="M 72.5 453 
L 79.5 447.604 
L 86.5 442.208 
L 93.5 436.812 
L 100.5 431.416 
L 107.5 426.020 
L 114.5 420.625 
L 121.5 415.229 
L 128.5 409.833 
L 135.5 404.437 
L 142.5 399.041 
L 149.5 393.645 
L 156.5 388.25 
L 163.5 382.854 
L 170.5 377.458 
L 177.5 372.062 
L 184.5 366.666 
L 191.5 361.270 
L 198.5 355.875 
L 205.5 350.479 
L 212.5 345.083 
L 219.5 339.687 
L 226.5 334.291 
L 233.5 328.895 
L 240.5 323.5 
" clip-path="url(#p4f3d39bcc7)" style="fill: none; stroke: #000000; stroke-width: 1.05; stroke-linejoin: miter"/>
<path d="M 72.5 446.583 
L 79.5 441.357 
L 86.5 436.131 
L 93.5 430.906 
L 100.5 425.680 
L 107.5 420.454 
L 114.5 415.229 
L 121.5 410.003 
L 128.5 404.777 
L 135.5 399.552 
L 142.5 394.326 
L 149.5 389.100 
L 156.5 383.875 
L 163.5 378.649 
L 170.5 373.423 
L 177.5 368.197 
L 184.5 362.972 
L 191.5 357.746 
L 198.5 352.520 
L 205.5 347.295 
L 212.5 342.069 
L 219.5 336.843 
L 226.5 331.618 
L 233.5 326.392 
L 240.5 321.166 
" clip-path="url(#p4f3d39bcc7)" style="fill: none; stroke: #000000; stroke-width: 1.05; stroke-linejoin: miter"/>
<path d="M 72.5 440.166 
L 79.5 435.111 
L 86.5 430.055 
L 93.5 425 
L 100.5 419.944 
L 107.5 414.888 
L 114.5 409.833 
L 121.5 404.777 
L 128.5 399.722 
L 135.5 394.666 
L 142.5 389.611 
L 149.5 384.555 
L 156.5 379.5 
L 163.5 374.444 
L 170.5 369.388 
L 177.5 364.333 
L 184.5 359.277 
L 191.5 354.222 
L 198.5 349.166 
L 205.5 344.111 
L 212.5 339.055 
L 219.5 334 
L 226.5 328.944 
L 233.5 323.888 
L 240.5 318.833 
" clip-path="url(#p4f3d39bcc7)" style="fill: none; stroke: #000000; stroke-width: 1.05; stroke-linejoin: miter"/>
<path d="M 72.5 433.75 
L 79.5 428.864 
L 86.5 423.979 
L 93.5 419.093 
L 100.5 414.208 
L 107.5 409.322 
L 114.5 404.437 
L 121.5 399.552 
L 128.5 394.666 
L 135.5 389.781 
L 142.5 384.895 
L 149.5 380.010 
L 156.5 375.125 
L 163.5 370.239 
L 170.5 365.354 
L 177.5 360.468 
L 184.5 355.583 
L 191.5 350.697 
L 198.5 345.812 
L 205.5 340.927 
L 212.5 336.041 
L 219.5 331.156 
L 226.5 326.270 
L 233.5 321.385 
L 240.5 316.5 
" clip-path="url(#p4f3d39bcc7)" style="fill: none; stroke: #000000; stroke-width: 1.05; stroke-linejoin: miter"/>
<path d="M 72.5 427.333 
L 79.5 422.618 
L 86.5 417.902 
L 93.5 413.187 
L 100.5 408.472 
L 107.5 403.756 
L 114.5 399.041 
L 121.5 394.326 
L 128.5 389.611 
L 135.5 384.895 
L 142.5 380.180 
L 149.5 375.465 
L 156.5 370.75 
L 163.5 366.034 
L 170.5 361.319 
L 177.5 356.604 
L 184.5 351.888 
L 191.5 347.173 
L 198.5 342.458 
L 205.5 337.743 
L 212.5 333.027 
L 219.5 328.312 
L 226.5 323.597 
L 233.5 318.881 
L 240.5 314.166 
" clip-path="url(#p4f3d39bcc7)" style="fill: none; stroke: #000000; stroke-width: 1.05; stroke-linejoin: miter"/>
<path d="M 72.5 420.916 
L 79.5 416.371 
L 86.5 411.826 
L 93.5 407.281 
L 100.5 402.736 
L 107.5 398.190 
L 114.5 393.645 
L 121.5 389.100 
L 128.5 384.555 
L 135.5 380.010 
L 142.5 375.465 
L 149.5 370.920 
L 156.5 366.375 
L 163.5 361.829 
L 170.5 357.284 
L 177.5 352.739 
L 184.5 348.194 
L 191.5 343.649 
L 198.5 339.104 
L 205.5 334.559 
L 212.5 330.013 
L 219.5 325.468 
L 226.5 320.923 
L 233.5 316.378 
L 240.5 311.833 
" clip-path="url(#p4f3d39bcc7)" style="fill: none; stroke: #000000; stroke-width: 1.05; stroke-linejoin: miter"/>
<path d="M 72.5 414.5 
L 79.5 410.125 
L 86.5 405.75 
L 93.5 401.375 
L 100.5 397 
L 107.5 392.625 
L 114.5 388.25 
L 121.5 383.875 
L 128.5 379.5 
L 135.5 375.125 
L 142.5 370.75 
L 149.5 366.375 
L 156.5 362 
L 163.5 357.625 
L 170.5 353.25 
L 177.5 348.875 
L 184.5 344.5 
L 191.5 340.125 
L 198.5 335.75 
L 205.5 331.375 
L 212.5 327 
L 219.5 322.625 
L 226.5 318.25 
L 233.5 313.875 
L 240.5 309.5 
" clip-path="url(#p4f3d39bcc7)" style="fill: none; stroke: #000000; stroke-width: 1.05; stroke-linejoin: miter"/>
<path d="M 72.5 408.083 
L 79.5 403.878 
L 86.5 399.673 
L 93.5 395.468 
L 100.5 391.263 
L 107.5 387.059 
L 114.5 382.854 
L 121.5 378.649 
L 128.5 374.444 
L 135.5 370.239 
L 142.5 366.034 
L 149.5 361.829 
L 156.5 357.625 
L 163.5 353.420 
L 170.5 349.215 
L 177.5 345.010 
L 184.5 340.805 
L 191.5 336.600 
L 198.5 332.395 
L 205.5 328.190 
L 212.5 323.986 
L 219.5 319.781 
L 226.5 315.576 
L 233.5 311.371 
L 240.5 307.166 
" clip-path="url(#p4f3d39bcc7)" style="fill: none; stroke: #000000; stroke-width: 1.05; stroke-linejoin: miter"/>
<path d="M 72.5 401.666 
L 79.5 397.631 
L 86.5 393.597 
L 93.5 389.562 
L 100.5 385.527 
L 107.5 381.493 
L 114.5 377.458 
L 121.5 373.423 
L 128.5 369.388 
L 135.5 365.354 
L 142.5 361.319 
L 149.5 357.284 
L 156.5 353.25 
L 163.5 349.215 
L 170.5 345.180 
L 177.5 341.145 
L 184.5 337.111 
L 191.5 333.076 
L 198.5 329.041 
L 205.5 325.006 
L 212.5 320.972 
L 219.5 316.937 
L 226.5 312.902 
L 233.5 308.868 
L 240.5 304.833 
" clip-path="url(#p4f3d39bcc7)" style="fill: none; stroke: #000000; stroke-width: 1.05; stroke-linejoin: miter"/>
<path d="M 72.5 395.25 
L 79.5 391.385 
L 86.5 387.520 
L 93.5 383.656 
L 100.5 379.791 
L 107.5 375.927 
L 114.5 372.062 
L 121.5 368.197 
L 128.5 364.333 
L 135.5 360.468 
L 142.5 356.604 
L 149.5 352.739 
L 156.5 348.875 
L 163.5 345.010 
L 170.5 341.145 
L 177.5 337.281 
L 184.5 333.416 
L 191.5 329.552 
L 198.5 325.687 
L 205.5 321.822 
L 212.5 317.958 
L 219.5 314.093 
L 226.5 310.229 
L 233.5 306.364 
L 240.5 302.5 
" clip-path="url(#p4f3d39bcc7)" style="fill: none; stroke: #000000; stroke-width: 1.05; stroke-linejoin: miter"/>
<path d="M 72.5 388.833 
L 79.5 385.138 
L 86.5 381.444 
L 93.5 377.75 
L 100.5 374.055 
L 107.5 370.361 
L 114.5 366.666 
L 121.5 362.972 
L 128.5 359.277 
L 135.5 355.583 
L 142.5 351.888 
L 149.5 348.194 
L 156.5 344.5 
L 163.5 340.805 
L 170.5 337.111 
L 177.5 333.416 
L 184.5 329.722 
L 191.5 326.027 
L 198.5 322.333 
L 205.5 318.638 
L 212.5 314.944 
L 219.5 311.25 
L 226.5 307.555 
L 233.5 303.861 
L 240.5 300.166 
" clip-path="url(#p4f3d39bcc7)" style="fill: none; stroke: #000000; stroke-width: 1.05; stroke-linejoin: miter"/>
<path d="M 72.5 382.416 
L 79.5 378.892 
L 86.5 375.368 
L 93.5 371.843 
L 100.5 368.319 
L 107.5 364.795 
L 114.5 361.270 
L 121.5 357.746 
L 128.5 354.222 
L 135.5 350.697 
L 142.5 347.173 
L 149.5 343.649 
L 156.5 340.125 
L 163.5 336.600 
L 170.5 333.076 
L 177.5 329.552 
L 184.5 326.027 
L 191.5 322.503 
L 198.5 318.979 
L 205.5 315.454 
L 212.5 311.930 
L 219.5 308.406 
L 226.5 304.881 
L 233.5 301.357 
L 240.5 297.833 
" clip-path="url(#p4f3d39bcc7)" style="fill: none; stroke: #000000; stroke-width: 1.05; stroke-linejoin: miter"/>
<path d="M 72.5 376 
L 79.5 372.645 
L 86.5 369.291 
L 93.5 365.937 
L 100.5 362.583 
L 107.5 359.229 
L 114.5 355.875 
L 121.5 352.520 
L 128.5 349.166 
L 135.5 345.812 
L 142.5 342.458 
L 149.5 339.104 
L 156.5 335.75 
L 163.5 332.395 
L 170.5 329.041 
L 177.5 325.687 
L 184.5 322.333 
L 191.5 318.979 
L 198.5 315.625 
L 205.5 312.270 
L 212.5 308.916 
L 219.5 305.562 
L 226.5 302.208 
L 233.5 298.854 
L 240.5 295.5 
" clip-path="url(#p4f3d39bcc7)" style="fill: none; stroke: #000000; stroke-width: 1.05; stroke-linejoin: miter"/>
<path d="M 72.5 369.583 
L 79.5 366.399 
L 86.5 363.215 
L 93.5 360.031 
L 100.5 356.847 
L 107.5 353.663 
L 114.5 350.479 
L 121.5 347.295 
L 128.5 344.111 
L 135.5 340.927 
L 142.5 337.743 
L 149.5 334.559 
L 156.5 331.375 
L 163.5 328.190 
L 170.5 325.006 
L 177.5 321.822 
L 184.5 318.638 
L 191.5 315.454 
L 198.5 312.270 
L 205.5 309.086 
L 212.5 305.902 
L 219.5 302.718 
L 226.5 299.534 
L 233.5 296.350 
L 240.5 293.166 
" clip-path="url(#p4f3d39bcc7)" style="fill: none; stroke: #000000; stroke-width: 1.05; stroke-linejoin: miter"/>
<path d="M 72.5 363.166 
L 79.5 360.152 
L 86.5 357.138 
L 93.5 354.125 
L 100.5 351.111 
L 107.5 348.097 
L 114.5 345.083 
L 121.5 342.069 
L 128.5 339.055 
L 135.5 336.041 
L 142.5 333.027 
L 149.5 330.013 
L 156.5 327 
L 163.5 323.986 
L 170.5 320.972 
L 177.5 317.958 
L 184.5 314.944 
L 191.5 311.930 
L 198.5 308.916 
L 205.5 305.902 
L 212.5 302.888 
L 219.5 299.875 
L 226.5 296.861 
L 233.5 293.847 
L 240.5 290.833 
" clip-path="url(#p4f3d39bcc7)" style="fill: none; stroke: #000000; stroke-width: 1.05; stroke-linejoin: miter"/>
<path d="M 72.5 356.75 
L 79.5 353.906 
L 86.5 351.062 
L 93.5 348.218 
L 100.5 345.375 
L 107.5 342.531 
L 114.5 339.687 
L 121.5 336.843 
L 128.5 334 
L 135.5 331.156 
L 142.5 328.312 
L 149.5 325.468 
L 156.5 322.625 
L 163.5 319.781 
L 170.5 316.937 
L 177.5 314.093 
L 184.5 311.25 
L 191.5 308.406 
L 198.5 305.562 
L 205.5 302.718 
L 212.5 299.875 
L 219.5 297.031 
L 226.5 294.187 
L 233.5 291.343 
L 240.5 288.5 
" clip-path="url(#p4f3d39bcc7)" style="fill: none; stroke: #000000; stroke-width: 1.05; stroke-linejoin: miter"/>
<path d="M 72.5 350.333 
L 79.5 347.659 
L 86.5 344.986 
L 93.5 342.312 
L 100.5 339.638 
L 107.5 336.965 
L 114.5 334.291 
L 121.5 331.618 
L 128.5 328.944 
L 135.5 326.270 
L 142.5 323.597 
L 149.5 320.923 
L 156.5 318.25 
L 163.5 315.576 
L 170.5 312.902 
L 177.5 310.229 
L 184.5 307.555 
L 191.5 304.881 
L 198.5 302.208 
L 205.5 299.534 
L 212.5 296.861 
L 219.5 294.187 
L 226.5 291.513 
L 233.5 288.840 
L 240.5 286.166 
" clip-path="url(#p4f3d39bcc7)" style="fill: none; stroke: #000000; stroke-width: 1.05; stroke-linejoin: miter"/>
<path d="M 72.5 343.916 
L 79.5 341.413 
L 86.5 338.909 
L 93.5 336.406 
L 100.5 333.902 
L 107.5 331.399 
L 114.5 328.895 
L 121.5 326.392 
L 128.5 323.888 
L 135.5 321.385 
L 142.5 318.881 
L 149.5 316.378 
L 156.5 313.875 
L 163.5 311.371 
L 170.5 308.868 
L 177.5 306.364 
L 184.5 303.861 
L 191.5 301.357 
L 198.5 298.854 
L 205.5 296.350 
L 212.5 293.847 
L 219.5 291.343 
L 226.5 288.840 
L 233.5 286.336 
L 240.5 283.833 
" clip-path="url(#p4f3d39bcc7)" style="fill: none; stroke: #000000; stroke-width: 1.05; stroke-linejoin: miter"/>
<path d="M 72.5 337.5 
L 79.5 335.166 
L 86.5 332.833 
L 93.5 330.5 
L 100.5 328.166 
L 107.5 325.833 
L 114.5 323.5 
L 121.5 321.166 
L 128.5 318.833 
L 135.5 316.5 
L 142.5 314.166 
L 149.5 311.833 
L 156.5 309.5 
L 163.5 307.166 
L 170.5 304.833 
L 177.5 302.5 
L 184.5 300.166 
L 191.5 297.833 
L 198.5 295.5 
L 205.5 293.166 
L 212.5 290.833 
L 219.5 288.5 
L 226.5 286.166 
L 233.5 283.833 
L 240.5 281.5 
" clip-path="url(#p4f3d39bcc7)" style="fill: none; stroke: #000000; stroke-width: 1.05; stroke-linejoin: miter"/>
<path d="M 72.5 491.5 
L 72.5 485.083 
L 72.5 478.666 
L 72.5 472.25 
L 72.5 465.833 
L 72.5 459.416 
L 72.5 453 
L 72.5 446.583 
L 72.5 440.166 
L 72.5 433.75 
L 72.5 427.333 
L 72.5 420.916 
L 72.5 414.5 
L 72.5 408.083 
L 72.5 401.666 
L 72.5 395.25 
L 72.5 388.833 
L 72.5 382.416 
L 72.5 376 
L 72.5 369.583 
L 72.5 363.166 
L 72.5 356.75 
L 72.5 350.333 
L 72.5 343.916 
L 72.5 337.5 
" clip-path="url(#p4f3d39bcc7)" style="fill: none; stroke: #000000; stroke-width: 1.05; stroke-linejoin: miter"/>
<path d="M 79.5 485.083 
L 79.5 478.836 
L 79.5 472.590 
L 79.5 466.343 
L 79.5 460.097 
L 79.5 453.850 
L 79.5 447.604 
L 79.5 441.357 
L 79.5 435.111 
L 79.5 428.864 
L 79.5 422.618 
L 79.5 416.371 
L 79.5 410.125 
L 79.5 403.878 
L 79.5 397.631 
L 79.5 391.385 
L 79.5 385.138 
L 79.5 378.892 
L 79.5 372.645 
L 79.5 366.399 
L 79.5 360.152 
L 79.5 353.906 
L 79.5 347.659 
L 79.5 341.413 
L 79.5 335.166 
" clip-path="url(#p4f3d39bcc7)" style="fill: none; stroke: #000000; stroke-width: 1.05; stroke-linejoin: miter"/>
<path d="M 86.5 478.666 
L 86.5 472.590 
L 86.5 466.513 
L 86.5 460.437 
L 86.5 454.361 
L 86.5 448.284 
L 86.5 442.208 
L 86.5 436.131 
L 86.5 430.055 
L 86.5 423.979 
L 86.5 417.902 
L 86.5 411.826 
L 86.5 405.75 
L 86.5 399.673 
L 86.5 393.597 
L 86.5 387.520 
L 86.5 381.444 
L 86.5 375.368 
L 86.5 369.291 
L 86.5 363.215 
L 86.5 357.138 
L 86.5 351.062 
L 86.5 344.986 
L 86.5 338.909 
L 86.5 332.833 
" clip-path="url(#p4f3d39bcc7)" style="fill: none; stroke: #000000; stroke-width: 1.05; stroke-linejoin: miter"/>
<path d="M 93.5 472.25 
L 93.5 466.343 
L 93.5 460.437 
L 93.5 454.531 
L 93.5 448.625 
L 93.5 442.718 
L 93.5 436.812 
L 93.5 430.906 
L 93.5 425 
L 93.5 419.093 
L 93.5 413.187 
L 93.5 407.281 
L 93.5 401.375 
L 93.5 395.468 
L 93.5 389.562 
L 93.5 383.656 
L 93.5 377.75 
L 93.5 371.843 
L 93.5 365.937 
L 93.5 360.031 
L 93.5 354.125 
L 93.5 348.218 
L 93.5 342.312 
L 93.5 336.406 
L 93.5 330.5 
" clip-path="url(#p4f3d39bcc7)" style="fill: none; stroke: #000000; stroke-width: 1.05; stroke-linejoin: miter"/>
<path d="M 100.5 465.833 
L 100.5 460.097 
L 100.5 454.361 
L 100.5 448.625 
L 100.5 442.888 
L 100.5 437.152 
L 100.5 431.416 
L 100.5 425.680 
L 100.5 419.944 
L 100.5 414.208 
L 100.5 408.472 
L 100.5 402.736 
L 100.5 397 
L 100.5 391.263 
L 100.5 385.527 
L 100.5 379.791 
L 100.5 374.055 
L 100.5 368.319 
L 100.5 362.583 
L 100.5 356.847 
L 100.5 351.111 
L 100.5 345.375 
L 100.5 339.638 
L 100.5 333.902 
L 100.5 328.166 
" clip-path="url(#p4f3d39bcc7)" style="fill: none; stroke: #000000; stroke-width: 1.05; stroke-linejoin: miter"/>
<path d="M 107.5 459.416 
L 107.5 453.850 
L 107.5 448.284 
L 107.5 442.718 
L 107.5 437.152 
L 107.5 431.586 
L 107.5 426.020 
L 107.5 420.454 
L 107.5 414.888 
L 107.5 409.322 
L 107.5 403.756 
L 107.5 398.190 
L 107.5 392.625 
L 107.5 387.059 
L 107.5 381.493 
L 107.5 375.927 
L 107.5 370.361 
L 107.5 364.795 
L 107.5 359.229 
L 107.5 353.663 
L 107.5 348.097 
L 107.5 342.531 
L 107.5 336.965 
L 107.5 331.399 
L 107.5 325.833 
" clip-path="url(#p4f3d39bcc7)" style="fill: none; stroke: #000000; stroke-width: 1.05; stroke-linejoin: miter"/>
<path d="M 114.5 453 
L 114.5 447.604 
L 114.5 442.208 
L 114.5 436.812 
L 114.5 431.416 
L 114.5 426.020 
L 114.5 420.625 
L 114.5 415.229 
L 114.5 409.833 
L 114.5 404.437 
L 114.5 399.041 
L 114.5 393.645 
L 114.5 388.25 
L 114.5 382.854 
L 114.5 377.458 
L 114.5 372.062 
L 114.5 366.666 
L 114.5 361.270 
L 114.5 355.875 
L 114.5 350.479 
L 114.5 345.083 
L 114.5 339.687 
L 114.5 334.291 
L 114.5 328.895 
L 114.5 323.5 
" clip-path="url(#p4f3d39bcc7)" style="fill: none; stroke: #000000; stroke-width: 1.05; stroke-linejoin: miter"/>
<path d="M 121.5 446.583 
L 121.5 441.357 
L 121.5 436.131 
L 121.5 430.906 
L 121.5 425.680 
L 121.5 420.454 
L 121.5 415.229 
L 121.5 410.003 
L 121.5 404.777 
L 121.5 399.552 
L 121.5 394.326 
L 121.5 389.100 
L 121.5 383.875 
L 121.5 378.649 
L 121.5 373.423 
L 121.5 368.197 
L 121.5 362.972 
L 121.5 357.746 
L 121.5 352.520 
L 121.5 347.295 
L 121.5 342.069 
L 121.5 336.843 
L 121.5 331.618 
L 121.5 326.392 
L 121.5 321.166 
" clip-path="url(#p4f3d39bcc7)" style="fill: none; stroke: #000000; stroke-width: 1.05; stroke-linejoin: miter"/>
<path d="M 128.5 440.166 
L 128.5 435.111 
L 128.5 430.055 
L 128.5 425 
L 128.5 419.944 
L 128.5 414.888 
L 128.5 409.833 
L 128.5 404.777 
L 128.5 399.722 
L 128.5 394.666 
L 128.5 389.611 
L 128.5 384.555 
L 128.5 379.5 
L 128.5 374.444 
L 128.5 369.388 
L 128.5 364.333 
L 128.5 359.277 
L 128.5 354.222 
L 128.5 349.166 
L 128.5 344.111 
L 128.5 339.055 
L 128.5 334 
L 128.5 328.944 
L 128.5 323.888 
L 128.5 318.833 
" clip-path="url(#p4f3d39bcc7)" style="fill: none; stroke: #000000; stroke-width: 1.05; stroke-linejoin: miter"/>
<path d="M 135.5 433.75 
L 135.5 428.864 
L 135.5 423.979 
L 135.5 419.093 
L 135.5 414.208 
L 135.5 409.322 
L 135.5 404.437 
L 135.5 399.552 
L 135.5 394.666 
L 135.5 389.781 
L 135.5 384.895 
L 135.5 380.010 
L 135.5 375.125 
L 135.5 370.239 
L 135.5 365.354 
L 135.5 360.468 
L 135.5 355.583 
L 135.5 350.697 
L 135.5 345.812 
L 135.5 340.927 
L 135.5 336.041 
L 135.5 331.156 
L 135.5 326.270 
L 135.5 321.385 
L 135.5 316.5 
" clip-path="url(#p4f3d39bcc7)" style="fill: none; stroke: #000000; stroke-width: 1.05; stroke-linejoin: miter"/>
<path d="M 142.5 427.333 
L 142.5 422.618 
L 142.5 417.902 
L 142.5 413.187 
L 142.5 408.472 
L 142.5 403.756 
L 142.5 399.041 
L 142.5 394.326 
L 142.5 389.611 
L 142.5 384.895 
L 142.5 380.180 
L 142.5 375.465 
L 142.5 370.75 
L 142.5 366.034 
L 142.5 361.319 
L 142.5 356.604 
L 142.5 351.888 
L 142.5 347.173 
L 142.5 342.458 
L 142.5 337.743 
L 142.5 333.027 
L 142.5 328.312 
L 142.5 323.597 
L 142.5 318.881 
L 142.5 314.166 
" clip-path="url(#p4f3d39bcc7)" style="fill: none; stroke: #000000; stroke-width: 1.05; stroke-linejoin: miter"/>
<path d="M 149.5 420.916 
L 149.5 416.371 
L 149.5 411.826 
L 149.5 407.281 
L 149.5 402.736 
L 149.5 398.190 
L 149.5 393.645 
L 149.5 389.100 
L 149.5 384.555 
L 149.5 380.010 
L 149.5 375.465 
L 149.5 370.920 
L 149.5 366.375 
L 149.5 361.829 
L 149.5 357.284 
L 149.5 352.739 
L 149.5 348.194 
L 149.5 343.649 
L 149.5 339.104 
L 149.5 334.559 
L 149.5 330.013 
L 149.5 325.468 
L 149.5 320.923 
L 149.5 316.378 
L 149.5 311.833 
" clip-path="url(#p4f3d39bcc7)" style="fill: none; stroke: #000000; stroke-width: 1.05; stroke-linejoin: miter"/>
<path d="M 156.5 414.5 
L 156.5 410.125 
L 156.5 405.75 
L 156.5 401.375 
L 156.5 397 
L 156.5 392.625 
L 156.5 388.25 
L 156.5 383.875 
L 156.5 379.5 
L 156.5 375.125 
L 156.5 370.75 
L 156.5 366.375 
L 156.5 362 
L 156.5 357.625 
L 156.5 353.25 
L 156.5 348.875 
L 156.5 344.5 
L 156.5 340.125 
L 156.5 335.75 
L 156.5 331.375 
L 156.5 327 
L 156.5 322.625 
L 156.5 318.25 
L 156.5 313.875 
L 156.5 309.5 
" clip-path="url(#p4f3d39bcc7)" style="fill: none; stroke: #000000; stroke-width: 1.05; stroke-linejoin: miter"/>
<path d="M 163.5 408.083 
L 163.5 403.878 
L 163.5 399.673 
L 163.5 395.468 
L 163.5 391.263 
L 163.5 387.059 
L 163.5 382.854 
L 163.5 378.649 
L 163.5 374.444 
L 163.5 370.239 
L 163.5 366.034 
L 163.5 361.829 
L 163.5 357.625 
L 163.5 353.420 
L 163.5 349.215 
L 163.5 345.010 
L 163.5 340.805 
L 163.5 336.600 
L 163.5 332.395 
L 163.5 328.190 
L 163.5 323.986 
L 163.5 319.781 
L 163.5 315.576 
L 163.5 311.371 
L 163.5 307.166 
" clip-path="url(#p4f3d39bcc7)" style="fill: none; stroke: #000000; stroke-width: 1.05; stroke-linejoin: miter"/>
<path d="M 170.5 401.666 
L 170.5 397.631 
L 170.5 393.597 
L 170.5 389.562 
L 170.5 385.527 
L 170.5 381.493 
L 170.5 377.458 
L 170.5 373.423 
L 170.5 369.388 
L 170.5 365.354 
L 170.5 361.319 
L 170.5 357.284 
L 170.5 353.25 
L 170.5 349.215 
L 170.5 345.180 
L 170.5 341.145 
L 170.5 337.111 
L 170.5 333.076 
L 170.5 329.041 
L 170.5 325.006 
L 170.5 320.972 
L 170.5 316.937 
L 170.5 312.902 
L 170.5 308.868 
L 170.5 304.833 
" clip-path="url(#p4f3d39bcc7)" style="fill: none; stroke: #000000; stroke-width: 1.05; stroke-linejoin: miter"/>
<path d="M 177.5 395.25 
L 177.5 391.385 
L 177.5 387.520 
L 177.5 383.656 
L 177.5 379.791 
L 177.5 375.927 
L 177.5 372.062 
L 177.5 368.197 
L 177.5 364.333 
L 177.5 360.468 
L 177.5 356.604 
L 177.5 352.739 
L 177.5 348.875 
L 177.5 345.010 
L 177.5 341.145 
L 177.5 337.281 
L 177.5 333.416 
L 177.5 329.552 
L 177.5 325.687 
L 177.5 321.822 
L 177.5 317.958 
L 177.5 314.093 
L 177.5 310.229 
L 177.5 306.364 
L 177.5 302.5 
" clip-path="url(#p4f3d39bcc7)" style="fill: none; stroke: #000000; stroke-width: 1.05; stroke-linejoin: miter"/>
<path d="M 184.5 388.833 
L 184.5 385.138 
L 184.5 381.444 
L 184.5 377.75 
L 184.5 374.055 
L 184.5 370.361 
L 184.5 366.666 
L 184.5 362.972 
L 184.5 359.277 
L 184.5 355.583 
L 184.5 351.888 
L 184.5 348.194 
L 184.5 344.5 
L 184.5 340.805 
L 184.5 337.111 
L 184.5 333.416 
L 184.5 329.722 
L 184.5 326.027 
L 184.5 322.333 
L 184.5 318.638 
L 184.5 314.944 
L 184.5 311.25 
L 184.5 307.555 
L 184.5 303.861 
L 184.5 300.166 
" clip-path="url(#p4f3d39bcc7)" style="fill: none; stroke: #000000; stroke-width: 1.05; stroke-linejoin: miter"/>
<path d="M 191.5 382.416 
L 191.5 378.892 
L 191.5 375.368 
L 191.5 371.843 
L 191.5 368.319 
L 191.5 364.795 
L 191.5 361.270 
L 191.5 357.746 
L 191.5 354.222 
L 191.5 350.697 
L 191.5 347.173 
L 191.5 343.649 
L 191.5 340.125 
L 191.5 336.600 
L 191.5 333.076 
L 191.5 329.552 
L 191.5 326.027 
L 191.5 322.503 
L 191.5 318.979 
L 191.5 315.454 
L 191.5 311.930 
L 191.5 308.406 
L 191.5 304.881 
L 191.5 301.357 
L 191.5 297.833 
" clip-path="url(#p4f3d39bcc7)" style="fill: none; stroke: #000000; stroke-width: 1.05; stroke-linejoin: miter"/>
<path d="M 198.5 376 
L 198.5 372.645 
L 198.5 369.291 
L 198.5 365.937 
L 198.5 362.583 
L 198.5 359.229 
L 198.5 355.875 
L 198.5 352.520 
L 198.5 349.166 
L 198.5 345.812 
L 198.5 342.458 
L 198.5 339.104 
L 198.5 335.75 
L 198.5 332.395 
L 198.5 329.041 
L 198.5 325.687 
L 198.5 322.333 
L 198.5 318.979 
L 198.5 315.625 
L 198.5 312.270 
L 198.5 308.916 
L 198.5 305.562 
L 198.5 302.208 
L 198.5 298.854 
L 198.5 295.5 
" clip-path="url(#p4f3d39bcc7)" style="fill: none; stroke: #000000; stroke-width: 1.05; stroke-linejoin: miter"/>
<path d="M 205.5 369.583 
L 205.5 366.399 
L 205.5 363.215 
L 205.5 360.031 
L 205.5 356.847 
L 205.5 353.663 
L 205.5 350.479 
L 205.5 347.295 
L 205.5 344.111 
L 205.5 340.927 
L 205.5 337.743 
L 205.5 334.559 
L 205.5 331.375 
L 205.5 328.190 
L 205.5 325.006 
L 205.5 321.822 
L 205.5 318.638 
L 205.5 315.454 
L 205.5 312.270 
L 205.5 309.086 
L 205.5 305.902 
L 205.5 302.718 
L 205.5 299.534 
L 205.5 296.350 
L 205.5 293.166 
" clip-path="url(#p4f3d39bcc7)" style="fill: none; stroke: #000000; stroke-width: 1.05; stroke-linejoin: miter"/>
<path d="M 212.5 363.166 
L 212.5 360.152 
L 212.5 357.138 
L 212.5 354.125 
L 212.5 351.111 
L 212.5 348.097 
L 212.5 345.083 
L 212.5 342.069 
L 212.5 339.055 
L 212.5 336.041 
L 212.5 333.027 
L 212.5 330.013 
L 212.5 327 
L 212.5 323.986 
L 212.5 320.972 
L 212.5 317.958 
L 212.5 314.944 
L 212.5 311.930 
L 212.5 308.916 
L 212.5 305.902 
L 212.5 302.888 
L 212.5 299.875 
L 212.5 296.861 
L 212.5 293.847 
L 212.5 290.833 
" clip-path="url(#p4f3d39bcc7)" style="fill: none; stroke: #000000; stroke-width: 1.05; stroke-linejoin: miter"/>
<path d="M 219.5 356.75 
L 219.5 353.906 
L 219.5 351.062 
L 219.5 348.218 
L 219.5 345.375 
L 219.5 342.531 
L 219.5 339.687 
L 219.5 336.843 
L 219.5 334 
L 219.5 331.156 
L 219.5 328.312 
L 219.5 325.468 
L 219.5 322.625 
L 219.5 319.781 
L 219.5 316.937 
L 219.5 314.093 
L 219.5 311.25 
L 219.5 308.406 
L 219.5 305.562 
L 219.5 302.718 
L 219.5 299.875 
L 219.5 297.031 
L 219.5 294.187 
L 219.5 291.343 
L 219.5 288.5 
" clip-path="url(#p4f3d39bcc7)" style="fill: none; stroke: #000000; stroke-width: 1.05; stroke-linejoin: miter"/>
<path d="M 226.5 350.333 
L 226.5 347.659 
L 226.5 344.986 
L 226.5 342.312 
L 226.5 339.638 
L 226.5 336.965 
L 226.5 334.291 
L 226.5 331.618 
L 226.5 328.944 
L 226.5 326.270 
L 226.5 323.597 
L 226.5 320.923 
L 226.5 318.25 
L 226.5 315.576 
L 226.5 312.902 
L 226.5 310.229 
L 226.5 307.555 
L 226.5 304.881 
L 226.5 302.208 
L 226.5 299.534 
L 226.5 296.861 
L 226.5 294.187 
L 226.5 291.513 
L 226.5 288.840 
L 226.5 286.166 
" clip-path="url(#p4f3d39bcc7)" style="fill: none; stroke: #000000; stroke-width: 1.05; stroke-linejoin: miter"/>
<path d="M 233.5 343.916 
L 233.5 341.413 
L 233.5 338.909 
L 233.5 336.406 
L 233.5 333.902 
L 233.5 331.399 
L 233.5 328.895 
L 233.5 326.392 
L 233.5 323.888 
L 233.5 321.385 
L 233.5 318.881 
L 233.5 316.378 
L 233.5 313.875 
L 233.5 311.371 
L 233.5 308.868 
L 233.5 306.364 
L 233.5 303.861 
L 233.5 301.357 
L 233.5 298.854 
L 233.5 296.350 
L 233.5 293.847 
L 233.5 291.343 
L 233.5 288.840 
L 233.5 286.336 
L 233.5 283.833 
" clip-path="url(#p4f3d39bcc7)" style="fill: none; stroke: #000000; stroke-width: 1.05; stroke-linejoin: miter"/>
<path d="M 240.5 337.5 
L 240.5 335.166 
L 240.5 332.833 
L 240.5 330.5 
L 240.5 328.166 
L 240.5 325.833 
L 240.5 323.5 
L 240.5 321.166 
L 240.5 318.833 
L 240.5 316.5 
L 240.5 314.166 
L 240.5 311.833 
L 240.5 309.5 
L 240.5 307.166 
L 240.5 304.833 
L 240.5 302.5 
L 240.5 300.166 
L 240.5 297.833 
L 240.5 295.5 
L 240.5 293.166 
L 240.5 290.833 
L 240.5 288.5 
L 240.5 286.166 
L 240.5 283.833 
L 240.5 281.5 
" clip-path="url(#p4f3d39bcc7)" style="fill: none; stroke: #000000; stroke-width: 1.05; stroke-linejoin: miter"/>
</g>
</g>
<g id="axes_6">
<g id="patch_54">
<path d="M 255.5 491.5 
L 265.5 491.5 
L 265.5 281.5 
L 255.5 281.5 
z
" style="fill: #ffffff"/>
</g>
<g id="patch_55">
<path d="M 255.5 491.5 
L 265.5 491.5 
L 265.5 472.5 
L 255.5 472.5 
z
" clip-path="url(#p33efff24a5)" style="fill: #455cce"/>
</g>
<g id="patch_56">
<path d="M 255.5 472.5 
L 265.5 472.5 
L 265.5 453.5 
L 255.5 453.5 
z
" clip-path="url(#p33efff24a5)" style="fill: #6180e9"/>
</g>
<g id="patch_57">
<path d="M 255.5 453.5 
L 265.5 453.5 
L 265.5 434.5 
L 255.5 434.5 
z
" clip-path="url(#p33efff24a5)" style="fill: #84a7fc"/>
</g>
<g id="patch_58">
<path d="M 255.5 434.5 
L 265.5 434.5 
L 265.5 415.5 
L 255.5 415.5 
z
" clip-path="url(#p33efff24a5)" style="fill: #a7c5fe"/>
</g>
<g id="patch_59">
<path d="M 255.5 415.5 
L 265.5 415.5 
L 265.5 396.5 
L 255.5 396.5 
z
" clip-path="url(#p33efff24a5)" style="fill: #c9d7f0"/>
</g>
<g id="patch_60">
<path d="M 255.5 396.5 
L 265.5 396.5 
L 265.5 376.5 
L 255.5 376.5 
z
" clip-path="url(#p33efff24a5)" style="fill: #e4d9d2"/>
</g>
<g id="patch_61">
<path d="M 255.5 376.5 
L 265.5 376.5 
L 265.5 357.5 
L 255.5 357.5 
z
" clip-path="url(#p33efff24a5)" style="fill: #f5c1a9"/>
</g>
<g id="patch_62">
<path d="M 255.5 357.5 
L 265.5 357.5 
L 265.5 338.5 
L 255.5 338.5 
z
" clip-path="url(#p33efff24a5)" style="fill: #f59f80"/>
</g>
<g id="patch_63">
<path d="M 255.5 338.5 
L 265.5 338.5 
L 265.5 319.5 
L 255.5 319.5 
z
" clip-path="url(#p33efff24a5)" style="fill: #e67259"/>
</g>
<g id="patch_64">
<path d="M 255.5 319.5 
L 265.5 319.5 
L 265.5 300.5 
L 255.5 300.5 
z
" clip-path="url(#p33efff24a5)" style="fill: #ca3b37"/>
</g>
<g id="patch_65">
<path d="M 255.5 300.5 
L 265.5 300.5 
L 265.5 281.5 
L 255.5 281.5 
z
" clip-path="url(#p33efff24a5)" style="fill: #b50927"/>
</g>
<g id="matplotlib.axis_11"/>
<g id="matplotlib.axis_12">
<g id="ytick_50">
<g id="line2d_83">
<g>
<path d="M 0 0  L 5.833 0  " transform="translate(265.5 491.5)" style="stroke: #000000; stroke-width: 1.333"/>
</g>
</g>
<g id="text_53">
<text style="font-size: 13.89px; font-family: 'DejaVu Sans', sans-serif; text-anchor: start" x="277.166" y="496.777" transform="rotate(0 277.166 496.777)">-1738</text>
</g>
</g>
<g id="ytick_51">
<g id="line2d_84">
<g>
<path d="M 0 0  L 5.833 0  " transform="translate(265.5 472.5)" style="stroke: #000000; stroke-width: 1.333"/>
</g>
</g>
<g id="text_54">
<text style="font-size: 13.89px; font-family: 'DejaVu Sans', sans-serif; text-anchor: start" x="277.166" y="477.777" transform="rotate(0 277.166 477.777)">-1600</text>
</g>
</g>
<g id="ytick_52">
<g id="line2d_85">
<g>
<path d="M 0 0  L 5.833 0  " transform="translate(265.5 453.5)" style="stroke: #000000; stroke-width: 1.333"/>
</g>
</g>
<g id="text_55">
<text style="font-size: 13.89px; font-family: 'DejaVu Sans', sans-serif; text-anchor: start" x="277.166" y="458.777" transform="rotate(0 277.166 458.777)">-1400</text>
</g>
</g>
<g id="ytick_53">
<g id="line2d_86">
<g>
<path d="M 0 0  L 5.833 0  " transform="translate(265.5 434.5)" style="stroke: #000000; stroke-width: 1.333"/>
</g>
</g>
<g id="text_56">
<text style="font-size: 13.89px; font-family: 'DejaVu Sans', sans-serif; text-anchor: start" x="277.166" y="439.777" transform="rotate(0 277.166 439.777)">-1200</text>
</g>
</g>
<g id="ytick_54">
<g id="line2d_87">
<g>
<path d="M 0 0  L 5.833 0  " transform="translate(265.5 415.5)" style="stroke: #000000; stroke-width: 1.333"/>
</g>
</g>
<g id="text_57">
<text style="font-size: 13.89px; font-family: 'DejaVu Sans', sans-serif; text-anchor: start" x="277.166" y="420.777" transform="rotate(0 277.166 420.777)">-1000</text>
</g>
</g>
<g id="ytick_55">
<g id="line2d_88">
<g>
<path d="M 0 0  L 5.833 0  " transform="translate(265.5 396.5)" style="stroke: #000000; stroke-width: 1.333"/>
</g>
</g>
<g id="text_58">
<text style="font-size: 13.89px; font-family: 'DejaVu Sans', sans-serif; text-anchor: start" x="277.166" y="401.777" transform="rotate(0 277.166 401.777)">-800</text>
</g>
</g>
<g id="ytick_56">
<g id="line2d_89">
<g>
<path d="M 0 0  L 5.833 0  " transform="translate(265.5 376.5)" style="stroke: #000000; stroke-width: 1.333"/>
</g>
</g>
<g id="text_59">
<text style="font-size: 13.89px; font-family: 'DejaVu Sans', sans-serif; text-anchor: start" x="277.166" y="381.777" transform="rotate(0 277.166 381.777)">-600</text>
</g>
</g>
<g id="ytick_57">
<g id="line2d_90">
<g>
<path d="M 0 0  L 5.833 0  " transform="translate(265.5 357.5)" style="stroke: #000000; stroke-width: 1.333"/>
</g>
</g>
<g id="text_60">
<text style="font-size: 13.89px; font-family: 'DejaVu Sans', sans-serif; text-anchor: start" x="277.166" y="362.777" transform="rotate(0 277.166 362.777)">-400</text>
</g>
</g>
<g id="ytick_58">
<g id="line2d_91">
<g>
<path d="M 0 0  L 5.833 0  " transform="translate(265.5 338.5)" style="stroke: #000000; stroke-width: 1.333"/>
</g>
</g>
<g id="text_61">
<text style="font-size: 13.89px; font-family: 'DejaVu Sans', sans-serif; text-anchor: start" x="277.166" y="343.777" transform="rotate(0 277.166 343.777)">-200</text>
</g>
</g>
<g id="ytick_59">
<g id="line2d_92">
<g>
<path d="M 0 0  L 5.833 0  " transform="translate(265.5 319.5)" style="stroke: #000000; stroke-width: 1.333"/>
</g>
</g>
<g id="text_62">
<text style="font-size: 13.89px; font-family: 'DejaVu Sans', sans-serif; text-anchor: start" x="277.166" y="324.777" transform="rotate(0 277.166 324.777)">0</text>
</g>
</g>
<g id="ytick_60">
<g id="line2d_93">
<g>
<path d="M 0 0  L 5.833 0  " transform="translate(265.5 300.5)" style="stroke: #000000; stroke-width: 1.333"/>
</g>
</g>
<g id="text_63">
<text style="font-size: 13.89px; font-family: 'DejaVu Sans', sans-serif; text-anchor: start" x="277.166" y="305.777" transform="rotate(0 277.166 305.777)">200</text>
</g>
</g>
<g id="ytick_61">
<g id="line2d_94">
<g>
<path d="M 0 0  L 5.833 0  " transform="translate(265.5 281.5)" style="stroke: #000000; stroke-width: 1.333"/>
</g>
</g>
<g id="text_64">
<text style="font-size: 13.89px; font-family: 'DejaVu Sans', sans-serif; text-anchor: start" x="277.166" y="286.777" transform="rotate(0 277.166 286.777)">216.5</text>
</g>
</g>
<g id="text_65">
<g transform="translate(334.748 466.159) rotate(-90)"><text><tspan x="0.000" y="-0.375" style="font-size: 13.89px; font-family: 'DejaVu Sans', sans-serif">stress trace tr(</tspan> <tspan x="102.558" y="-0.375" style="font-style: oblique; font-size: 13.89px; font-family: 'DejaVu Sans', sans-serif">σ</tspan> <tspan x="111.352" y="-0.375" style="font-size: 13.89px; font-family: 'DejaVu Sans', sans-serif">) / MPa</tspan></text></g>
</g>
</g>
<g id="line2d_95">
<path d="M 255.5 472.5 
L 265.5 472.5 
" clip-path="url(#p33efff24a5)" style="fill: none; stroke: #000000; stroke-opacity: 0.5"/>
</g>
<g id="line2d_96">
<path d="M 255.5 453.5 
L 265.5 453.5 
" clip-path="url(#p33efff24a5)" style="fill: none; stroke: #000000; stroke-opacity: 0.5"/>
</g>
<g id="line2d_97">
<path d="M 255.5 434.5 
L 265.5 434.5 
" clip-path="url(#p33efff24a5)" style="fill: none; stroke: #000000; stroke-opacity: 0.5"/>
</g>
<g id="line2d_98">
<path d="M 255.5 415.5 
L 265.5 415.5 
" clip-path="url(#p33efff24a5)" style="fill: none; stroke: #000000; stroke-opacity: 0.5"/>
</g>
<g id="line2d_99">
<path d="M 255.5 396.5 
L 265.5 396.5 
" clip-path="url(#p33efff24a5)" style="fill: none; stroke: #000000; stroke-opacity: 0.5"/>
</g>
<g id="line2d_100">
<path d="M 255.5 376.5 
L 265.5 376.5 
" clip-path="url(#p33efff24a5)" style="fill: none; stroke: #000000; stroke-opacity: 0.5"/>
</g>
<g id="line2d_101">
<path d="M 255.5 357.5 
L 265.5 357.5 
" clip-path="url(#p33efff24a5)" style="fill: none; stroke: #000000; stroke-opacity: 0.5"/>
</g>
<g id="line2d_102">
<path d="M 255.5 338.5 
L 265.5 338.5 
" clip-path="url(#p33efff24a5)" style="fill: none; stroke: #000000; stroke-opacity: 0.5"/>
</g>
<g id="line2d_103">
<path d="M 255.5 319.5 
L 265.5 319.5 
" clip-path="url(#p33efff24a5)" style="fill: none; stroke: #000000; stroke-opacity: 0.5"/>
</g>
<g id="line2d_104">
<path d="M 255.5 300.5 
L 265.5 300.5 
" clip-path="url(#p33efff24a5)" style="fill: none; stroke: #000000; stroke-opacity: 0.5"/>
</g>
<g id="patch_66">
<path d="M 255.5 491.5 
L 255.5 281.5 
" style="fill: none; stroke: #000000; stroke-width: 1.333; stroke-linejoin: miter; stroke-linecap: square"/>
</g>
<g id="patch_67">
<path d="M 265.5 491.5 
L 265.5 281.5 
" style="fill: none; stroke: #000000; stroke-width: 1.333; stroke-linejoin: miter; stroke-linecap: square"/>
</g>
<g id="patch_68">
<path d="M 255.5 491.5 
L 265.5 491.5 
" style="fill: none; stroke: #000000; stroke-width: 1.333; stroke-linejoin: miter; stroke-linecap: square"/>
</g>
<g id="patch_69">
<path d="M 255.5 281.5 
L 265.5 281.5 
" style="fill: none; stroke: #000000; stroke-width: 1.333; stroke-linejoin: miter; stroke-linecap: square"/>
</g>
</g>
<g id="axes_7">
<g id="patch_70">
<path d="M 411.5 491.5 
L 579.5 491.5 
L 579.5 281.5 
L 411.5 281.5 
z
" style="fill: #ffffff"/>
</g>
<g id="TriContourSet_4">
<path d="M 410.5 340.367 
L 412.968 336.677 
L 410.5 337.5 
z
" clip-path="url(#pb37a476ae2)" style="fill: #465ecf; stroke: #465ecf; stroke-width: 0.6"/>
<path d="M 412.968 336.677 
L 410.5 340.367 
L 410.5 343.360 
L 415.545 335.818 
z
" clip-path="url(#pb37a476ae2)" style="fill: #6180e9; stroke: #6180e9; stroke-width: 0.6"/>
<path d="M 415.545 335.818 
L 410.5 343.360 
L 410.5 343.916 
L 410.5 346.574 
L 415.892 341.987 
L 417.5 338.280 
L 418.198 334.933 
L 417.5 335.166 
z
" clip-path="url(#pb37a476ae2)" style="fill: #7da0f9; stroke: #7da0f9; stroke-width: 0.6"/>
<path d="M 418.198 334.933 
L 417.5 338.280 
L 415.892 341.987 
L 410.5 346.574 
L 410.5 349.839 
L 411.665 348.847 
L 417.5 346.302 
L 420.882 340.203 
L 420.240 338.053 
L 421.093 333.968 
z
" clip-path="url(#pb37a476ae2)" style="fill: #9abbff; stroke: #9abbff; stroke-width: 0.6"/>
<path d="M 421.093 333.968 
L 420.240 338.053 
L 420.882 340.203 
L 417.5 346.302 
L 411.665 348.847 
L 410.5 349.839 
L 410.5 350.333 
L 410.5 356.683 
L 410.577 356.649 
L 417.5 352.997 
L 419.929 350.810 
L 424.5 347.588 
L 427.004 344.029 
L 427.589 341.199 
L 427.108 337.976 
L 428.487 334.119 
L 424.5 335.762 
L 423.859 333.617 
L 423.987 333.004 
z
" clip-path="url(#pb37a476ae2)" style="fill: #b7cff9; stroke: #b7cff9; stroke-width: 0.6"/>
<path d="M 423.987 333.004 
L 423.859 333.617 
L 424.5 335.762 
L 428.487 334.119 
L 427.108 337.976 
L 427.589 341.199 
L 427.004 344.029 
L 424.5 347.588 
L 419.929 350.810 
L 417.5 352.997 
L 410.577 356.649 
L 410.5 356.683 
L 410.5 356.75 
L 410.5 362.319 
L 411.538 361.792 
L 417.5 360.083 
L 417.601 360.020 
L 419.159 359.438 
L 424.243 357.477 
L 424.5 357.421 
L 425.960 356.510 
L 431.5 352.615 
L 438.360 345.431 
L 438.5 345.226 
L 438.958 344.823 
L 445.5 338.972 
L 451.914 334.515 
L 452.5 334.128 
L 452.769 333.987 
L 459.5 330.369 
L 461.374 329.548 
L 466.5 326.934 
L 469.684 325.505 
L 473.5 323.733 
L 477.526 322.021 
L 480.5 320.622 
L 485.580 318.357 
L 487.5 317.475 
L 493.714 314.666 
L 494.5 314.289 
L 497.835 312.681 
L 501.5 310.488 
L 504.641 308.437 
L 508.5 305.918 
L 511.248 303.917 
L 508.5 304.833 
L 501.5 307.166 
L 494.5 309.5 
L 487.5 311.833 
L 480.5 314.166 
L 473.5 316.5 
L 466.5 318.833 
L 459.5 321.166 
L 452.5 323.5 
L 445.5 325.833 
L 438.5 328.166 
L 431.5 330.5 
L 424.5 332.833 
z
" clip-path="url(#pb37a476ae2)" style="fill: #d1dae9; stroke: #d1dae9; stroke-width: 0.6"/>
<path d="M 511.248 303.917 
L 508.5 305.918 
L 504.641 308.437 
L 501.5 310.488 
L 497.835 312.681 
L 494.5 314.289 
L 493.714 314.666 
L 487.5 317.475 
L 485.580 318.357 
L 480.5 320.622 
L 477.526 322.021 
L 473.5 323.733 
L 469.684 325.505 
L 466.5 326.934 
L 461.374 329.548 
L 459.5 330.369 
L 452.769 333.987 
L 452.5 334.128 
L 451.914 334.515 
L 445.5 338.972 
L 438.958 344.823 
L 438.5 345.226 
L 438.360 345.431 
L 431.5 352.615 
L 425.960 356.510 
L 424.5 357.421 
L 424.243 357.477 
L 419.159 359.438 
L 417.601 360.020 
L 417.5 360.083 
L 411.538 361.792 
L 410.5 362.319 
L 410.5 363.166 
L 410.5 369.583 
L 410.5 370.131 
L 416.293 368.054 
L 417.5 367.799 
L 421.881 366.742 
L 424.5 366.486 
L 427.626 365.155 
L 431.5 364.043 
L 434.210 362.417 
L 438.5 360.512 
L 441.841 358.325 
L 445.5 356.136 
L 451.092 352.238 
L 452.5 351.347 
L 457.355 348.270 
L 459.5 346.900 
L 460.164 346.512 
L 466.5 342.611 
L 468.990 341.240 
L 473.5 338.660 
L 477.309 336.627 
L 480.5 334.845 
L 485.477 332.246 
L 487.5 331.141 
L 493.674 327.891 
L 494.5 327.442 
L 498.930 325.092 
L 501.5 323.735 
L 502.026 323.455 
L 508.5 319.924 
L 510.984 318.530 
L 515.5 315.982 
L 520.866 312.815 
L 522.5 311.843 
L 525.137 310.178 
L 529.5 307.422 
L 534.184 304.258 
L 536.5 302.695 
L 537.960 301.650 
L 543.5 297.753 
L 547.613 294.879 
L 550.5 292.123 
L 552.743 290.085 
L 550.5 290.833 
L 543.5 293.166 
L 536.5 295.5 
L 529.5 297.833 
L 522.5 300.166 
L 515.5 302.5 
z
" clip-path="url(#pb37a476ae2)" style="fill: #e7d7ce; stroke: #e7d7ce; stroke-width: 0.6"/>
<path d="M 552.743 290.085 
L 550.5 292.123 
L 547.613 294.879 
L 543.5 297.753 
L 537.960 301.650 
L 536.5 302.695 
L 534.184 304.258 
L 529.5 307.422 
L 525.137 310.178 
L 522.5 311.843 
L 520.866 312.815 
L 515.5 315.982 
L 510.984 318.530 
L 508.5 319.924 
L 502.026 323.455 
L 501.5 323.735 
L 498.930 325.092 
L 494.5 327.442 
L 493.674 327.891 
L 487.5 331.141 
L 485.477 332.246 
L 480.5 334.845 
L 477.309 336.627 
L 473.5 338.660 
L 468.990 341.240 
L 466.5 342.611 
L 460.164 346.512 
L 459.5 346.900 
L 457.355 348.270 
L 452.5 351.347 
L 451.092 352.238 
L 445.5 356.136 
L 441.841 358.325 
L 438.5 360.512 
L 434.210 362.417 
L 431.5 364.043 
L 427.626 365.155 
L 424.5 366.486 
L 421.881 366.742 
L 417.5 367.799 
L 416.293 368.054 
L 410.5 370.131 
L 410.5 376 
L 410.5 377.581 
L 414.487 376.850 
L 417.5 376.097 
L 419.747 375.810 
L 423.601 375.820 
L 424.194 375.794 
L 424.5 375.826 
L 429.324 374.828 
L 431.5 374.648 
L 434.659 373.494 
L 438.5 372.539 
L 440.291 371.686 
L 445.5 369.567 
L 446.596 368.937 
L 452.5 365.938 
L 453.579 365.290 
L 459.5 361.784 
L 461.406 360.589 
L 466.5 357.463 
L 469.444 355.668 
L 473.5 353.100 
L 477.696 350.541 
L 480.5 348.799 
L 485.795 345.655 
L 487.5 344.596 
L 493.907 340.808 
L 494.5 340.447 
L 498.435 338.143 
L 501.5 336.350 
L 501.992 336.068 
L 508.5 332.243 
L 510.261 331.217 
L 515.5 328.110 
L 518.840 326.107 
L 522.5 323.892 
L 528.077 320.411 
L 529.5 319.520 
L 532.413 317.583 
L 536.5 314.840 
L 540.513 311.876 
L 543.5 309.672 
L 544.999 308.404 
L 550.5 303.838 
L 552.253 302.133 
L 557.5 297.520 
L 558.222 296.737 
L 562.655 292.967 
L 564.168 291.640 
L 564.5 291.412 
L 568.496 287.410 
L 571.5 284.196 
L 572.120 283.626 
L 571.5 283.833 
L 564.5 286.166 
L 557.5 288.5 
z
" clip-path="url(#pb37a476ae2)" style="fill: #f4c5ad; stroke: #f4c5ad; stroke-width: 0.6"/>
<path d="M 572.120 283.626 
L 571.5 284.196 
L 568.496 287.410 
L 564.5 291.412 
L 564.168 291.640 
L 562.655 292.967 
L 558.222 296.737 
L 557.5 297.520 
L 552.253 302.133 
L 550.5 303.838 
L 544.999 308.404 
L 543.5 309.672 
L 540.513 311.876 
L 536.5 314.840 
L 532.413 317.583 
L 529.5 319.520 
L 528.077 320.411 
L 522.5 323.892 
L 518.840 326.107 
L 515.5 328.110 
L 510.261 331.217 
L 508.5 332.243 
L 501.992 336.068 
L 501.5 336.350 
L 498.435 338.143 
L 494.5 340.447 
L 493.907 340.808 
L 487.5 344.596 
L 485.795 345.655 
L 480.5 348.799 
L 477.696 350.541 
L 473.5 353.100 
L 469.444 355.668 
L 466.5 357.463 
L 461.406 360.589 
L 459.5 361.784 
L 453.579 365.290 
L 452.5 365.938 
L 446.596 368.937 
L 445.5 369.567 
L 440.291 371.686 
L 438.5 372.539 
L 434.659 373.494 
L 431.5 374.648 
L 429.324 374.828 
L 424.5 375.826 
L 424.194 375.794 
L 423.601 375.820 
L 419.747 375.810 
L 417.5 376.097 
L 414.487 376.850 
L 410.5 377.581 
L 410.5 382.416 
L 410.5 386.616 
L 412.366 386.182 
L 417.5 384.618 
L 417.885 384.601 
L 418.412 384.657 
L 421.208 386.119 
L 424.5 385.785 
L 425.813 385.686 
L 428.606 385.253 
L 430.200 385.502 
L 431.5 385.380 
L 434.560 385.290 
L 438.5 384.087 
L 439.891 383.619 
L 445.5 381.243 
L 445.788 381.104 
L 447.319 380.444 
L 451.254 379.166 
L 452.5 378.614 
L 457.571 376.021 
L 459.5 374.987 
L 464.685 371.788 
L 466.5 370.691 
L 472.820 366.236 
L 473.5 365.798 
L 477.339 363.141 
L 480.5 361.107 
L 480.857 360.881 
L 487.5 356.719 
L 488.498 356.084 
L 494.5 352.347 
L 496.146 351.311 
L 501.5 347.981 
L 503.866 346.487 
L 508.5 343.631 
L 511.610 341.670 
L 515.5 339.278 
L 519.516 336.711 
L 522.5 334.886 
L 527.779 331.409 
L 529.5 330.351 
L 535.192 326.409 
L 536.5 325.567 
L 536.877 325.307 
L 543.5 321.103 
L 550.310 315.130 
L 550.5 314.979 
L 550.567 314.909 
L 550.741 314.719 
L 556.496 308.911 
L 557.5 307.832 
L 560.489 304.130 
L 562.018 301.671 
L 563.184 300.133 
L 564.5 298.483 
L 566.012 296.209 
L 566.603 295.202 
L 568.602 292.520 
L 570.602 289.525 
L 570.963 289.045 
L 571.5 288.561 
L 577.535 284.178 
L 578.5 283.342 
L 578.5 281.5 
z
" clip-path="url(#pb37a476ae2)" style="fill: #f7aa8c; stroke: #f7aa8c; stroke-width: 0.6"/>
<path d="M 578.5 283.342 
L 577.535 284.178 
L 571.5 288.561 
L 570.963 289.045 
L 570.602 289.525 
L 568.602 292.520 
L 566.603 295.202 
L 566.012 296.209 
L 564.5 298.483 
L 563.184 300.133 
L 562.018 301.671 
L 560.489 304.130 
L 557.5 307.832 
L 556.496 308.911 
L 550.741 314.719 
L 550.567 314.909 
L 550.5 314.979 
L 550.310 315.130 
L 543.5 321.103 
L 536.877 325.307 
L 536.5 325.567 
L 535.192 326.409 
L 529.5 330.351 
L 527.779 331.409 
L 522.5 334.886 
L 519.516 336.711 
L 515.5 339.278 
L 511.610 341.670 
L 508.5 343.631 
L 503.866 346.487 
L 501.5 347.981 
L 496.146 351.311 
L 494.5 352.347 
L 488.498 356.084 
L 487.5 356.719 
L 480.857 360.881 
L 480.5 361.107 
L 477.339 363.141 
L 473.5 365.798 
L 472.820 366.236 
L 466.5 370.691 
L 464.685 371.788 
L 459.5 374.987 
L 457.571 376.021 
L 452.5 378.614 
L 451.254 379.166 
L 447.319 380.444 
L 445.788 381.104 
L 445.5 381.243 
L 439.891 383.619 
L 438.5 384.087 
L 434.560 385.290 
L 431.5 385.380 
L 430.200 385.502 
L 428.606 385.253 
L 425.813 385.686 
L 424.5 385.785 
L 421.208 386.119 
L 418.412 384.657 
L 417.885 384.601 
L 417.5 384.618 
L 412.366 386.182 
L 410.5 386.616 
L 410.5 388.833 
L 410.5 395.25 
L 410.5 401.666 
L 410.5 402.073 
L 415.197 401.069 
L 417.5 400.830 
L 419.464 400.992 
L 420.905 401.832 
L 422.508 402.647 
L 424.5 403.484 
L 426.051 403.471 
L 427.401 403.936 
L 429.514 404.338 
L 431.5 404.740 
L 433.461 404.400 
L 435.340 404.787 
L 437.056 404.890 
L 438.5 404.672 
L 441.953 403.399 
L 445.162 403.984 
L 445.336 404.000 
L 445.5 403.928 
L 451.246 400.882 
L 452.5 400.231 
L 457.499 397.216 
L 459.5 395.989 
L 464.193 392.886 
L 466.5 391.267 
L 471.402 387.823 
L 473.5 386.238 
L 478.943 382.315 
L 480.5 381.104 
L 486.610 376.663 
L 487.5 375.973 
L 494.204 371.140 
L 494.5 370.914 
L 496.290 369.543 
L 501.5 365.317 
L 502.790 364.422 
L 508.5 360.020 
L 510.845 358.444 
L 515.5 355.102 
L 518.259 353.288 
L 522.5 350.426 
L 525.222 348.684 
L 529.5 345.975 
L 531.763 344.564 
L 536.5 342.034 
L 537.303 341.551 
L 539.837 340.210 
L 542.987 338.333 
L 543.5 338.020 
L 549.159 334.541 
L 550.5 333.812 
L 555.204 330.846 
L 557.5 329.963 
L 561.417 326.925 
L 564.5 325.310 
L 565.602 322.854 
L 565.597 322.465 
L 566.420 319.676 
L 566.444 318.965 
L 567.066 316.646 
L 567.155 315.640 
L 567.661 313.677 
L 567.856 312.359 
L 568.290 310.718 
L 568.665 309.011 
L 569.030 307.728 
L 569.790 305.416 
L 570.042 304.630 
L 571.5 301.701 
L 571.748 301.232 
L 571.782 301.121 
L 572.777 298.242 
L 573.076 297.573 
L 574.136 295.151 
L 575.399 293.277 
L 576.271 291.792 
L 578.5 289.406 
L 578.5 288.5 
L 578.5 286.166 
L 578.5 283.833 
z
" clip-path="url(#pb37a476ae2)" style="fill: #ef886b; stroke: #ef886b; stroke-width: 0.6"/>
<path d="M 458.029 447.931 
L 457.737 444.289 
L 457.442 443.193 
L 457.261 439.800 
L 456.597 438.651 
L 457.345 434.385 
L 457.155 432.884 
L 459.5 427.009 
L 460.501 424.860 
L 466.5 416.127 
L 469.007 412.895 
L 473.5 407.806 
L 477.010 404.167 
L 480.5 400.380 
L 486.526 394.396 
L 487.5 393.470 
L 487.844 393.164 
L 494.5 387.069 
L 496.766 385.140 
L 501.5 380.981 
L 505.017 378.114 
L 508.5 375.192 
L 512.640 371.981 
L 515.5 369.687 
L 519.737 366.559 
L 522.5 364.450 
L 526.330 361.785 
L 529.5 359.487 
L 532.480 357.545 
L 536.5 354.810 
L 538.182 353.813 
L 543.5 350.456 
L 543.532 350.439 
L 543.598 350.403 
L 548.059 348.074 
L 550.5 346.660 
L 552.269 345.970 
L 554.301 345.074 
L 555.957 344.422 
L 557.5 343.668 
L 559.224 343.302 
L 560.258 343.114 
L 561.908 342.815 
L 564.5 342.068 
L 564.707 342.063 
L 564.750 342.101 
L 566.746 342.233 
L 567.394 342.473 
L 568.507 342.650 
L 570.206 342.567 
L 570.404 342.808 
L 571.5 343.344 
L 571.827 343.507 
L 571.918 343.533 
L 578.5 337.5 
L 578.5 335.166 
L 578.5 332.833 
L 578.5 330.5 
L 578.5 328.166 
L 578.5 325.833 
L 578.5 323.5 
L 578.5 321.166 
L 578.5 318.833 
L 578.5 316.5 
L 578.5 314.166 
L 578.5 311.833 
L 578.5 309.5 
L 578.5 307.166 
L 578.5 304.833 
L 578.5 302.5 
L 578.5 300.166 
L 578.5 297.833 
L 578.5 295.5 
L 578.5 293.166 
L 578.5 290.833 
L 578.5 289.406 
L 576.271 291.792 
L 575.399 293.277 
L 574.136 295.151 
L 573.076 297.573 
L 572.777 298.242 
L 571.782 301.121 
L 571.748 301.232 
L 571.5 301.701 
L 570.042 304.630 
L 569.790 305.416 
L 569.030 307.728 
L 568.665 309.011 
L 568.290 310.718 
L 567.856 312.359 
L 567.661 313.677 
L 567.155 315.640 
L 567.066 316.646 
L 566.444 318.965 
L 566.420 319.676 
L 565.597 322.465 
L 565.602 322.854 
L 564.5 325.310 
L 561.417 326.925 
L 557.5 329.963 
L 555.204 330.846 
L 550.5 333.812 
L 549.159 334.541 
L 543.5 338.020 
L 542.987 338.333 
L 539.837 340.210 
L 537.303 341.551 
L 536.5 342.034 
L 531.763 344.564 
L 529.5 345.975 
L 525.222 348.684 
L 522.5 350.426 
L 518.259 353.288 
L 515.5 355.102 
L 510.845 358.444 
L 508.5 360.020 
L 502.790 364.422 
L 501.5 365.317 
L 496.290 369.543 
L 494.5 370.914 
L 494.204 371.140 
L 487.5 375.973 
L 486.610 376.663 
L 480.5 381.104 
L 478.943 382.315 
L 473.5 386.238 
L 471.402 387.823 
L 466.5 391.267 
L 464.193 392.886 
L 459.5 395.989 
L 457.499 397.216 
L 452.5 400.231 
L 451.246 400.882 
L 445.5 403.928 
L 445.336 404.000 
L 445.162 403.984 
L 441.953 403.399 
L 438.5 404.672 
L 437.056 404.890 
L 435.340 404.787 
L 433.461 404.400 
L 431.5 404.740 
L 429.514 404.338 
L 427.401 403.936 
L 426.051 403.471 
L 424.5 403.484 
L 422.508 402.647 
L 420.905 401.832 
L 419.464 400.992 
L 417.5 400.830 
L 415.197 401.069 
L 410.5 402.073 
L 410.5 408.083 
L 410.5 414.5 
L 410.5 420.916 
L 410.5 427.333 
L 410.5 433.75 
L 410.5 440.166 
L 410.5 446.583 
L 410.5 453 
L 410.5 459.416 
L 410.5 465.833 
L 410.5 472.25 
L 410.5 478.666 
L 410.5 485.083 
L 410.5 491.5 
L 417.5 485.083 
L 424.5 478.666 
L 431.5 472.25 
L 438.5 465.833 
L 445.5 459.416 
L 452.5 453 
z
" clip-path="url(#pb37a476ae2)" style="fill: #de614d; stroke: #de614d; stroke-width: 0.6"/>
<path d="M 515.392 395.348 
L 515.5 395.226 
L 515.546 395.182 
L 522.5 388.381 
L 523.245 387.774 
L 528.498 383.334 
L 529.5 382.416 
L 536.5 376 
L 543.5 369.583 
L 550.5 363.166 
L 557.5 356.75 
L 564.5 350.333 
L 571.5 343.916 
L 571.918 343.533 
L 571.827 343.507 
L 571.5 343.344 
L 570.404 342.808 
L 570.206 342.567 
L 568.507 342.650 
L 567.394 342.473 
L 566.746 342.233 
L 564.750 342.101 
L 564.707 342.063 
L 564.5 342.068 
L 561.908 342.815 
L 560.258 343.114 
L 559.224 343.302 
L 557.5 343.668 
L 555.957 344.422 
L 554.301 345.074 
L 552.269 345.970 
L 550.5 346.660 
L 548.059 348.074 
L 543.598 350.403 
L 543.532 350.439 
L 543.5 350.456 
L 538.182 353.813 
L 536.5 354.810 
L 532.480 357.545 
L 529.5 359.487 
L 526.330 361.785 
L 522.5 364.450 
L 519.737 366.559 
L 515.5 369.687 
L 512.640 371.981 
L 508.5 375.192 
L 505.017 378.114 
L 501.5 380.981 
L 496.766 385.140 
L 494.5 387.069 
L 487.844 393.164 
L 487.5 393.470 
L 486.526 394.396 
L 480.5 400.380 
L 477.010 404.167 
L 473.5 407.806 
L 469.007 412.895 
L 466.5 416.127 
L 460.501 424.860 
L 459.5 427.009 
L 457.155 432.884 
L 457.345 434.385 
L 456.597 438.651 
L 457.261 439.800 
L 457.442 443.193 
L 457.737 444.289 
L 458.029 447.931 
L 459.5 446.583 
L 466.5 440.166 
L 473.5 433.75 
L 480.5 427.333 
L 487.5 420.916 
L 494.5 414.5 
L 501.5 408.083 
L 508.5 401.666 
z
" clip-path="url(#pb37a476ae2)" style="fill: #c32e31; stroke: #c32e31; stroke-width: 0.6"/>
<path d="M 528.498 383.334 
L 523.245 387.774 
L 522.5 388.381 
L 515.546 395.182 
L 515.5 395.226 
L 515.392 395.348 
L 515.5 395.25 
L 522.5 388.833 
z
" clip-path="url(#pb37a476ae2)" style="fill: #b40426; stroke: #b40426; stroke-width: 0.6"/>
</g>
<g id="matplotlib.axis_13">
<g id="xtick_10">
<g id="line2d_105">
<g>
<path d="M 0 0  L 0 5.833  " transform="translate(411.5 491.5)" style="stroke: #000000; stroke-width: 1.333"/>
</g>
</g>
<g id="text_66">
<text style="font-size: 13.33px; font-family: 'DejaVu Sans', sans-serif; text-anchor: middle" x="411.5" y="513.862" transform="rotate(0 411.5 513.862)">0.00</text>
</g>
</g>
<g id="xtick_11">
<g id="line2d_106">
<g>
<path d="M 0 0  L 0 5.833  " transform="translate(481.5 491.5)" style="stroke: #000000; stroke-width: 1.333"/>
</g>
</g>
<g id="text_67">
<text style="font-size: 13.33px; font-family: 'DejaVu Sans', sans-serif; text-anchor: middle" x="481.5" y="513.862" transform="rotate(0 481.5 513.862)">0.02</text>
</g>
</g>
<g id="xtick_12">
<g id="line2d_107">
<g>
<path d="M 0 0  L 0 5.833  " transform="translate(551.5 491.5)" style="stroke: #000000; stroke-width: 1.333"/>
</g>
</g>
<g id="text_68">
<text style="font-size: 13.33px; font-family: 'DejaVu Sans', sans-serif; text-anchor: middle" x="551.5" y="513.862" transform="rotate(0 551.5 513.862)">0.04</text>
</g>
</g>
<g id="text_69">
<text style="font-size: 13.89px; font-family: 'DejaVu Sans', sans-serif; text-anchor: middle" x="495.5" y="534.988" transform="rotate(0 495.5 534.988)">x / m</text>
</g>
</g>
<g id="matplotlib.axis_14">
<g id="ytick_62">
<g id="line2d_108">
<g>
<path d="M 0 0  L -5.833 0  " transform="translate(411.5 491.5)" style="stroke: #000000; stroke-width: 1.333"/>
</g>
</g>
</g>
<g id="ytick_63">
<g id="line2d_109">
<g>
<path d="M 0 0  L -5.833 0  " transform="translate(411.5 456.5)" style="stroke: #000000; stroke-width: 1.333"/>
</g>
</g>
</g>
<g id="ytick_64">
<g id="line2d_110">
<g>
<path d="M 0 0  L -5.833 0  " transform="translate(411.5 421.5)" style="stroke: #000000; stroke-width: 1.333"/>
</g>
</g>
</g>
<g id="ytick_65">
<g id="line2d_111">
<g>
<path d="M 0 0  L -5.833 0  " transform="translate(411.5 386.5)" style="stroke: #000000; stroke-width: 1.333"/>
</g>
</g>
</g>
<g id="ytick_66">
<g id="line2d_112">
<g>
<path d="M 0 0  L -5.833 0  " transform="translate(411.5 351.5)" style="stroke: #000000; stroke-width: 1.333"/>
</g>
</g>
</g>
<g id="ytick_67">
<g id="line2d_113">
<g>
<path d="M 0 0  L -5.833 0  " transform="translate(411.5 316.5)" style="stroke: #000000; stroke-width: 1.333"/>
</g>
</g>
</g>
<g id="ytick_68">
<g id="line2d_114">
<g>
<path d="M 0 0  L -5.833 0  " transform="translate(411.5 281.5)" style="stroke: #000000; stroke-width: 1.333"/>
</g>
</g>
</g>
</g>
<g id="patch_71">
<path d="M 411.5 491.5 
L 411.5 281.5 
" style="fill: none; stroke: #000000; stroke-width: 1.333; stroke-linejoin: miter; stroke-linecap: square"/>
</g>
<g id="patch_72">
<path d="M 579.5 491.5 
L 579.5 281.5 
" style="fill: none; stroke: #000000; stroke-width: 1.333; stroke-linejoin: miter; stroke-linecap: square"/>
</g>
<g id="patch_73">
<path d="M 411.5 491.5 
L 579.5 491.5 
" style="fill: none; stroke: #000000; stroke-width: 1.333; stroke-linejoin: miter; stroke-linecap: square"/>
</g>
<g id="patch_74">
<path d="M 411.5 281.5 
L 579.5 281.5 
" style="fill: none; stroke: #000000; stroke-width: 1.333; stroke-linejoin: miter; stroke-linecap: square"/>
</g>
<g id="LineCollection_4">
<path d="M 410.5 491.5 
L 417.5 485.083 
L 424.5 478.666 
L 431.5 472.25 
L 438.5 465.833 
L 445.5 459.416 
L 452.5 453 
L 459.5 446.583 
L 466.5 440.166 
L 473.5 433.75 
L 480.5 427.333 
L 487.5 420.916 
L 494.5 414.5 
L 501.5 408.083 
L 508.5 401.666 
L 515.5 395.25 
L 522.5 388.833 
L 529.5 382.416 
L 536.5 376 
L 543.5 369.583 
L 550.5 363.166 
L 557.5 356.75 
L 564.5 350.333 
L 571.5 343.916 
L 578.5 337.5 
" clip-path="url(#pb37a476ae2)" style="fill: none; stroke: #000000; stroke-width: 1.05; stroke-linejoin: miter"/>
<path d="M 410.5 485.083 
L 417.5 478.836 
L 424.5 472.590 
L 431.5 466.343 
L 438.5 460.097 
L 445.5 453.850 
L 452.5 447.604 
L 459.5 441.357 
L 466.5 435.111 
L 473.5 428.864 
L 480.5 422.618 
L 487.5 416.371 
L 494.5 410.125 
L 501.5 403.878 
L 508.5 397.631 
L 515.5 391.385 
L 522.5 385.138 
L 529.5 378.892 
L 536.5 372.645 
L 543.5 366.399 
L 550.5 360.152 
L 557.5 353.906 
L 564.5 347.659 
L 571.5 341.413 
L 578.5 335.166 
" clip-path="url(#pb37a476ae2)" style="fill: none; stroke: #000000; stroke-width: 1.05; stroke-linejoin: miter"/>
<path d="M 410.5 478.666 
L 417.5 472.590 
L 424.5 466.513 
L 431.5 460.437 
L 438.5 454.361 
L 445.5 448.284 
L 452.5 442.208 
L 459.5 436.131 
L 466.5 430.055 
L 473.5 423.979 
L 480.5 417.902 
L 487.5 411.826 
L 494.5 405.75 
L 501.5 399.673 
L 508.5 393.597 
L 515.5 387.520 
L 522.5 381.444 
L 529.5 375.368 
L 536.5 369.291 
L 543.5 363.215 
L 550.5 357.138 
L 557.5 351.062 
L 564.5 344.986 
L 571.5 338.909 
L 578.5 332.833 
" clip-path="url(#pb37a476ae2)" style="fill: none; stroke: #000000; stroke-width: 1.05; stroke-linejoin: miter"/>
<path d="M 410.5 472.25 
L 417.5 466.343 
L 424.5 460.437 
L 431.5 454.531 
L 438.5 448.625 
L 445.5 442.718 
L 452.5 436.812 
L 459.5 430.906 
L 466.5 425 
L 473.5 419.093 
L 480.5 413.187 
L 487.5 407.281 
L 494.5 401.375 
L 501.5 395.468 
L 508.5 389.562 
L 515.5 383.656 
L 522.5 377.75 
L 529.5 371.843 
L 536.5 365.937 
L 543.5 360.031 
L 550.5 354.125 
L 557.5 348.218 
L 564.5 342.312 
L 571.5 336.406 
L 578.5 330.5 
" clip-path="url(#pb37a476ae2)" style="fill: none; stroke: #000000; stroke-width: 1.05; stroke-linejoin: miter"/>
<path d="M 410.5 465.833 
L 417.5 460.097 
L 424.5 454.361 
L 431.5 448.625 
L 438.5 442.888 
L 445.5 437.152 
L 452.5 431.416 
L 459.5 425.680 
L 466.5 419.944 
L 473.5 414.208 
L 480.5 408.472 
L 487.5 402.736 
L 494.5 397 
L 501.5 391.263 
L 508.5 385.527 
L 515.5 379.791 
L 522.5 374.055 
L 529.5 368.319 
L 536.5 362.583 
L 543.5 356.847 
L 550.5 351.111 
L 557.5 345.375 
L 564.5 339.638 
L 571.5 333.902 
L 578.5 328.166 
" clip-path="url(#pb37a476ae2)" style="fill: none; stroke: #000000; stroke-width: 1.05; stroke-linejoin: miter"/>
<path d="M 410.5 459.416 
L 417.5 453.850 
L 424.5 448.284 
L 431.5 442.718 
L 438.5 437.152 
L 445.5 431.586 
L 452.5 426.020 
L 459.5 420.454 
L 466.5 414.888 
L 473.5 409.322 
L 480.5 403.756 
L 487.5 398.190 
L 494.5 392.625 
L 501.5 387.059 
L 508.5 381.493 
L 515.5 375.927 
L 522.5 370.361 
L 529.5 364.795 
L 536.5 359.229 
L 543.5 353.663 
L 550.5 348.097 
L 557.5 342.531 
L 564.5 336.965 
L 571.5 331.399 
L 578.5 325.833 
" clip-path="url(#pb37a476ae2)" style="fill: none; stroke: #000000; stroke-width: 1.05; stroke-linejoin: miter"/>
<path d="M 410.5 453 
L 417.5 447.604 
L 424.5 442.208 
L 431.5 436.812 
L 438.5 431.416 
L 445.5 426.020 
L 452.5 420.625 
L 459.5 415.229 
L 466.5 409.833 
L 473.5 404.437 
L 480.5 399.041 
L 487.5 393.645 
L 494.5 388.25 
L 501.5 382.854 
L 508.5 377.458 
L 515.5 372.062 
L 522.5 366.666 
L 529.5 361.270 
L 536.5 355.875 
L 543.5 350.479 
L 550.5 345.083 
L 557.5 339.687 
L 564.5 334.291 
L 571.5 328.895 
L 578.5 323.5 
" clip-path="url(#pb37a476ae2)" style="fill: none; stroke: #000000; stroke-width: 1.05; stroke-linejoin: miter"/>
<path d="M 410.5 446.583 
L 417.5 441.357 
L 424.5 436.131 
L 431.5 430.906 
L 438.5 425.680 
L 445.5 420.454 
L 452.5 415.229 
L 459.5 410.003 
L 466.5 404.777 
L 473.5 399.552 
L 480.5 394.326 
L 487.5 389.100 
L 494.5 383.875 
L 501.5 378.649 
L 508.5 373.423 
L 515.5 368.197 
L 522.5 362.972 
L 529.5 357.746 
L 536.5 352.520 
L 543.5 347.295 
L 550.5 342.069 
L 557.5 336.843 
L 564.5 331.618 
L 571.5 326.392 
L 578.5 321.166 
" clip-path="url(#pb37a476ae2)" style="fill: none; stroke: #000000; stroke-width: 1.05; stroke-linejoin: miter"/>
<path d="M 410.5 440.166 
L 417.5 435.111 
L 424.5 430.055 
L 431.5 425 
L 438.5 419.944 
L 445.5 414.888 
L 452.5 409.833 
L 459.5 404.777 
L 466.5 399.722 
L 473.5 394.666 
L 480.5 389.611 
L 487.5 384.555 
L 494.5 379.5 
L 501.5 374.444 
L 508.5 369.388 
L 515.5 364.333 
L 522.5 359.277 
L 529.5 354.222 
L 536.5 349.166 
L 543.5 344.111 
L 550.5 339.055 
L 557.5 334 
L 564.5 328.944 
L 571.5 323.888 
L 578.5 318.833 
" clip-path="url(#pb37a476ae2)" style="fill: none; stroke: #000000; stroke-width: 1.05; stroke-linejoin: miter"/>
<path d="M 410.5 433.75 
L 417.5 428.864 
L 424.5 423.979 
L 431.5 419.093 
L 438.5 414.208 
L 445.5 409.322 
L 452.5 404.437 
L 459.5 399.552 
L 466.5 394.666 
L 473.5 389.781 
L 480.5 384.895 
L 487.5 380.010 
L 494.5 375.125 
L 501.5 370.239 
L 508.5 365.354 
L 515.5 360.468 
L 522.5 355.583 
L 529.5 350.697 
L 536.5 345.812 
L 543.5 340.927 
L 550.5 336.041 
L 557.5 331.156 
L 564.5 326.270 
L 571.5 321.385 
L 578.5 316.5 
" clip-path="url(#pb37a476ae2)" style="fill: none; stroke: #000000; stroke-width: 1.05; stroke-linejoin: miter"/>
<path d="M 410.5 427.333 
L 417.5 422.618 
L 424.5 417.902 
L 431.5 413.187 
L 438.5 408.472 
L 445.5 403.756 
L 452.5 399.041 
L 459.5 394.326 
L 466.5 389.611 
L 473.5 384.895 
L 480.5 380.180 
L 487.5 375.465 
L 494.5 370.75 
L 501.5 366.034 
L 508.5 361.319 
L 515.5 356.604 
L 522.5 351.888 
L 529.5 347.173 
L 536.5 342.458 
L 543.5 337.743 
L 550.5 333.027 
L 557.5 328.312 
L 564.5 323.597 
L 571.5 318.881 
L 578.5 314.166 
" clip-path="url(#pb37a476ae2)" style="fill: none; stroke: #000000; stroke-width: 1.05; stroke-linejoin: miter"/>
<path d="M 410.5 420.916 
L 417.5 416.371 
L 424.5 411.826 
L 431.5 407.281 
L 438.5 402.736 
L 445.5 398.190 
L 452.5 393.645 
L 459.5 389.100 
L 466.5 384.555 
L 473.5 380.010 
L 480.5 375.465 
L 487.5 370.920 
L 494.5 366.375 
L 501.5 361.829 
L 508.5 357.284 
L 515.5 352.739 
L 522.5 348.194 
L 529.5 343.649 
L 536.5 339.104 
L 543.5 334.559 
L 550.5 330.013 
L 557.5 325.468 
L 564.5 320.923 
L 571.5 316.378 
L 578.5 311.833 
" clip-path="url(#pb37a476ae2)" style="fill: none; stroke: #000000; stroke-width: 1.05; stroke-linejoin: miter"/>
<path d="M 410.5 414.5 
L 417.5 410.125 
L 424.5 405.75 
L 431.5 401.375 
L 438.5 397 
L 445.5 392.625 
L 452.5 388.25 
L 459.5 383.875 
L 466.5 379.5 
L 473.5 375.125 
L 480.5 370.75 
L 487.5 366.375 
L 494.5 362 
L 501.5 357.625 
L 508.5 353.25 
L 515.5 348.875 
L 522.5 344.5 
L 529.5 340.125 
L 536.5 335.75 
L 543.5 331.375 
L 550.5 327 
L 557.5 322.625 
L 564.5 318.25 
L 571.5 313.875 
L 578.5 309.5 
" clip-path="url(#pb37a476ae2)" style="fill: none; stroke: #000000; stroke-width: 1.05; stroke-linejoin: miter"/>
<path d="M 410.5 408.083 
L 417.5 403.878 
L 424.5 399.673 
L 431.5 395.468 
L 438.5 391.263 
L 445.5 387.059 
L 452.5 382.854 
L 459.5 378.649 
L 466.5 374.444 
L 473.5 370.239 
L 480.5 366.034 
L 487.5 361.829 
L 494.5 357.625 
L 501.5 353.420 
L 508.5 349.215 
L 515.5 345.010 
L 522.5 340.805 
L 529.5 336.600 
L 536.5 332.395 
L 543.5 328.190 
L 550.5 323.986 
L 557.5 319.781 
L 564.5 315.576 
L 571.5 311.371 
L 578.5 307.166 
" clip-path="url(#pb37a476ae2)" style="fill: none; stroke: #000000; stroke-width: 1.05; stroke-linejoin: miter"/>
<path d="M 410.5 401.666 
L 417.5 397.631 
L 424.5 393.597 
L 431.5 389.562 
L 438.5 385.527 
L 445.5 381.493 
L 452.5 377.458 
L 459.5 373.423 
L 466.5 369.388 
L 473.5 365.354 
L 480.5 361.319 
L 487.5 357.284 
L 494.5 353.25 
L 501.5 349.215 
L 508.5 345.180 
L 515.5 341.145 
L 522.5 337.111 
L 529.5 333.076 
L 536.5 329.041 
L 543.5 325.006 
L 550.5 320.972 
L 557.5 316.937 
L 564.5 312.902 
L 571.5 308.868 
L 578.5 304.833 
" clip-path="url(#pb37a476ae2)" style="fill: none; stroke: #000000; stroke-width: 1.05; stroke-linejoin: miter"/>
<path d="M 410.5 395.25 
L 417.5 391.385 
L 424.5 387.520 
L 431.5 383.656 
L 438.5 379.791 
L 445.5 375.927 
L 452.5 372.062 
L 459.5 368.197 
L 466.5 364.333 
L 473.5 360.468 
L 480.5 356.604 
L 487.5 352.739 
L 494.5 348.875 
L 501.5 345.010 
L 508.5 341.145 
L 515.5 337.281 
L 522.5 333.416 
L 529.5 329.552 
L 536.5 325.687 
L 543.5 321.822 
L 550.5 317.958 
L 557.5 314.093 
L 564.5 310.229 
L 571.5 306.364 
L 578.5 302.5 
" clip-path="url(#pb37a476ae2)" style="fill: none; stroke: #000000; stroke-width: 1.05; stroke-linejoin: miter"/>
<path d="M 410.5 388.833 
L 417.5 385.138 
L 424.5 381.444 
L 431.5 377.75 
L 438.5 374.055 
L 445.5 370.361 
L 452.5 366.666 
L 459.5 362.972 
L 466.5 359.277 
L 473.5 355.583 
L 480.5 351.888 
L 487.5 348.194 
L 494.5 344.5 
L 501.5 340.805 
L 508.5 337.111 
L 515.5 333.416 
L 522.5 329.722 
L 529.5 326.027 
L 536.5 322.333 
L 543.5 318.638 
L 550.5 314.944 
L 557.5 311.25 
L 564.5 307.555 
L 571.5 303.861 
L 578.5 300.166 
" clip-path="url(#pb37a476ae2)" style="fill: none; stroke: #000000; stroke-width: 1.05; stroke-linejoin: miter"/>
<path d="M 410.5 382.416 
L 417.5 378.892 
L 424.5 375.368 
L 431.5 371.843 
L 438.5 368.319 
L 445.5 364.795 
L 452.5 361.270 
L 459.5 357.746 
L 466.5 354.222 
L 473.5 350.697 
L 480.5 347.173 
L 487.5 343.649 
L 494.5 340.125 
L 501.5 336.600 
L 508.5 333.076 
L 515.5 329.552 
L 522.5 326.027 
L 529.5 322.503 
L 536.5 318.979 
L 543.5 315.454 
L 550.5 311.930 
L 557.5 308.406 
L 564.5 304.881 
L 571.5 301.357 
L 578.5 297.833 
" clip-path="url(#pb37a476ae2)" style="fill: none; stroke: #000000; stroke-width: 1.05; stroke-linejoin: miter"/>
<path d="M 410.5 376 
L 417.5 372.645 
L 424.5 369.291 
L 431.5 365.937 
L 438.5 362.583 
L 445.5 359.229 
L 452.5 355.875 
L 459.5 352.520 
L 466.5 349.166 
L 473.5 345.812 
L 480.5 342.458 
L 487.5 339.104 
L 494.5 335.75 
L 501.5 332.395 
L 508.5 329.041 
L 515.5 325.687 
L 522.5 322.333 
L 529.5 318.979 
L 536.5 315.625 
L 543.5 312.270 
L 550.5 308.916 
L 557.5 305.562 
L 564.5 302.208 
L 571.5 298.854 
L 578.5 295.5 
" clip-path="url(#pb37a476ae2)" style="fill: none; stroke: #000000; stroke-width: 1.05; stroke-linejoin: miter"/>
<path d="M 410.5 369.583 
L 417.5 366.399 
L 424.5 363.215 
L 431.5 360.031 
L 438.5 356.847 
L 445.5 353.663 
L 452.5 350.479 
L 459.5 347.295 
L 466.5 344.111 
L 473.5 340.927 
L 480.5 337.743 
L 487.5 334.559 
L 494.5 331.375 
L 501.5 328.190 
L 508.5 325.006 
L 515.5 321.822 
L 522.5 318.638 
L 529.5 315.454 
L 536.5 312.270 
L 543.5 309.086 
L 550.5 305.902 
L 557.5 302.718 
L 564.5 299.534 
L 571.5 296.350 
L 578.5 293.166 
" clip-path="url(#pb37a476ae2)" style="fill: none; stroke: #000000; stroke-width: 1.05; stroke-linejoin: miter"/>
<path d="M 410.5 363.166 
L 417.5 360.152 
L 424.5 357.138 
L 431.5 354.125 
L 438.5 351.111 
L 445.5 348.097 
L 452.5 345.083 
L 459.5 342.069 
L 466.5 339.055 
L 473.5 336.041 
L 480.5 333.027 
L 487.5 330.013 
L 494.5 327 
L 501.5 323.986 
L 508.5 320.972 
L 515.5 317.958 
L 522.5 314.944 
L 529.5 311.930 
L 536.5 308.916 
L 543.5 305.902 
L 550.5 302.888 
L 557.5 299.875 
L 564.5 296.861 
L 571.5 293.847 
L 578.5 290.833 
" clip-path="url(#pb37a476ae2)" style="fill: none; stroke: #000000; stroke-width: 1.05; stroke-linejoin: miter"/>
<path d="M 410.5 356.75 
L 417.5 353.906 
L 424.5 351.062 
L 431.5 348.218 
L 438.5 345.375 
L 445.5 342.531 
L 452.5 339.687 
L 459.5 336.843 
L 466.5 334 
L 473.5 331.156 
L 480.5 328.312 
L 487.5 325.468 
L 494.5 322.625 
L 501.5 319.781 
L 508.5 316.937 
L 515.5 314.093 
L 522.5 311.25 
L 529.5 308.406 
L 536.5 305.562 
L 543.5 302.718 
L 550.5 299.875 
L 557.5 297.031 
L 564.5 294.187 
L 571.5 291.343 
L 578.5 288.5 
" clip-path="url(#pb37a476ae2)" style="fill: none; stroke: #000000; stroke-width: 1.05; stroke-linejoin: miter"/>
<path d="M 410.5 350.333 
L 417.5 347.659 
L 424.5 344.986 
L 431.5 342.312 
L 438.5 339.638 
L 445.5 336.965 
L 452.5 334.291 
L 459.5 331.618 
L 466.5 328.944 
L 473.5 326.270 
L 480.5 323.597 
L 487.5 320.923 
L 494.5 318.25 
L 501.5 315.576 
L 508.5 312.902 
L 515.5 310.229 
L 522.5 307.555 
L 529.5 304.881 
L 536.5 302.208 
L 543.5 299.534 
L 550.5 296.861 
L 557.5 294.187 
L 564.5 291.513 
L 571.5 288.840 
L 578.5 286.166 
" clip-path="url(#pb37a476ae2)" style="fill: none; stroke: #000000; stroke-width: 1.05; stroke-linejoin: miter"/>
<path d="M 410.5 343.916 
L 417.5 341.413 
L 424.5 338.909 
L 431.5 336.406 
L 438.5 333.902 
L 445.5 331.399 
L 452.5 328.895 
L 459.5 326.392 
L 466.5 323.888 
L 473.5 321.385 
L 480.5 318.881 
L 487.5 316.378 
L 494.5 313.875 
L 501.5 311.371 
L 508.5 308.868 
L 515.5 306.364 
L 522.5 303.861 
L 529.5 301.357 
L 536.5 298.854 
L 543.5 296.350 
L 550.5 293.847 
L 557.5 291.343 
L 564.5 288.840 
L 571.5 286.336 
L 578.5 283.833 
" clip-path="url(#pb37a476ae2)" style="fill: none; stroke: #000000; stroke-width: 1.05; stroke-linejoin: miter"/>
<path d="M 410.5 337.5 
L 417.5 335.166 
L 424.5 332.833 
L 431.5 330.5 
L 438.5 328.166 
L 445.5 325.833 
L 452.5 323.5 
L 459.5 321.166 
L 466.5 318.833 
L 473.5 316.5 
L 480.5 314.166 
L 487.5 311.833 
L 494.5 309.5 
L 501.5 307.166 
L 508.5 304.833 
L 515.5 302.5 
L 522.5 300.166 
L 529.5 297.833 
L 536.5 295.5 
L 543.5 293.166 
L 550.5 290.833 
L 557.5 288.5 
L 564.5 286.166 
L 571.5 283.833 
L 578.5 281.5 
" clip-path="url(#pb37a476ae2)" style="fill: none; stroke: #000000; stroke-width: 1.05; stroke-linejoin: miter"/>
<path d="M 410.5 491.5 
L 410.5 485.083 
L 410.5 478.666 
L 410.5 472.25 
L 410.5 465.833 
L 410.5 459.416 
L 410.5 453 
L 410.5 446.583 
L 410.5 440.166 
L 410.5 433.75 
L 410.5 427.333 
L 410.5 420.916 
L 410.5 414.5 
L 410.5 408.083 
L 410.5 401.666 
L 410.5 395.25 
L 410.5 388.833 
L 410.5 382.416 
L 410.5 376 
L 410.5 369.583 
L 410.5 363.166 
L 410.5 356.75 
L 410.5 350.333 
L 410.5 343.916 
L 410.5 337.5 
" clip-path="url(#pb37a476ae2)" style="fill: none; stroke: #000000; stroke-width: 1.05; stroke-linejoin: miter"/>
<path d="M 417.5 485.083 
L 417.5 478.836 
L 417.5 472.590 
L 417.5 466.343 
L 417.5 460.097 
L 417.5 453.850 
L 417.5 447.604 
L 417.5 441.357 
L 417.5 435.111 
L 417.5 428.864 
L 417.5 422.618 
L 417.5 416.371 
L 417.5 410.125 
L 417.5 403.878 
L 417.5 397.631 
L 417.5 391.385 
L 417.5 385.138 
L 417.5 378.892 
L 417.5 372.645 
L 417.5 366.399 
L 417.5 360.152 
L 417.5 353.906 
L 417.5 347.659 
L 417.5 341.413 
L 417.5 335.166 
" clip-path="url(#pb37a476ae2)" style="fill: none; stroke: #000000; stroke-width: 1.05; stroke-linejoin: miter"/>
<path d="M 424.5 478.666 
L 424.5 472.590 
L 424.5 466.513 
L 424.5 460.437 
L 424.5 454.361 
L 424.5 448.284 
L 424.5 442.208 
L 424.5 436.131 
L 424.5 430.055 
L 424.5 423.979 
L 424.5 417.902 
L 424.5 411.826 
L 424.5 405.75 
L 424.5 399.673 
L 424.5 393.597 
L 424.5 387.520 
L 424.5 381.444 
L 424.5 375.368 
L 424.5 369.291 
L 424.5 363.215 
L 424.5 357.138 
L 424.5 351.062 
L 424.5 344.986 
L 424.5 338.909 
L 424.5 332.833 
" clip-path="url(#pb37a476ae2)" style="fill: none; stroke: #000000; stroke-width: 1.05; stroke-linejoin: miter"/>
<path d="M 431.5 472.25 
L 431.5 466.343 
L 431.5 460.437 
L 431.5 454.531 
L 431.5 448.625 
L 431.5 442.718 
L 431.5 436.812 
L 431.5 430.906 
L 431.5 425 
L 431.5 419.093 
L 431.5 413.187 
L 431.5 407.281 
L 431.5 401.375 
L 431.5 395.468 
L 431.5 389.562 
L 431.5 383.656 
L 431.5 377.75 
L 431.5 371.843 
L 431.5 365.937 
L 431.5 360.031 
L 431.5 354.125 
L 431.5 348.218 
L 431.5 342.312 
L 431.5 336.406 
L 431.5 330.5 
" clip-path="url(#pb37a476ae2)" style="fill: none; stroke: #000000; stroke-width: 1.05; stroke-linejoin: miter"/>
<path d="M 438.5 465.833 
L 438.5 460.097 
L 438.5 454.361 
L 438.5 448.625 
L 438.5 442.888 
L 438.5 437.152 
L 438.5 431.416 
L 438.5 425.680 
L 438.5 419.944 
L 438.5 414.208 
L 438.5 408.472 
L 438.5 402.736 
L 438.5 397 
L 438.5 391.263 
L 438.5 385.527 
L 438.5 379.791 
L 438.5 374.055 
L 438.5 368.319 
L 438.5 362.583 
L 438.5 356.847 
L 438.5 351.111 
L 438.5 345.375 
L 438.5 339.638 
L 438.5 333.902 
L 438.5 328.166 
" clip-path="url(#pb37a476ae2)" style="fill: none; stroke: #000000; stroke-width: 1.05; stroke-linejoin: miter"/>
<path d="M 445.5 459.416 
L 445.5 453.850 
L 445.5 448.284 
L 445.5 442.718 
L 445.5 437.152 
L 445.5 431.586 
L 445.5 426.020 
L 445.5 420.454 
L 445.5 414.888 
L 445.5 409.322 
L 445.5 403.756 
L 445.5 398.190 
L 445.5 392.625 
L 445.5 387.059 
L 445.5 381.493 
L 445.5 375.927 
L 445.5 370.361 
L 445.5 364.795 
L 445.5 359.229 
L 445.5 353.663 
L 445.5 348.097 
L 445.5 342.531 
L 445.5 336.965 
L 445.5 331.399 
L 445.5 325.833 
" clip-path="url(#pb37a476ae2)" style="fill: none; stroke: #000000; stroke-width: 1.05; stroke-linejoin: miter"/>
<path d="M 452.5 453 
L 452.5 447.604 
L 452.5 442.208 
L 452.5 436.812 
L 452.5 431.416 
L 452.5 426.020 
L 452.5 420.625 
L 452.5 415.229 
L 452.5 409.833 
L 452.5 404.437 
L 452.5 399.041 
L 452.5 393.645 
L 452.5 388.25 
L 452.5 382.854 
L 452.5 377.458 
L 452.5 372.062 
L 452.5 366.666 
L 452.5 361.270 
L 452.5 355.875 
L 452.5 350.479 
L 452.5 345.083 
L 452.5 339.687 
L 452.5 334.291 
L 452.5 328.895 
L 452.5 323.5 
" clip-path="url(#pb37a476ae2)" style="fill: none; stroke: #000000; stroke-width: 1.05; stroke-linejoin: miter"/>
<path d="M 459.5 446.583 
L 459.5 441.357 
L 459.5 436.131 
L 459.5 430.906 
L 459.5 425.680 
L 459.5 420.454 
L 459.5 415.229 
L 459.5 410.003 
L 459.5 404.777 
L 459.5 399.552 
L 459.5 394.326 
L 459.5 389.100 
L 459.5 383.875 
L 459.5 378.649 
L 459.5 373.423 
L 459.5 368.197 
L 459.5 362.972 
L 459.5 357.746 
L 459.5 352.520 
L 459.5 347.295 
L 459.5 342.069 
L 459.5 336.843 
L 459.5 331.618 
L 459.5 326.392 
L 459.5 321.166 
" clip-path="url(#pb37a476ae2)" style="fill: none; stroke: #000000; stroke-width: 1.05; stroke-linejoin: miter"/>
<path d="M 466.5 440.166 
L 466.5 435.111 
L 466.5 430.055 
L 466.5 425 
L 466.5 419.944 
L 466.5 414.888 
L 466.5 409.833 
L 466.5 404.777 
L 466.5 399.722 
L 466.5 394.666 
L 466.5 389.611 
L 466.5 384.555 
L 466.5 379.5 
L 466.5 374.444 
L 466.5 369.388 
L 466.5 364.333 
L 466.5 359.277 
L 466.5 354.222 
L 466.5 349.166 
L 466.5 344.111 
L 466.5 339.055 
L 466.5 334 
L 466.5 328.944 
L 466.5 323.888 
L 466.5 318.833 
" clip-path="url(#pb37a476ae2)" style="fill: none; stroke: #000000; stroke-width: 1.05; stroke-linejoin: miter"/>
<path d="M 473.5 433.75 
L 473.5 428.864 
L 473.5 423.979 
L 473.5 419.093 
L 473.5 414.208 
L 473.5 409.322 
L 473.5 404.437 
L 473.5 399.552 
L 473.5 394.666 
L 473.5 389.781 
L 473.5 384.895 
L 473.5 380.010 
L 473.5 375.125 
L 473.5 370.239 
L 473.5 365.354 
L 473.5 360.468 
L 473.5 355.583 
L 473.5 350.697 
L 473.5 345.812 
L 473.5 340.927 
L 473.5 336.041 
L 473.5 331.156 
L 473.5 326.270 
L 473.5 321.385 
L 473.5 316.5 
" clip-path="url(#pb37a476ae2)" style="fill: none; stroke: #000000; stroke-width: 1.05; stroke-linejoin: miter"/>
<path d="M 480.5 427.333 
L 480.5 422.618 
L 480.5 417.902 
L 480.5 413.187 
L 480.5 408.472 
L 480.5 403.756 
L 480.5 399.041 
L 480.5 394.326 
L 480.5 389.611 
L 480.5 384.895 
L 480.5 380.180 
L 480.5 375.465 
L 480.5 370.75 
L 480.5 366.034 
L 480.5 361.319 
L 480.5 356.604 
L 480.5 351.888 
L 480.5 347.173 
L 480.5 342.458 
L 480.5 337.743 
L 480.5 333.027 
L 480.5 328.312 
L 480.5 323.597 
L 480.5 318.881 
L 480.5 314.166 
" clip-path="url(#pb37a476ae2)" style="fill: none; stroke: #000000; stroke-width: 1.05; stroke-linejoin: miter"/>
<path d="M 487.5 420.916 
L 487.5 416.371 
L 487.5 411.826 
L 487.5 407.281 
L 487.5 402.736 
L 487.5 398.190 
L 487.5 393.645 
L 487.5 389.100 
L 487.5 384.555 
L 487.5 380.010 
L 487.5 375.465 
L 487.5 370.920 
L 487.5 366.375 
L 487.5 361.829 
L 487.5 357.284 
L 487.5 352.739 
L 487.5 348.194 
L 487.5 343.649 
L 487.5 339.104 
L 487.5 334.559 
L 487.5 330.013 
L 487.5 325.468 
L 487.5 320.923 
L 487.5 316.378 
L 487.5 311.833 
" clip-path="url(#pb37a476ae2)" style="fill: none; stroke: #000000; stroke-width: 1.05; stroke-linejoin: miter"/>
<path d="M 494.5 414.5 
L 494.5 410.125 
L 494.5 405.75 
L 494.5 401.375 
L 494.5 397 
L 494.5 392.625 
L 494.5 388.25 
L 494.5 383.875 
L 494.5 379.5 
L 494.5 375.125 
L 494.5 370.75 
L 494.5 366.375 
L 494.5 362 
L 494.5 357.625 
L 494.5 353.25 
L 494.5 348.875 
L 494.5 344.5 
L 494.5 340.125 
L 494.5 335.75 
L 494.5 331.375 
L 494.5 327 
L 494.5 322.625 
L 494.5 318.25 
L 494.5 313.875 
L 494.5 309.5 
" clip-path="url(#pb37a476ae2)" style="fill: none; stroke: #000000; stroke-width: 1.05; stroke-linejoin: miter"/>
<path d="M 501.5 408.083 
L 501.5 403.878 
L 501.5 399.673 
L 501.5 395.468 
L 501.5 391.263 
L 501.5 387.059 
L 501.5 382.854 
L 501.5 378.649 
L 501.5 374.444 
L 501.5 370.239 
L 501.5 366.034 
L 501.5 361.829 
L 501.5 357.625 
L 501.5 353.420 
L 501.5 349.215 
L 501.5 345.010 
L 501.5 340.805 
L 501.5 336.600 
L 501.5 332.395 
L 501.5 328.190 
L 501.5 323.986 
L 501.5 319.781 
L 501.5 315.576 
L 501.5 311.371 
L 501.5 307.166 
" clip-path="url(#pb37a476ae2)" style="fill: none; stroke: #000000; stroke-width: 1.05; stroke-linejoin: miter"/>
<path d="M 508.5 401.666 
L 508.5 397.631 
L 508.5 393.597 
L 508.5 389.562 
L 508.5 385.527 
L 508.5 381.493 
L 508.5 377.458 
L 508.5 373.423 
L 508.5 369.388 
L 508.5 365.354 
L 508.5 361.319 
L 508.5 357.284 
L 508.5 353.25 
L 508.5 349.215 
L 508.5 345.180 
L 508.5 341.145 
L 508.5 337.111 
L 508.5 333.076 
L 508.5 329.041 
L 508.5 325.006 
L 508.5 320.972 
L 508.5 316.937 
L 508.5 312.902 
L 508.5 308.868 
L 508.5 304.833 
" clip-path="url(#pb37a476ae2)" style="fill: none; stroke: #000000; stroke-width: 1.05; stroke-linejoin: miter"/>
<path d="M 515.5 395.25 
L 515.5 391.385 
L 515.5 387.520 
L 515.5 383.656 
L 515.5 379.791 
L 515.5 375.927 
L 515.5 372.062 
L 515.5 368.197 
L 515.5 364.333 
L 515.5 360.468 
L 515.5 356.604 
L 515.5 352.739 
L 515.5 348.875 
L 515.5 345.010 
L 515.5 341.145 
L 515.5 337.281 
L 515.5 333.416 
L 515.5 329.552 
L 515.5 325.687 
L 515.5 321.822 
L 515.5 317.958 
L 515.5 314.093 
L 515.5 310.229 
L 515.5 306.364 
L 515.5 302.5 
" clip-path="url(#pb37a476ae2)" style="fill: none; stroke: #000000; stroke-width: 1.05; stroke-linejoin: miter"/>
<path d="M 522.5 388.833 
L 522.5 385.138 
L 522.5 381.444 
L 522.5 377.75 
L 522.5 374.055 
L 522.5 370.361 
L 522.5 366.666 
L 522.5 362.972 
L 522.5 359.277 
L 522.5 355.583 
L 522.5 351.888 
L 522.5 348.194 
L 522.5 344.5 
L 522.5 340.805 
L 522.5 337.111 
L 522.5 333.416 
L 522.5 329.722 
L 522.5 326.027 
L 522.5 322.333 
L 522.5 318.638 
L 522.5 314.944 
L 522.5 311.25 
L 522.5 307.555 
L 522.5 303.861 
L 522.5 300.166 
" clip-path="url(#pb37a476ae2)" style="fill: none; stroke: #000000; stroke-width: 1.05; stroke-linejoin: miter"/>
<path d="M 529.5 382.416 
L 529.5 378.892 
L 529.5 375.368 
L 529.5 371.843 
L 529.5 368.319 
L 529.5 364.795 
L 529.5 361.270 
L 529.5 357.746 
L 529.5 354.222 
L 529.5 350.697 
L 529.5 347.173 
L 529.5 343.649 
L 529.5 340.125 
L 529.5 336.600 
L 529.5 333.076 
L 529.5 329.552 
L 529.5 326.027 
L 529.5 322.503 
L 529.5 318.979 
L 529.5 315.454 
L 529.5 311.930 
L 529.5 308.406 
L 529.5 304.881 
L 529.5 301.357 
L 529.5 297.833 
" clip-path="url(#pb37a476ae2)" style="fill: none; stroke: #000000; stroke-width: 1.05; stroke-linejoin: miter"/>
<path d="M 536.5 376 
L 536.5 372.645 
L 536.5 369.291 
L 536.5 365.937 
L 536.5 362.583 
L 536.5 359.229 
L 536.5 355.875 
L 536.5 352.520 
L 536.5 349.166 
L 536.5 345.812 
L 536.5 342.458 
L 536.5 339.104 
L 536.5 335.75 
L 536.5 332.395 
L 536.5 329.041 
L 536.5 325.687 
L 536.5 322.333 
L 536.5 318.979 
L 536.5 315.625 
L 536.5 312.270 
L 536.5 308.916 
L 536.5 305.562 
L 536.5 302.208 
L 536.5 298.854 
L 536.5 295.5 
" clip-path="url(#pb37a476ae2)" style="fill: none; stroke: #000000; stroke-width: 1.05; stroke-linejoin: miter"/>
<path d="M 543.5 369.583 
L 543.5 366.399 
L 543.5 363.215 
L 543.5 360.031 
L 543.5 356.847 
L 543.5 353.663 
L 543.5 350.479 
L 543.5 347.295 
L 543.5 344.111 
L 543.5 340.927 
L 543.5 337.743 
L 543.5 334.559 
L 543.5 331.375 
L 543.5 328.190 
L 543.5 325.006 
L 543.5 321.822 
L 543.5 318.638 
L 543.5 315.454 
L 543.5 312.270 
L 543.5 309.086 
L 543.5 305.902 
L 543.5 302.718 
L 543.5 299.534 
L 543.5 296.350 
L 543.5 293.166 
" clip-path="url(#pb37a476ae2)" style="fill: none; stroke: #000000; stroke-width: 1.05; stroke-linejoin: miter"/>
<path d="M 550.5 363.166 
L 550.5 360.152 
L 550.5 357.138 
L 550.5 354.125 
L 550.5 351.111 
L 550.5 348.097 
L 550.5 345.083 
L 550.5 342.069 
L 550.5 339.055 
L 550.5 336.041 
L 550.5 333.027 
L 550.5 330.013 
L 550.5 327 
L 550.5 323.986 
L 550.5 320.972 
L 550.5 317.958 
L 550.5 314.944 
L 550.5 311.930 
L 550.5 308.916 
L 550.5 305.902 
L 550.5 302.888 
L 550.5 299.875 
L 550.5 296.861 
L 550.5 293.847 
L 550.5 290.833 
" clip-path="url(#pb37a476ae2)" style="fill: none; stroke: #000000; stroke-width: 1.05; stroke-linejoin: miter"/>
<path d="M 557.5 356.75 
L 557.5 353.906 
L 557.5 351.062 
L 557.5 348.218 
L 557.5 345.375 
L 557.5 342.531 
L 557.5 339.687 
L 557.5 336.843 
L 557.5 334 
L 557.5 331.156 
L 557.5 328.312 
L 557.5 325.468 
L 557.5 322.625 
L 557.5 319.781 
L 557.5 316.937 
L 557.5 314.093 
L 557.5 311.25 
L 557.5 308.406 
L 557.5 305.562 
L 557.5 302.718 
L 557.5 299.875 
L 557.5 297.031 
L 557.5 294.187 
L 557.5 291.343 
L 557.5 288.5 
" clip-path="url(#pb37a476ae2)" style="fill: none; stroke: #000000; stroke-width: 1.05; stroke-linejoin: miter"/>
<path d="M 564.5 350.333 
L 564.5 347.659 
L 564.5 344.986 
L 564.5 342.312 
L 564.5 339.638 
L 564.5 336.965 
L 564.5 334.291 
L 564.5 331.618 
L 564.5 328.944 
L 564.5 326.270 
L 564.5 323.597 
L 564.5 320.923 
L 564.5 318.25 
L 564.5 315.576 
L 564.5 312.902 
L 564.5 310.229 
L 564.5 307.555 
L 564.5 304.881 
L 564.5 302.208 
L 564.5 299.534 
L 564.5 296.861 
L 564.5 294.187 
L 564.5 291.513 
L 564.5 288.840 
L 564.5 286.166 
" clip-path="url(#pb37a476ae2)" style="fill: none; stroke: #000000; stroke-width: 1.05; stroke-linejoin: miter"/>
<path d="M 571.5 343.916 
L 571.5 341.413 
L 571.5 338.909 
L 571.5 336.406 
L 571.5 333.902 
L 571.5 331.399 
L 571.5 328.895 
L 571.5 326.392 
L 571.5 323.888 
L 571.5 321.385 
L 571.5 318.881 
L 571.5 316.378 
L 571.5 313.875 
L 571.5 311.371 
L 571.5 308.868 
L 571.5 306.364 
L 571.5 303.861 
L 571.5 301.357 
L 571.5 298.854 
L 571.5 296.350 
L 571.5 293.847 
L 571.5 291.343 
L 571.5 288.840 
L 571.5 286.336 
L 571.5 283.833 
" clip-path="url(#pb37a476ae2)" style="fill: none; stroke: #000000; stroke-width: 1.05; stroke-linejoin: miter"/>
<path d="M 578.5 337.5 
L 578.5 335.166 
L 578.5 332.833 
L 578.5 330.5 
L 578.5 328.166 
L 578.5 325.833 
L 578.5 323.5 
L 578.5 321.166 
L 578.5 318.833 
L 578.5 316.5 
L 578.5 314.166 
L 578.5 311.833 
L 578.5 309.5 
L 578.5 307.166 
L 578.5 304.833 
L 578.5 302.5 
L 578.5 300.166 
L 578.5 297.833 
L 578.5 295.5 
L 578.5 293.166 
L 578.5 290.833 
L 578.5 288.5 
L 578.5 286.166 
L 578.5 283.833 
L 578.5 281.5 
" clip-path="url(#pb37a476ae2)" style="fill: none; stroke: #000000; stroke-width: 1.05; stroke-linejoin: miter"/>
</g>
</g>
<g id="axes_8">
<g id="patch_75">
<path d="M 593.5 491.5 
L 603.5 491.5 
L 603.5 281.5 
L 593.5 281.5 
z
" style="fill: #ffffff"/>
</g>
<g id="patch_76">
<path d="M 593.5 491.5 
L 603.5 491.5 
L 603.5 475.5 
L 593.5 475.5 
z
" clip-path="url(#pb8ecb7cdc1)" style="fill: #465ecf"/>
</g>
<g id="patch_77">
<path d="M 593.5 475.5 
L 603.5 475.5 
L 603.5 459.5 
L 593.5 459.5 
z
" clip-path="url(#pb8ecb7cdc1)" style="fill: #6180e9"/>
</g>
<g id="patch_78">
<path d="M 593.5 459.5 
L 603.5 459.5 
L 603.5 443.5 
L 593.5 443.5 
z
" clip-path="url(#pb8ecb7cdc1)" style="fill: #7da0f9"/>
</g>
<g id="patch_79">
<path d="M 593.5 443.5 
L 603.5 443.5 
L 603.5 426.5 
L 593.5 426.5 
z
" clip-path="url(#pb8ecb7cdc1)" style="fill: #9abbff"/>
</g>
<g id="patch_80">
<path d="M 593.5 426.5 
L 603.5 426.5 
L 603.5 410.5 
L 593.5 410.5 
z
" clip-path="url(#pb8ecb7cdc1)" style="fill: #b7cff9"/>
</g>
<g id="patch_81">
<path d="M 593.5 410.5 
L 603.5 410.5 
L 603.5 394.5 
L 593.5 394.5 
z
" clip-path="url(#pb8ecb7cdc1)" style="fill: #d1dae9"/>
</g>
<g id="patch_82">
<path d="M 593.5 394.5 
L 603.5 394.5 
L 603.5 378.5 
L 593.5 378.5 
z
" clip-path="url(#pb8ecb7cdc1)" style="fill: #e7d7ce"/>
</g>
<g id="patch_83">
<path d="M 593.5 378.5 
L 603.5 378.5 
L 603.5 362.5 
L 593.5 362.5 
z
" clip-path="url(#pb8ecb7cdc1)" style="fill: #f4c5ad"/>
</g>
<g id="patch_84">
<path d="M 593.5 362.5 
L 603.5 362.5 
L 603.5 346.5 
L 593.5 346.5 
z
" clip-path="url(#pb8ecb7cdc1)" style="fill: #f7aa8c"/>
</g>
<g id="patch_85">
<path d="M 593.5 346.5 
L 603.5 346.5 
L 603.5 329.5 
L 593.5 329.5 
z
" clip-path="url(#pb8ecb7cdc1)" style="fill: #ef886b"/>
</g>
<g id="patch_86">
<path d="M 593.5 329.5 
L 603.5 329.5 
L 603.5 313.5 
L 593.5 313.5 
z
" clip-path="url(#pb8ecb7cdc1)" style="fill: #de614d"/>
</g>
<g id="patch_87">
<path d="M 593.5 313.5 
L 603.5 313.5 
L 603.5 297.5 
L 593.5 297.5 
z
" clip-path="url(#pb8ecb7cdc1)" style="fill: #c32e31"/>
</g>
<g id="patch_88">
<path d="M 593.5 297.5 
L 603.5 297.5 
L 603.5 281.5 
L 593.5 281.5 
z
" clip-path="url(#pb8ecb7cdc1)" style="fill: #b40426"/>
</g>
<g id="matplotlib.axis_15"/>
<g id="matplotlib.axis_16">
<g id="ytick_69">
<g id="line2d_115">
<g>
<path d="M 0 0  L 5.833 0  " transform="translate(603.5 491.5)" style="stroke: #000000; stroke-width: 1.333"/>
</g>
</g>
<g id="text_70">
<text style="font-size: 13.89px; font-family: 'DejaVu Sans', sans-serif; text-anchor: start" x="615.166" y="496.777" transform="rotate(0 615.166 496.777)">-89.6</text>
</g>
</g>
<g id="ytick_70">
<g id="line2d_116">
<g>
<path d="M 0 0  L 5.833 0  " transform="translate(603.5 475.5)" style="stroke: #000000; stroke-width: 1.333"/>
</g>
</g>
<g id="text_71">
<text style="font-size: 13.89px; font-family: 'DejaVu Sans', sans-serif; text-anchor: start" x="615.166" y="480.777" transform="rotate(0 615.166 480.777)">-80</text>
</g>
</g>
<g id="ytick_71">
<g id="line2d_117">
<g>
<path d="M 0 0  L 5.833 0  " transform="translate(603.5 459.5)" style="stroke: #000000; stroke-width: 1.333"/>
</g>
</g>
<g id="text_72">
<text style="font-size: 13.89px; font-family: 'DejaVu Sans', sans-serif; text-anchor: start" x="615.166" y="464.777" transform="rotate(0 615.166 464.777)">-70</text>
</g>
</g>
<g id="ytick_72">
<g id="line2d_118">
<g>
<path d="M 0 0  L 5.833 0  " transform="translate(603.5 443.5)" style="stroke: #000000; stroke-width: 1.333"/>
</g>
</g>
<g id="text_73">
<text style="font-size: 13.89px; font-family: 'DejaVu Sans', sans-serif; text-anchor: start" x="615.166" y="448.777" transform="rotate(0 615.166 448.777)">-60</text>
</g>
</g>
<g id="ytick_73">
<g id="line2d_119">
<g>
<path d="M 0 0  L 5.833 0  " transform="translate(603.5 426.5)" style="stroke: #000000; stroke-width: 1.333"/>
</g>
</g>
<g id="text_74">
<text style="font-size: 13.89px; font-family: 'DejaVu Sans', sans-serif; text-anchor: start" x="615.166" y="431.777" transform="rotate(0 615.166 431.777)">-50</text>
</g>
</g>
<g id="ytick_74">
<g id="line2d_120">
<g>
<path d="M 0 0  L 5.833 0  " transform="translate(603.5 410.5)" style="stroke: #000000; stroke-width: 1.333"/>
</g>
</g>
<g id="text_75">
<text style="font-size: 13.89px; font-family: 'DejaVu Sans', sans-serif; text-anchor: start" x="615.166" y="415.777" transform="rotate(0 615.166 415.777)">-40</text>
</g>
</g>
<g id="ytick_75">
<g id="line2d_121">
<g>
<path d="M 0 0  L 5.833 0  " transform="translate(603.5 394.5)" style="stroke: #000000; stroke-width: 1.333"/>
</g>
</g>
<g id="text_76">
<text style="font-size: 13.89px; font-family: 'DejaVu Sans', sans-serif; text-anchor: start" x="615.166" y="399.777" transform="rotate(0 615.166 399.777)">-30</text>
</g>
</g>
<g id="ytick_76">
<g id="line2d_122">
<g>
<path d="M 0 0  L 5.833 0  " transform="translate(603.5 378.5)" style="stroke: #000000; stroke-width: 1.333"/>
</g>
</g>
<g id="text_77">
<text style="font-size: 13.89px; font-family: 'DejaVu Sans', sans-serif; text-anchor: start" x="615.166" y="383.777" transform="rotate(0 615.166 383.777)">-20</text>
</g>
</g>
<g id="ytick_77">
<g id="line2d_123">
<g>
<path d="M 0 0  L 5.833 0  " transform="translate(603.5 362.5)" style="stroke: #000000; stroke-width: 1.333"/>
</g>
</g>
<g id="text_78">
<text style="font-size: 13.89px; font-family: 'DejaVu Sans', sans-serif; text-anchor: start" x="615.166" y="367.777" transform="rotate(0 615.166 367.777)">-10</text>
</g>
</g>
<g id="ytick_78">
<g id="line2d_124">
<g>
<path d="M 0 0  L 5.833 0  " transform="translate(603.5 346.5)" style="stroke: #000000; stroke-width: 1.333"/>
</g>
</g>
<g id="text_79">
<text style="font-size: 13.89px; font-family: 'DejaVu Sans', sans-serif; text-anchor: start" x="615.166" y="351.777" transform="rotate(0 615.166 351.777)">0</text>
</g>
</g>
<g id="ytick_79">
<g id="line2d_125">
<g>
<path d="M 0 0  L 5.833 0  " transform="translate(603.5 329.5)" style="stroke: #000000; stroke-width: 1.333"/>
</g>
</g>
<g id="text_80">
<text style="font-size: 13.89px; font-family: 'DejaVu Sans', sans-serif; text-anchor: start" x="615.166" y="334.777" transform="rotate(0 615.166 334.777)">10</text>
</g>
</g>
<g id="ytick_80">
<g id="line2d_126">
<g>
<path d="M 0 0  L 5.833 0  " transform="translate(603.5 313.5)" style="stroke: #000000; stroke-width: 1.333"/>
</g>
</g>
<g id="text_81">
<text style="font-size: 13.89px; font-family: 'DejaVu Sans', sans-serif; text-anchor: start" x="615.166" y="318.777" transform="rotate(0 615.166 318.777)">20</text>
</g>
</g>
<g id="ytick_81">
<g id="line2d_127">
<g>
<path d="M 0 0  L 5.833 0  " transform="translate(603.5 297.5)" style="stroke: #000000; stroke-width: 1.333"/>
</g>
</g>
<g id="text_82">
<text style="font-size: 13.89px; font-family: 'DejaVu Sans', sans-serif; text-anchor: start" x="615.166" y="302.777" transform="rotate(0 615.166 302.777)">30</text>
</g>
</g>
<g id="ytick_82">
<g id="line2d_128">
<g>
<path d="M 0 0  L 5.833 0  " transform="translate(603.5 281.5)" style="stroke: #000000; stroke-width: 1.333"/>
</g>
</g>
<g id="text_83">
<text style="font-size: 13.89px; font-family: 'DejaVu Sans', sans-serif; text-anchor: start" x="615.166" y="286.777" transform="rotate(0 615.166 286.777)">30.1</text>
</g>
</g>
<g id="text_84">
<g transform="translate(668.325 466.159) rotate(-90)"><text><tspan x="0.000" y="-0.375" style="font-size: 13.89px; font-family: 'DejaVu Sans', sans-serif">stress trace tr(</tspan> <tspan x="102.558" y="-0.375" style="font-style: oblique; font-size: 13.89px; font-family: 'DejaVu Sans', sans-serif">σ</tspan> <tspan x="111.352" y="-0.375" style="font-size: 13.89px; font-family: 'DejaVu Sans', sans-serif">) / MPa</tspan></text></g>
</g>
</g>
<g id="line2d_129">
<path d="M 593.5 475.5 
L 603.5 475.5 
" clip-path="url(#pb8ecb7cdc1)" style="fill: none; stroke: #000000; stroke-opacity: 0.5"/>
</g>
<g id="line2d_130">
<path d="M 593.5 459.5 
L 603.5 459.5 
" clip-path="url(#pb8ecb7cdc1)" style="fill: none; stroke: #000000; stroke-opacity: 0.5"/>
</g>
<g id="line2d_131">
<path d="M 593.5 443.5 
L 603.5 443.5 
" clip-path="url(#pb8ecb7cdc1)" style="fill: none; stroke: #000000; stroke-opacity: 0.5"/>
</g>
<g id="line2d_132">
<path d="M 593.5 426.5 
L 603.5 426.5 
" clip-path="url(#pb8ecb7cdc1)" style="fill: none; stroke: #000000; stroke-opacity: 0.5"/>
</g>
<g id="line2d_133">
<path d="M 593.5 410.5 
L 603.5 410.5 
" clip-path="url(#pb8ecb7cdc1)" style="fill: none; stroke: #000000; stroke-opacity: 0.5"/>
</g>
<g id="line2d_134">
<path d="M 593.5 394.5 
L 603.5 394.5 
" clip-path="url(#pb8ecb7cdc1)" style="fill: none; stroke: #000000; stroke-opacity: 0.5"/>
</g>
<g id="line2d_135">
<path d="M 593.5 378.5 
L 603.5 378.5 
" clip-path="url(#pb8ecb7cdc1)" style="fill: none; stroke: #000000; stroke-opacity: 0.5"/>
</g>
<g id="line2d_136">
<path d="M 593.5 362.5 
L 603.5 362.5 
" clip-path="url(#pb8ecb7cdc1)" style="fill: none; stroke: #000000; stroke-opacity: 0.5"/>
</g>
<g id="line2d_137">
<path d="M 593.5 346.5 
L 603.5 346.5 
" clip-path="url(#pb8ecb7cdc1)" style="fill: none; stroke: #000000; stroke-opacity: 0.5"/>
</g>
<g id="line2d_138">
<path d="M 593.5 329.5 
L 603.5 329.5 
" clip-path="url(#pb8ecb7cdc1)" style="fill: none; stroke: #000000; stroke-opacity: 0.5"/>
</g>
<g id="line2d_139">
<path d="M 593.5 313.5 
L 603.5 313.5 
" clip-path="url(#pb8ecb7cdc1)" style="fill: none; stroke: #000000; stroke-opacity: 0.5"/>
</g>
<g id="line2d_140">
<path d="M 593.5 297.5 
L 603.5 297.5 
" clip-path="url(#pb8ecb7cdc1)" style="fill: none; stroke: #000000; stroke-opacity: 0.5"/>
</g>
<g id="patch_89">
<path d="M 593.5 491.5 
L 593.5 281.5 
" style="fill: none; stroke: #000000; stroke-width: 1.333; stroke-linejoin: miter; stroke-linecap: square"/>
</g>
<g id="patch_90">
<path d="M 603.5 491.5 
L 603.5 281.5 
" style="fill: none; stroke: #000000; stroke-width: 1.333; stroke-linejoin: miter; stroke-linecap: square"/>
</g>
<g id="patch_91">
<path d="M 593.5 491.5 
L 603.5 491.5 
" style="fill: none; stroke: #000000; stroke-width: 1.333; stroke-linejoin: miter; stroke-linecap: square"/>
</g>
<g id="patch_92">
<path d="M 593.5 281.5 
L 603.5 281.5 
" style="fill: none; stroke: #000000; stroke-width: 1.333; stroke-linejoin: miter; stroke-linecap: square"/>
</g>
</g>
</g>
<defs>
<clipPath id="p8887a29418">
<rect x="72.5" y="29.5" width="168" height="210"/>
</clipPath>
<clipPath id="peb44035c27">
<rect x="255.5" y="29.5" width="10" height="210"/>
</clipPath>
<clipPath id="p1865786474">
<rect x="411.5" y="29.5" width="168" height="210"/>
</clipPath>
<clipPath id="p2b530fde07">
<rect x="593.5" y="29.5" width="10" height="210"/>
</clipPath>
<clipPath id="p4f3d39bcc7">
<rect x="72.5" y="281.5" width="168" height="210"/>
</clipPath>
<clipPath id="p33efff24a5">
<rect x="255.5" y="281.5" width="10" height="210"/>
</clipPath>
<clipPath id="pb37a476ae2">
<rect x="411.5" y="281.5" width="168" height="210"/>
</clipPath>
<clipPath id="pb8ecb7cdc1">
<rect x="593.5" y="281.5" width="10" height="210"/>
</clipPath>
</defs>
</svg>

</body></html>
